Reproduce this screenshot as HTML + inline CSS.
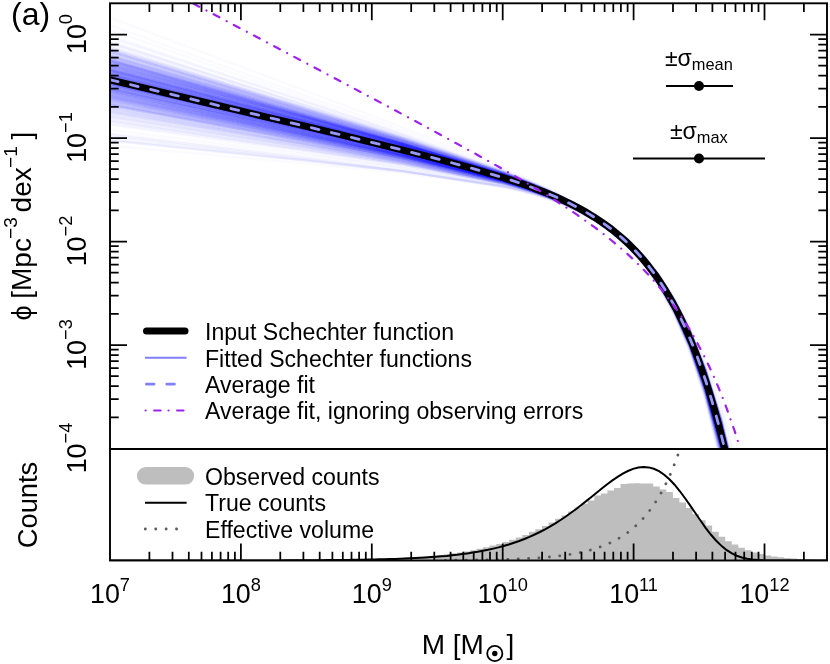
<!DOCTYPE html><html><head><meta charset="utf-8"><title>fig</title><style>html,body{margin:0;padding:0;background:#fff}svg{display:block;will-change:transform}text{font-family:"Liberation Sans",sans-serif;fill:#000}</style></head><body>
<svg width="830" height="664" viewBox="0 0 830 664">
<rect width="830" height="664" fill="#fff"/>
<defs><clipPath id="c1"><rect x="110.0" y="3.3" width="717.0" height="445.7"/></clipPath><clipPath id="c2"><rect x="110.0" y="449.0" width="717.0" height="111.5"/></clipPath></defs>
<g clip-path="url(#c1)" fill="none">
<g stroke="#2a2af8" stroke-opacity="0.025" stroke-width="2.4">
<path d="M103.5 78.8L203.3 102.5L303.1 126.3L402.9 150.6L502.7 177.9L518.3 183L533.9 188.6L549.5 194.7L565 201.6L580.6 209.5L596.2 218.7L611.8 229.7L627.4 243L643 259.2L658.5 279.5L674.1 305L689.7 337.3L705.3 378.6L720.9 431.9L729.5 470"/>
<path d="M103.5 72.9L203.3 97.6L303.1 122.4L402.9 147.7L502.7 176.2L518.3 181.5L533.9 187.3L549.5 193.6L565 200.8L580.6 208.9L596.2 218.5L611.8 229.8L627.4 243.5L643 260.3L658.5 281.2L674.1 307.4L689.7 340.8L705.3 383.4L720.9 438.2L727.9 470"/>
<path d="M103.5 70.1L203.3 95.4L303.1 120.7L402.9 146.6L502.7 175.5L518.3 180.9L533.9 186.7L549.5 193.1L565 200.2L580.6 208.4L596.2 217.9L611.8 229.2L627.4 242.8L643 259.5L658.5 280.1L674.1 306L689.7 338.8L705.3 380.8L720.9 434.7L728.7 470"/>
<path d="M103.5 79.2L203.3 102.6L303.1 126L402.9 150L502.7 177.2L518.3 182.3L533.9 187.9L549.5 194.1L565 201.1L580.6 209.1L596.2 218.5L611.8 229.8L627.4 243.4L643 260.2L658.5 281.2L674.1 307.5L689.7 341.1L705.3 384.1L720.9 439.5L727.5 470"/>
<path d="M103.5 53.7L203.3 83.2L303.1 112.8L402.9 142.8L502.7 175.8L518.3 181.7L533.9 188.1L549.5 195L565 202.6L580.6 211.2L596.2 221.1L611.8 232.6L627.4 246.3L643 262.8L658.5 283.1L674.1 308.4L689.7 340.2L705.3 380.6L720.9 432.2L729.7 470"/>
<path d="M103.5 53L203.3 82.5L303.1 112.1L402.9 142.1L502.7 175.1L518.3 181L533.9 187.4L549.5 194.3L565 201.9L580.6 210.5L596.2 220.3L611.8 231.7L627.4 245.4L643 261.8L658.5 282L674.1 307.1L689.7 338.7L705.3 378.8L720.9 430.1L730.3 470"/>
<path d="M103.5 91.6L203.3 113.1L303.1 134.6L402.9 156.7L502.7 181.9L518.3 186.8L533.9 192L549.5 197.9L565 204.6L580.6 212.3L596.2 221.5L611.8 232.4L627.4 245.8L643 262.3L658.5 282.9L674.1 309.1L689.7 342.4L705.3 385.1L720.9 440.3L727.3 470"/>
<path d="M103.5 79.5L203.3 103.4L303.1 127.3L402.9 151.8L502.7 179.3L518.3 184.4L533.9 190L549.5 196.2L565 203.1L580.6 211L596.2 220.3L611.8 231.3L627.4 244.7L643 261L658.5 281.3L674.1 306.9L689.7 339.4L705.3 380.9L720.9 434.4L728.9 470"/>
<path d="M103.5 80.7L203.3 104L303.1 127.3L402.9 151.2L502.7 178.3L518.3 183.4L533.9 188.9L549.5 195.1L565 202.1L580.6 210.1L596.2 219.5L611.8 230.8L627.4 244.4L643 261.2L658.5 282.2L674.1 308.6L689.7 342.3L705.3 385.4L720.9 441L727.2 470"/>
<path d="M103.5 65.4L203.3 91.7L303.1 118L402.9 144.9L502.7 174.7L518.3 180.1L533.9 186L549.5 192.5L565 199.7L580.6 207.9L596.2 217.4L611.8 228.6L627.4 242.1L643 258.5L658.5 278.7L674.1 304.1L689.7 336.2L705.3 377.1L720.9 429.6L730.1 470"/>
<path d="M103.5 82L203.3 104.9L303.1 127.9L402.9 151.4L502.7 178L518.3 183L533.9 188.4L549.5 194.4L565 201.3L580.6 209.1L596.2 218.3L611.8 229.3L627.4 242.6L643 258.9L658.5 279.3L674.1 305L689.7 337.7L705.3 379.6L720.9 433.5L729 470"/>
<path d="M103.5 82.1L203.3 105.6L303.1 129.1L402.9 153.2L502.7 180.2L518.3 185.2L533.9 190.7L549.5 196.7L565 203.4L580.6 211.2L596.2 220.2L611.8 230.9L627.4 243.8L643 259.7L658.5 279.4L674.1 304.2L689.7 335.6L705.3 375.7L720.9 427.4L730.8 470"/>
<path d="M103.5 77.1L203.3 100.4L303.1 123.8L402.9 147.8L502.7 174.9L518.3 180L533.9 185.5L549.5 191.7L565 198.6L580.6 206.6L596.2 216L611.8 227.2L627.4 240.7L643 257.4L658.5 278.2L674.1 304.3L689.7 337.6L705.3 380.3L720.9 435.3L728.5 470"/>
<path d="M103.5 60.2L203.3 87.7L303.1 115.2L402.9 143.3L502.7 174.3L518.3 179.9L533.9 186L549.5 192.6L565 200L580.6 208.3L596.2 217.9L611.8 229.1L627.4 242.6L643 258.9L658.5 279.1L674.1 304.2L689.7 335.9L705.3 376.3L720.9 428.1L730.6 470"/>
<path d="M103.5 87.3L203.3 108.8L303.1 130.4L402.9 152.6L502.7 178L518.3 182.8L533.9 188.1L549.5 194L565 200.7L580.6 208.4L596.2 217.5L611.8 228.4L627.4 241.8L643 258.2L658.5 278.8L674.1 304.8L689.7 338L705.3 380.5L720.9 435.5L728.4 470"/>
<path d="M103.5 69.2L203.3 95L303.1 120.9L402.9 147.3L502.7 176.7L518.3 182.1L533.9 188L549.5 194.4L565 201.5L580.6 209.6L596.2 219.1L611.8 230.2L627.4 243.5L643 259.9L658.5 280L674.1 305.3L689.7 337.2L705.3 378L720.9 430.4L730 470"/>
<path d="M103.5 60.9L203.3 88.4L303.1 115.9L402.9 143.9L502.7 175L518.3 180.6L533.9 186.7L549.5 193.4L565 200.8L580.6 209.2L596.2 218.9L611.8 230.3L627.4 243.9L643 260.5L658.5 281L674.1 306.6L689.7 339L705.3 380.1L720.9 432.9L729.4 470"/>
<path d="M103.5 94.9L203.3 115L303.1 135.2L402.9 155.9L502.7 180.1L518.3 184.7L533.9 189.9L549.5 195.7L565 202.4L580.6 210.2L596.2 219.4L611.8 230.6L627.4 244.3L643 261.3L658.5 282.7L674.1 309.9L689.7 344.7L705.3 389.4L720.9 447.3L725.6 470"/>
<path d="M103.5 35.4L203.3 68.4L303.1 101.4L402.9 135L502.7 171.3L518.3 177.7L533.9 184.5L549.5 191.8L565 199.9L580.6 208.8L596.2 219L611.8 230.7L627.4 244.6L643 261.1L658.5 281.3L674.1 306.2L689.7 337.3L705.3 376.6L720.9 426.7L731.4 470"/>
<path d="M103.5 88.5L203.3 110L303.1 131.6L402.9 153.8L502.7 179.1L518.3 184L533.9 189.3L549.5 195.2L565 201.9L580.6 209.7L596.2 218.8L611.8 229.8L627.4 243.2L643 259.8L658.5 280.5L674.1 306.7L689.7 340.1L705.3 383.1L720.9 438.4L727.7 470"/>
<path d="M103.5 100.4L203.3 119.3L303.1 138.2L402.9 157.8L502.7 180.7L518.3 185.2L533.9 190.1L549.5 195.7L565 202.1L580.6 209.7L596.2 218.6L611.8 229.5L627.4 242.9L643 259.6L658.5 280.6L674.1 307.2L689.7 341.4L705.3 385.4L720.9 442.4L726.7 470"/>
<path d="M103.5 77.8L203.3 101.8L303.1 126L402.9 150.7L502.7 178.5L518.3 183.7L533.9 189.3L549.5 195.5L565 202.5L580.6 210.5L596.2 219.8L611.8 230.9L627.4 244.4L643 260.9L658.5 281.3L674.1 307.1L689.7 339.8L705.3 381.6L720.9 435.5L728.6 470"/>
<path d="M103.5 73.8L203.3 98.4L303.1 123.2L402.9 148.4L502.7 176.6L518.3 181.8L533.9 187.4L549.5 193.6L565 200.5L580.6 208.4L596.2 217.5L611.8 228.4L627.4 241.4L643 257.3L658.5 277.1L674.1 301.8L689.7 333.2L705.3 373.2L720.9 424.6L731.5 470"/>
<path d="M103.5 99.7L203.3 118.3L303.1 137.1L402.9 156.5L502.7 179.2L518.3 183.6L533.9 188.5L549.5 194.1L565 200.5L580.6 208L596.2 216.9L611.8 227.8L627.4 241.1L643 257.8L658.5 278.7L674.1 305.4L689.7 339.5L705.3 383.5L720.9 440.4L727.1 470"/>
<path d="M103.5 85.4L203.3 107.3L303.1 129.2L402.9 151.7L502.7 177.5L518.3 182.5L533.9 187.9L549.5 193.9L565 200.7L580.6 208.7L596.2 218.1L611.8 229.3L627.4 243L643 260L658.5 281.3L674.1 308.1L689.7 342.4L705.3 386.5L720.9 443.3L726.5 470"/>
<path d="M103.5 49.6L203.3 79.8L303.1 110L402.9 140.7L502.7 174.2L518.3 180.2L533.9 186.7L549.5 193.6L565 201.3L580.6 210L596.2 219.9L611.8 231.4L627.4 245L643 261.5L658.5 281.7L674.1 306.8L689.7 338.4L705.3 378.4L720.9 429.5L730.5 470"/>
<path d="M103.5 139.9L203.3 150.1L303.1 160.4L402.9 171.4L502.7 186.2L518.3 189.5L533.9 193.4L549.5 198L565 203.6L580.6 210.3L596.2 218.8L611.8 229.4L627.4 242.8L643 260L658.5 282.1L674.1 310.6L689.7 347.6L705.3 395.8L720.9 458.8L723 470"/>
<path d="M103.5 97L203.3 116.7L303.1 136.4L402.9 156.7L502.7 180.2L518.3 184.8L533.9 189.8L549.5 195.5L565 202L580.6 209.5L596.2 218.5L611.8 229.4L627.4 242.7L643 259.2L658.5 280L674.1 306.4L689.7 340.1L705.3 383.5L720.9 439.7L727.4 470"/>
<path d="M103.5 96.9L203.3 116.4L303.1 136L402.9 156.2L502.7 179.7L518.3 184.3L533.9 189.4L549.5 195.1L565 201.6L580.6 209.3L596.2 218.5L611.8 229.5L627.4 243.1L643 260L658.5 281.3L674.1 308.4L689.7 343L705.3 387.6L720.9 445.3L726 470"/>
<path d="M103.5 60L203.3 87.9L303.1 116L402.9 144.5L502.7 175.9L518.3 181.6L533.9 187.7L549.5 194.3L565 201.7L580.6 210.1L596.2 219.6L611.8 230.9L627.4 244.3L643 260.6L658.5 280.6L674.1 305.6L689.7 337.1L705.3 377.1L720.9 428.4L730.7 470"/>
<path d="M103.5 81.8L203.3 104.9L303.1 128.1L402.9 151.8L502.7 178.6L518.3 183.7L533.9 189.1L549.5 195.2L565 202L580.6 209.9L596.2 219.1L611.8 230.1L627.4 243.4L643 259.8L658.5 280.2L674.1 305.9L689.7 338.5L705.3 380.4L720.9 434.2L728.9 470"/>
<path d="M103.5 48.1L203.3 78.1L303.1 108.2L402.9 138.8L502.7 172.3L518.3 178.4L533.9 184.8L549.5 191.9L565 199.6L580.6 208.3L596.2 218.4L611.8 230L627.4 243.9L643 260.8L658.5 281.4L674.1 307.1L689.7 339.3L705.3 380.3L720.9 432.8L729.5 470"/>
<path d="M103.5 88.4L203.3 109.4L303.1 130.5L402.9 152.2L502.7 177.3L518.3 182.1L533.9 187.5L549.5 193.4L565 200.2L580.6 208.2L596.2 217.6L611.8 228.9L627.4 242.7L643 259.9L658.5 281.5L674.1 308.9L689.7 343.9L705.3 388.8L720.9 446.9L725.6 470"/>
<path d="M103.5 91.5L203.3 112.8L303.1 134.1L402.9 156L502.7 181L518.3 185.8L533.9 191L549.5 196.9L565 203.5L580.6 211.2L596.2 220.2L611.8 231.1L627.4 244.3L643 260.7L658.5 281.2L674.1 307.1L689.7 340.2L705.3 382.6L720.9 437.3L728 470"/>
<path d="M103.5 120.4L203.3 135L303.1 149.6L402.9 164.9L502.7 183.6L518.3 187.4L533.9 191.8L549.5 196.9L565 202.8L580.6 209.8L596.2 218.4L611.8 229L627.4 242.2L643 258.8L658.5 279.9L674.1 307L689.7 342L705.3 387.2L720.9 446L725.7 470"/>
<path d="M103.5 62.1L203.3 89.6L303.1 117.2L402.9 145.3L502.7 176.2L518.3 181.7L533.9 187.8L549.5 194.3L565 201.6L580.6 209.7L596.2 219.2L611.8 230.2L627.4 243.3L643 259.3L658.5 278.9L674.1 303.4L689.7 334.2L705.3 373.4L720.9 423.7L732 470"/>
<path d="M103.5 68L203.3 94.1L303.1 120.4L402.9 147.3L502.7 177.1L518.3 182.6L533.9 188.5L549.5 195L565 202.3L580.6 210.6L596.2 220.2L611.8 231.5L627.4 245.1L643 261.8L658.5 282.4L674.1 308.1L689.7 340.8L705.3 382.4L720.9 435.9L728.6 470"/>
<path d="M103.5 81.6L203.3 104.7L303.1 127.9L402.9 151.6L502.7 178.3L518.3 183.3L533.9 188.7L549.5 194.7L565 201.5L580.6 209.2L596.2 218.3L611.8 229.1L627.4 242.1L643 258.1L658.5 278L674.1 303.1L689.7 335L705.3 375.7L720.9 428.2L730.5 470"/>
<path d="M103.5 73.2L203.3 97.9L303.1 122.7L402.9 148.1L502.7 176.5L518.3 181.8L533.9 187.5L549.5 193.8L565 200.9L580.6 209L596.2 218.5L611.8 229.7L627.4 243.3L643 259.9L658.5 280.6L674.1 306.5L689.7 339.4L705.3 381.5L720.9 435.6L728.5 470"/>
<path d="M103.5 74L203.3 98.7L303.1 123.4L402.9 148.7L502.7 177.1L518.3 182.5L533.9 188.2L549.5 194.6L565 201.8L580.6 210L596.2 219.6L611.8 231L627.4 244.8L643 261.8L658.5 282.9L674.1 309.4L689.7 343.1L705.3 386.3L720.9 441.7L727 470"/>
<path d="M103.5 67.4L203.3 93.3L303.1 119.2L402.9 145.6L502.7 175.1L518.3 180.6L533.9 186.5L549.5 193L565 200.3L580.6 208.6L596.2 218.2L611.8 229.6L627.4 243.4L643 260.2L658.5 281L674.1 307.2L689.7 340.3L705.3 382.6L720.9 436.9L728.2 470"/>
<path d="M103.5 49.6L203.3 79.6L303.1 109.8L402.9 140.5L502.7 174L518.3 180L533.9 186.4L549.5 193.3L565 201L580.6 209.6L596.2 219.5L611.8 231L627.4 244.6L643 261.1L658.5 281.2L674.1 306.3L689.7 337.7L705.3 377.7L720.9 428.7L730.7 470"/>
<path d="M103.5 88.8L203.3 110.2L303.1 131.6L402.9 153.7L502.7 178.9L518.3 183.6L533.9 188.9L549.5 194.8L565 201.4L580.6 209.1L596.2 218.2L611.8 229.1L627.4 242.4L643 258.9L658.5 279.5L674.1 305.5L689.7 338.6L705.3 381.2L720.9 436.1L728.3 470"/>
<path d="M103.5 95.8L203.3 115.6L303.1 135.5L402.9 156L502.7 179.8L518.3 184.4L533.9 189.5L549.5 195.2L565 201.8L580.6 209.4L596.2 218.5L611.8 229.5L627.4 242.9L643 259.6L658.5 280.6L674.1 307.2L689.7 341.2L705.3 385L720.9 441.7L726.9 470"/>
<path d="M103.5 56.2L203.3 85L303.1 113.9L402.9 143.2L502.7 175.4L518.3 181.1L533.9 187.3L549.5 194L565 201.4L580.6 209.7L596.2 219.1L611.8 230.2L627.4 243.4L643 259.2L658.5 278.7L674.1 302.9L689.7 333.3L705.3 371.8L720.9 421.1L732.9 470"/>
<path d="M103.5 78.1L203.3 101.9L303.1 125.8L402.9 150.2L502.7 177.8L518.3 182.9L533.9 188.5L549.5 194.7L565 201.7L580.6 209.7L596.2 219.1L611.8 230.3L627.4 243.7L643 260.3L658.5 281L674.1 306.9L689.7 339.9L705.3 382.2L720.9 436.6L728.3 470"/>
<path d="M103.5 73.8L203.3 98.4L303.1 123.1L402.9 148.4L502.7 176.7L518.3 182L533.9 187.7L549.5 194L565 201L580.6 209.1L596.2 218.4L611.8 229.6L627.4 243L643 259.5L658.5 279.9L674.1 305.5L689.7 338.1L705.3 379.7L720.9 433.2L729.2 470"/>
<path d="M103.5 89.1L203.3 110.6L303.1 132.3L402.9 154.4L502.7 179.7L518.3 184.5L533.9 189.8L549.5 195.6L565 202.3L580.6 210L596.2 219L611.8 229.8L627.4 243L643 259.3L658.5 279.6L674.1 305.3L689.7 338L705.3 380L720.9 434.2L728.8 470"/>
<path d="M103.5 92.8L203.3 113.5L303.1 134.3L402.9 155.6L502.7 180.1L518.3 184.7L533.9 189.8L549.5 195.5L565 202L580.6 209.5L596.2 218.4L611.8 229L627.4 242L643 258L658.5 278.1L674.1 303.5L689.7 335.8L705.3 377.4L720.9 431.1L729.6 470"/>
<path d="M103.5 103.4L203.3 121.5L303.1 139.7L402.9 158.4L502.7 180.3L518.3 184.7L533.9 189.4L549.5 194.8L565 201L580.6 208.3L596.2 217L611.8 227.5L627.4 240.4L643 256.5L658.5 276.9L674.1 302.7L689.7 335.9L705.3 378.5L720.9 433.8L728.7 470"/>
<path d="M103.5 98.2L203.3 117.1L303.1 136.2L402.9 155.8L502.7 178.8L518.3 183.3L533.9 188.3L549.5 194L565 200.5L580.6 208.2L596.2 217.3L611.8 228.4L627.4 242L643 259.1L658.5 280.5L674.1 307.9L689.7 342.9L705.3 388L720.9 446.4L725.7 470"/>
<path d="M103.5 90.3L203.3 111.2L303.1 132.2L402.9 153.8L502.7 178.3L518.3 183L533.9 188.1L549.5 193.7L565 200.1L580.6 207.6L596.2 216.3L611.8 226.7L627.4 239.4L643 255.1L658.5 274.6L674.1 299.3L689.7 330.8L705.3 371.2L720.9 423.3L731.7 470"/>
<path d="M103.5 44.8L203.3 76.2L303.1 107.6L402.9 139.5L502.7 174.1L518.3 180.2L533.9 186.7L549.5 193.8L565 201.5L580.6 210.1L596.2 219.9L611.8 231.3L627.4 244.7L643 260.8L658.5 280.4L674.1 304.6L689.7 335L705.3 373.4L720.9 422.4L732.7 470"/>
<path d="M103.5 106.8L203.3 124.6L303.1 142.5L402.9 161L502.7 183L518.3 187.3L533.9 192.2L549.5 197.8L565 204.2L580.6 211.9L596.2 221L611.8 232.1L627.4 245.9L643 263.2L658.5 285L674.1 312.8L689.7 348.5L705.3 394.6L720.9 454.4L724 470"/>
<path d="M103.5 78.7L203.3 102.3L303.1 125.9L402.9 150.1L502.7 177.4L518.3 182.5L533.9 188L549.5 194.2L565 201.1L580.6 209.1L596.2 218.4L611.8 229.5L627.4 242.9L643 259.4L658.5 280L674.1 305.8L689.7 338.7L705.3 380.8L720.9 435L728.7 470"/>
<path d="M103.5 57.4L203.3 85.9L303.1 114.4L402.9 143.5L502.7 175.5L518.3 181.2L533.9 187.4L549.5 194.2L565 201.7L580.6 210.1L596.2 219.9L611.8 231.2L627.4 244.8L643 261.2L658.5 281.4L674.1 306.6L689.7 338.4L705.3 378.7L720.9 430.4L730.1 470"/>
<path d="M103.5 96.7L203.3 116.2L303.1 135.9L402.9 156.1L502.7 179.6L518.3 184.1L533.9 189.1L549.5 194.8L565 201.3L580.6 208.8L596.2 217.8L611.8 228.6L627.4 241.8L643 258.3L658.5 279.1L674.1 305.4L689.7 339L705.3 382.3L720.9 438.2L727.7 470"/>
<path d="M103.5 69L203.3 94.8L303.1 120.7L402.9 147.2L502.7 176.7L518.3 182.1L533.9 188L549.5 194.5L565 201.8L580.6 210.1L596.2 219.7L611.8 231.1L627.4 244.8L643 261.6L658.5 282.4L674.1 308.5L689.7 341.6L705.3 383.8L720.9 438.1L728 470"/>
<path d="M103.5 66.7L203.3 92.9L303.1 119.1L402.9 145.9L502.7 175.6L518.3 181L533.9 186.9L549.5 193.3L565 200.5L580.6 208.6L596.2 218.1L611.8 229.2L627.4 242.5L643 258.7L658.5 278.8L674.1 303.9L689.7 335.7L705.3 376.2L720.9 428.1L730.6 470"/>
<path d="M103.5 58.7L203.3 86.8L303.1 115L402.9 143.6L502.7 175.1L518.3 180.8L533.9 186.9L549.5 193.5L565 200.9L580.6 209.1L596.2 218.6L611.8 229.8L627.4 243L643 259L658.5 278.7L674.1 303.3L689.7 334.2L705.3 373.5L720.9 423.7L732 470"/>
<path d="M103.5 56L203.3 84.3L303.1 112.6L402.9 141.5L502.7 173.3L518.3 179.1L533.9 185.3L549.5 192L565 199.5L580.6 208L596.2 217.7L611.8 229.2L627.4 242.8L643 259.4L658.5 279.7L674.1 305.2L689.7 337.2L705.3 378L720.9 430.2L730.1 470"/>
<path d="M103.5 77.8L203.3 101.3L303.1 124.8L402.9 148.9L502.7 176L518.3 181.1L533.9 186.7L549.5 192.8L565 199.7L580.6 207.7L596.2 217L611.8 228.1L627.4 241.5L643 258.1L658.5 278.6L674.1 304.6L689.7 337.5L705.3 379.7L720.9 434L728.8 470"/>
<path d="M103.5 48.3L203.3 79L303.1 109.7L402.9 140.9L502.7 175L518.3 181.1L533.9 187.6L549.5 194.7L565 202.5L580.6 211.2L596.2 221.2L611.8 232.9L627.4 246.7L643 263.3L658.5 283.7L674.1 309L689.7 340.8L705.3 381L720.9 432.5L729.7 470"/>
<path d="M103.5 65.9L203.3 91.8L303.1 117.9L402.9 144.5L502.7 174.1L518.3 179.5L533.9 185.4L549.5 191.9L565 199.1L580.6 207.4L596.2 216.9L611.8 228.2L627.4 241.8L643 258.4L658.5 278.9L674.1 304.7L689.7 337.3L705.3 378.9L720.9 432.3L729.4 470"/>
<path d="M103.5 53.9L203.3 82.4L303.1 111.1L402.9 140.3L502.7 172.4L518.3 178.2L533.9 184.5L549.5 191.3L565 198.9L580.6 207.5L596.2 217.3L611.8 228.9L627.4 242.7L643 259.4L658.5 280L674.1 305.7L689.7 338.1L705.3 379.4L720.9 432.2L729.5 470"/>
<path d="M103.5 78.9L203.3 102.4L303.1 126.1L402.9 150.2L502.7 177.5L518.3 182.6L533.9 188.1L549.5 194.3L565 201.2L580.6 209.1L596.2 218.4L611.8 229.4L627.4 242.8L643 259.2L658.5 279.6L674.1 305.4L689.7 338.1L705.3 379.9L720.9 433.8L729 470"/>
<path d="M103.5 99.8L203.3 119.1L303.1 138.5L402.9 158.5L502.7 181.7L518.3 186.2L533.9 191.2L549.5 196.7L565 203.2L580.6 210.6L596.2 219.5L611.8 230.2L627.4 243.4L643 259.8L658.5 280.4L674.1 306.5L689.7 339.9L705.3 383L720.9 438.6L727.6 470"/>
<path d="M103.5 70.2L203.3 96.1L303.1 122.2L402.9 148.7L502.7 178.1L518.3 183.5L533.9 189.3L549.5 195.6L565 202.7L580.6 210.7L596.2 220L611.8 230.9L627.4 244L643 260L658.5 279.7L674.1 304.3L689.7 335.5L705.3 375.2L720.9 426.1L731.3 470"/>
<path d="M103.5 81.6L203.3 103.9L303.1 126.3L402.9 149.3L502.7 175.5L518.3 180.5L533.9 186L549.5 192.1L565 199L580.6 207L596.2 216.4L611.8 227.7L627.4 241.4L643 258.4L658.5 279.6L674.1 306.5L689.7 340.7L705.3 384.6L720.9 441.2L727 470"/>
<path d="M103.5 71.6L203.3 96.7L303.1 122L402.9 147.7L502.7 176.4L518.3 181.7L533.9 187.4L549.5 193.7L565 200.7L580.6 208.7L596.2 217.9L611.8 228.9L627.4 242.1L643 258.1L658.5 278L674.1 303L689.7 334.6L705.3 374.9L720.9 426.7L731 470"/>
<path d="M103.5 81.7L203.3 104.6L303.1 127.6L402.9 151.2L502.7 177.8L518.3 182.8L533.9 188.3L549.5 194.4L565 201.2L580.6 209.1L596.2 218.3L611.8 229.3L627.4 242.6L643 259.1L658.5 279.6L674.1 305.4L689.7 338.2L705.3 380.3L720.9 434.5L728.7 470"/>
<path d="M103.5 76.6L203.3 100.3L303.1 124.1L402.9 148.4L502.7 175.9L518.3 181L533.9 186.6L549.5 192.7L565 199.7L580.6 207.7L596.2 217L611.8 228L627.4 241.5L643 257.9L658.5 278.4L674.1 304.2L689.7 337L705.3 378.9L720.9 432.9L729.1 470"/>
<path d="M103.5 86.3L203.3 108.6L303.1 131L402.9 153.9L502.7 179.8L518.3 184.7L533.9 189.9L549.5 195.8L565 202.4L580.6 210L596.2 218.9L611.8 229.5L627.4 242.3L643 258.1L658.5 277.8L674.1 302.6L689.7 334.1L705.3 374.4L720.9 426.4L731 470"/>
<path d="M103.5 39.6L203.3 71.6L303.1 103.7L402.9 136.3L502.7 171.5L518.3 177.7L533.9 184.3L549.5 191.3L565 199.1L580.6 207.7L596.2 217.5L611.8 228.7L627.4 241.9L643 257.8L658.5 277L674.1 300.7L689.7 330.4L705.3 367.8L720.9 415.4L734.8 470"/>
<path d="M103.5 87.7L203.3 109.3L303.1 131L402.9 153.2L502.7 178.6L518.3 183.4L533.9 188.7L549.5 194.6L565 201.3L580.6 209L596.2 218.1L611.8 228.9L627.4 242.2L643 258.6L658.5 279.1L674.1 305L689.7 337.9L705.3 380.3L720.9 434.9L728.6 470"/>
<path d="M103.5 73.5L203.3 97.8L303.1 122.2L402.9 147.2L502.7 175.2L518.3 180.4L533.9 186L549.5 192.3L565 199.2L580.6 207.2L596.2 216.6L611.8 227.6L627.4 241L643 257.4L658.5 277.7L674.1 303.2L689.7 335.7L705.3 377.1L720.9 430.4L729.8 470"/>
<path d="M103.5 83.7L203.3 106.3L303.1 129L402.9 152.2L502.7 178.7L518.3 183.7L533.9 189.1L549.5 195.2L565 202L580.6 209.9L596.2 219.2L611.8 230.3L627.4 243.8L643 260.5L658.5 281.3L674.1 307.5L689.7 341L705.3 383.8L720.9 439L727.6 470"/>
<path d="M103.5 97.7L203.3 117.3L303.1 136.9L402.9 157.1L502.7 180.6L518.3 185.1L533.9 190.1L549.5 195.8L565 202.2L580.6 209.7L596.2 218.7L611.8 229.5L627.4 242.7L643 259.1L658.5 279.8L674.1 306L689.7 339.5L705.3 382.6L720.9 438.4L727.7 470"/>
<path d="M103.5 78.3L203.3 102.2L303.1 126.2L402.9 150.7L502.7 178.2L518.3 183.3L533.9 188.9L549.5 195L565 201.8L580.6 209.7L596.2 218.8L611.8 229.7L627.4 242.8L643 258.8L658.5 278.7L674.1 303.8L689.7 335.5L705.3 376.1L720.9 428.4L730.5 470"/>
<path d="M103.5 77.1L203.3 101.5L303.1 126L402.9 151L502.7 179L518.3 184.2L533.9 189.9L549.5 196.1L565 203.1L580.6 211.1L596.2 220.4L611.8 231.5L627.4 244.8L643 261.2L658.5 281.5L674.1 307L689.7 339.3L705.3 380.7L720.9 433.9L729.1 470"/>
<path d="M103.5 67.4L203.3 93.8L303.1 120.2L402.9 147.2L502.7 177.1L518.3 182.5L533.9 188.4L549.5 194.8L565 202L580.6 210.1L596.2 219.4L611.8 230.4L627.4 243.6L643 259.6L658.5 279.4L674.1 304.2L689.7 335.4L705.3 375.2L720.9 426.2L731.2 470"/>
<path d="M103.5 59.6L203.3 87.7L303.1 115.8L402.9 144.4L502.7 175.7L518.3 181.4L533.9 187.4L549.5 194L565 201.3L580.6 209.5L596.2 218.9L611.8 229.8L627.4 242.9L643 258.7L658.5 278.1L674.1 302.2L689.7 332.6L705.3 371.2L720.9 420.5L733 470"/>
<path d="M103.5 90.7L203.3 112L303.1 133.3L402.9 155.2L502.7 180.3L518.3 185L533.9 190.3L549.5 196.1L565 202.8L580.6 210.5L596.2 219.6L611.8 230.5L627.4 243.7L643 260.2L658.5 280.7L674.1 306.8L689.7 339.9L705.3 382.5L720.9 437.5L728 470"/>
<path d="M103.5 107.5L203.3 124.8L303.1 142.2L402.9 160.2L502.7 181.6L518.3 185.9L533.9 190.6L549.5 196L565 202.3L580.6 209.6L596.2 218.4L611.8 229.2L627.4 242.5L643 259.1L658.5 280.1L674.1 306.9L689.7 341.3L705.3 385.7L720.9 443.3L726.4 470"/>
<path d="M103.5 93.1L203.3 113.7L303.1 134.4L402.9 155.6L502.7 180.2L518.3 184.9L533.9 190.2L549.5 196L565 202.7L580.6 210.5L596.2 219.8L611.8 231L627.4 244.7L643 261.6L658.5 283L674.1 310L689.7 344.6L705.3 389.1L720.9 446.5L725.8 470"/>
<path d="M103.5 61.2L203.3 88.4L303.1 115.6L402.9 143.3L502.7 173.8L518.3 179.4L533.9 185.3L549.5 191.8L565 199L580.6 207.2L596.2 216.6L611.8 227.6L627.4 240.7L643 256.7L658.5 276.3L674.1 300.9L689.7 331.8L705.3 371.1L720.9 421.5L732.5 470"/>
<path d="M103.5 87.8L203.3 109.7L303.1 131.8L402.9 154.3L502.7 179.8L518.3 184.6L533.9 189.8L549.5 195.6L565 202.1L580.6 209.6L596.2 218.4L611.8 228.9L627.4 241.6L643 257.2L658.5 276.7L674.1 301.2L689.7 332.4L705.3 372.4L720.9 423.9L731.7 470"/>
<path d="M103.5 56.8L203.3 84.8L303.1 112.8L402.9 141.4L502.7 172.8L518.3 178.5L533.9 184.7L549.5 191.4L565 198.8L580.6 207.1L596.2 216.8L611.8 228.1L627.4 241.5L643 257.9L658.5 278L674.1 303.2L689.7 334.8L705.3 375.1L720.9 426.7L731 470"/>
<path d="M103.5 61.6L203.3 89L303.1 116.4L402.9 144.3L502.7 175.3L518.3 180.9L533.9 187L549.5 193.7L565 201.1L580.6 209.6L596.2 219.3L611.8 230.7L627.4 244.5L643 261.2L658.5 281.8L674.1 307.6L689.7 340.2L705.3 381.8L720.9 435.1L728.8 470"/>
<path d="M103.5 75.1L203.3 99.4L303.1 123.8L402.9 148.8L502.7 176.8L518.3 182L533.9 187.6L549.5 193.8L565 200.8L580.6 208.8L596.2 218.1L611.8 229.1L627.4 242.4L643 258.7L658.5 279L674.1 304.4L689.7 336.7L705.3 377.9L720.9 431L729.7 470"/>
<path d="M103.5 84L203.3 106.5L303.1 129.1L402.9 152.2L502.7 178.4L518.3 183.4L533.9 188.8L549.5 194.8L565 201.5L580.6 209.3L596.2 218.5L611.8 229.4L627.4 242.6L643 259L658.5 279.3L674.1 305L689.7 337.7L705.3 379.6L720.9 433.6L729 470"/>
<path d="M103.5 105.6L203.3 123.4L303.1 141.3L402.9 159.8L502.7 181.5L518.3 185.8L533.9 190.5L549.5 195.9L565 202.1L580.6 209.4L596.2 218L611.8 228.6L627.4 241.6L643 257.9L658.5 278.4L674.1 304.4L689.7 337.9L705.3 380.9L720.9 436.8L728 470"/>
<path d="M103.5 94.7L203.3 114.9L303.1 135.2L402.9 156.1L502.7 180.4L518.3 185.1L533.9 190.4L549.5 196.2L565 203L580.6 210.9L596.2 220.2L611.8 231.6L627.4 245.5L643 262.8L658.5 284.6L674.1 312.2L689.7 347.6L705.3 393.2L720.9 452.1L724.5 470"/>
<path d="M103.5 104.1L203.3 122.6L303.1 141.2L402.9 160.4L502.7 182.8L518.3 187.2L533.9 192.1L549.5 197.7L565 204L580.6 211.5L596.2 220.3L611.8 231.1L627.4 244.4L643 261L658.5 281.8L674.1 308.4L689.7 342.3L705.3 386.1L720.9 442.9L726.6 470"/>
<path d="M103.5 66L203.3 91.9L303.1 117.8L402.9 144.2L502.7 173.6L518.3 178.9L533.9 184.8L549.5 191.1L565 198.2L580.6 206.3L596.2 215.6L611.8 226.7L627.4 239.9L643 256L658.5 276L674.1 300.9L689.7 332.5L705.3 372.8L720.9 424.4L731.5 470"/>
<path d="M103.5 64.9L203.3 91.4L303.1 117.9L402.9 145L502.7 175.1L518.3 180.7L533.9 186.7L549.5 193.3L565 200.6L580.6 209L596.2 218.7L611.8 230.2L627.4 244L643 260.9L658.5 281.7L674.1 307.9L689.7 340.9L705.3 383.2L720.9 437.4L728.1 470"/>
<path d="M103.5 57.9L203.3 86.3L303.1 114.9L402.9 143.9L502.7 175.8L518.3 181.6L533.9 187.8L549.5 194.5L565 202L580.6 210.4L596.2 220L611.8 231.4L627.4 244.8L643 261.2L658.5 281.2L674.1 306.3L689.7 337.8L705.3 377.8L720.9 429L730.5 470"/>
<path d="M103.5 94.9L203.3 115.3L303.1 135.7L402.9 156.7L502.7 180.8L518.3 185.4L533.9 190.4L549.5 196.1L565 202.5L580.6 210L596.2 218.8L611.8 229.3L627.4 242.3L643 258.2L658.5 278.3L674.1 303.6L689.7 336L705.3 377.5L720.9 431.2L729.6 470"/>
<path d="M103.5 76.5L203.3 100.6L303.1 124.8L402.9 149.6L502.7 177.4L518.3 182.6L533.9 188.2L549.5 194.5L565 201.5L580.6 209.5L596.2 218.9L611.8 230.1L627.4 243.5L643 260.1L658.5 280.7L674.1 306.6L689.7 339.5L705.3 381.5L720.9 435.7L728.5 470"/>
<path d="M103.5 58L203.3 86.3L303.1 114.6L402.9 143.4L502.7 175.1L518.3 180.8L533.9 186.9L549.5 193.6L565 200.9L580.6 209.2L596.2 218.8L611.8 229.9L627.4 243.2L643 259.3L658.5 279L674.1 303.6L689.7 334.6L705.3 373.9L720.9 424.2L731.9 470"/>
<path d="M103.5 109.1L203.3 126L303.1 143L402.9 160.6L502.7 181.8L518.3 186.1L533.9 190.9L549.5 196.3L565 202.7L580.6 210.2L596.2 219.3L611.8 230.4L627.4 244.2L643 261.6L658.5 283.5L674.1 311.6L689.7 347.6L705.3 394.2L720.9 454.7L723.9 470"/>
<path d="M103.5 92.9L203.3 113.1L303.1 133.3L402.9 154.2L502.7 178.2L518.3 182.9L533.9 188L549.5 193.8L565 200.3L580.6 208L596.2 217L611.8 228L627.4 241.4L643 258L658.5 278.8L674.1 305.3L689.7 339.1L705.3 382.5L720.9 438.7L727.6 470"/>
<path d="M103.5 53.3L203.3 82.1L303.1 110.9L402.9 140.3L502.7 172.7L518.3 178.5L533.9 184.8L549.5 191.7L565 199.3L580.6 207.9L596.2 217.7L611.8 229.3L627.4 243.1L643 259.8L658.5 280.4L674.1 306.1L689.7 338.5L705.3 379.6L720.9 432.3L729.5 470"/>
<path d="M103.5 50.7L203.3 80.4L303.1 110.2L402.9 140.4L502.7 173.4L518.3 179.3L533.9 185.6L549.5 192.4L565 199.9L580.6 208.2L596.2 217.8L611.8 228.9L627.4 242.1L643 258L658.5 277.4L674.1 301.5L689.7 331.7L705.3 370L720.9 418.9L733.5 470"/>
<path d="M103.5 76.5L203.3 100.9L303.1 125.3L402.9 150.3L502.7 178.3L518.3 183.5L533.9 189.2L549.5 195.4L565 202.4L580.6 210.5L596.2 219.9L611.8 231L627.4 244.5L643 261L658.5 281.5L674.1 307.3L689.7 340.1L705.3 381.9L720.9 435.8L728.5 470"/>
<path d="M103.5 77.5L203.3 101.8L303.1 126.1L402.9 150.9L502.7 178.7L518.3 183.8L533.9 189.3L549.5 195.4L565 202.3L580.6 210L596.2 219.1L611.8 229.8L627.4 242.7L643 258.5L658.5 278L674.1 302.5L689.7 333.6L705.3 373.2L720.9 424.2L731.7 470"/>
<path d="M103.5 52.5L203.3 81.5L303.1 110.6L402.9 140.1L502.7 172.6L518.3 178.5L533.9 184.7L549.5 191.6L565 199.1L580.6 207.7L596.2 217.5L611.8 228.9L627.4 242.6L643 259.1L658.5 279.4L674.1 304.7L689.7 336.5L705.3 377L720.9 428.7L730.5 470"/>
<path d="M103.5 95.3L203.3 115.6L303.1 136L402.9 157L502.7 181.1L518.3 185.7L533.9 190.8L549.5 196.5L565 203L580.6 210.6L596.2 219.5L611.8 230.3L627.4 243.5L643 259.8L658.5 280.2L674.1 306.1L689.7 339.2L705.3 381.7L720.9 436.6L728.2 470"/>
<path d="M103.5 72.2L203.3 97.4L303.1 122.6L402.9 148.4L502.7 177.2L518.3 182.5L533.9 188.2L549.5 194.6L565 201.7L580.6 209.7L596.2 219.2L611.8 230.3L627.4 243.7L643 260.1L658.5 280.5L674.1 306L689.7 338.3L705.3 379.6L720.9 432.7L729.3 470"/>
<path d="M103.5 78.2L203.3 102.1L303.1 126.1L402.9 150.7L502.7 178.4L518.3 183.6L533.9 189.2L549.5 195.5L565 202.6L580.6 210.7L596.2 220.1L611.8 231.4L627.4 245.1L643 261.9L658.5 282.9L674.1 309.3L689.7 342.8L705.3 385.7L720.9 441L727.2 470"/>
<path d="M103.5 105.4L203.3 122.9L303.1 140.5L402.9 158.8L502.7 180.5L518.3 184.9L533.9 189.7L549.5 195.3L565 201.7L580.6 209.2L596.2 218.3L611.8 229.4L627.4 243.2L643 260.4L658.5 282.1L674.1 309.9L689.7 345.6L705.3 391.6L720.9 451.3L724.6 470"/>
<path d="M103.5 61.9L203.3 89.4L303.1 117L402.9 145.1L502.7 176L518.3 181.6L533.9 187.6L549.5 194.2L565 201.5L580.6 209.7L596.2 219.1L611.8 230.2L627.4 243.5L643 259.5L658.5 279.3L674.1 303.9L689.7 334.9L705.3 374.4L720.9 425L731.6 470"/>
<path d="M103.5 67.5L203.3 93.6L303.1 119.9L402.9 146.6L502.7 176.3L518.3 181.8L533.9 187.6L549.5 194L565 201.2L580.6 209.4L596.2 218.8L611.8 229.9L627.4 243.2L643 259.4L658.5 279.5L674.1 304.6L689.7 336.3L705.3 376.7L720.9 428.7L730.5 470"/>
<path d="M103.5 85.9L203.3 107.8L303.1 129.7L402.9 152.2L502.7 177.8L518.3 182.7L533.9 188L549.5 193.9L565 200.7L580.6 208.5L596.2 217.6L611.8 228.6L627.4 241.9L643 258.4L658.5 279L674.1 305.1L689.7 338.3L705.3 380.8L720.9 435.7L728.4 470"/>
<path d="M103.5 62.4L203.3 89.5L303.1 116.7L402.9 144.4L502.7 175.1L518.3 180.7L533.9 186.7L549.5 193.3L565 200.6L580.6 208.9L596.2 218.5L611.8 229.8L627.4 243.3L643 259.7L658.5 280L674.1 305.3L689.7 337.2L705.3 377.9L720.9 430.1L730.1 470"/>
<path d="M103.5 64.6L203.3 91.7L303.1 118.9L402.9 146.7L502.7 177.3L518.3 182.9L533.9 188.9L549.5 195.5L565 202.8L580.6 211.1L596.2 220.7L611.8 232L627.4 245.4L643 261.8L658.5 282.1L674.1 307.3L689.7 339.2L705.3 379.9L720.9 432L729.7 470"/>
<path d="M103.5 57.1L203.3 85.1L303.1 113.3L402.9 142L502.7 173.8L518.3 179.6L533.9 185.8L549.5 192.7L565 200.3L580.6 208.9L596.2 218.9L611.8 230.6L627.4 244.6L643 261.7L658.5 282.8L674.1 309.2L689.7 342.5L705.3 385L720.9 439.4L727.7 470"/>
<path d="M103.5 47.4L203.3 77.9L303.1 108.4L402.9 139.5L502.7 173.4L518.3 179.5L533.9 186L549.5 193.1L565 200.9L580.6 209.7L596.2 219.7L611.8 231.5L627.4 245.4L643 262.2L658.5 282.7L674.1 308.3L689.7 340.5L705.3 381.3L720.9 433.4L729.4 470"/>
<path d="M103.5 84.1L203.3 106.6L303.1 129.2L402.9 152.4L502.7 178.7L518.3 183.7L533.9 189.1L549.5 195.2L565 202.1L580.6 210L596.2 219.4L611.8 230.5L627.4 244.1L643 260.9L658.5 281.8L674.1 308.2L689.7 341.9L705.3 385L720.9 440.7L727.2 470"/>
<path d="M103.5 68.8L203.3 94.9L303.1 121L402.9 147.7L502.7 177.3L518.3 182.7L533.9 188.6L549.5 195L565 202.2L580.6 210.3L596.2 219.7L611.8 230.8L627.4 244.1L643 260.3L658.5 280.3L674.1 305.4L689.7 337.1L705.3 377.5L720.9 429.4L730.3 470"/>
<path d="M103.5 40.9L203.3 73L303.1 105.2L402.9 137.9L502.7 173.1L518.3 179.3L533.9 185.9L549.5 193L565 200.7L580.6 209.3L596.2 219L611.8 230.2L627.4 243.4L643 259.1L658.5 278.2L674.1 301.8L689.7 331.1L705.3 368.2L720.9 415.4L734.9 470"/>
<path d="M103.5 77.9L203.3 101.6L303.1 125.5L402.9 149.9L502.7 177.4L518.3 182.5L533.9 188.1L549.5 194.2L565 201.2L580.6 209.1L596.2 218.3L611.8 229.4L627.4 242.7L643 259L658.5 279.3L674.1 304.9L689.7 337.3L705.3 378.8L720.9 432.2L729.4 470"/>
<path d="M103.5 63.5L203.3 90.4L303.1 117.5L402.9 145.1L502.7 175.8L518.3 181.4L533.9 187.5L549.5 194.2L565 201.7L580.6 210.1L596.2 220L611.8 231.6L627.4 245.5L643 262.5L658.5 283.6L674.1 309.9L689.7 343.2L705.3 385.7L720.9 440.3L727.4 470"/>
<path d="M103.5 90.8L203.3 112.1L303.1 133.6L402.9 155.5L502.7 180.6L518.3 185.3L533.9 190.5L549.5 196.3L565 202.9L580.6 210.5L596.2 219.4L611.8 230.1L627.4 243.2L643 259.3L658.5 279.4L674.1 304.8L689.7 337.1L705.3 378.7L720.9 432.3L729.3 470"/>
<path d="M103.5 77.5L203.3 102.3L303.1 127.2L402.9 152.6L502.7 180.9L518.3 186.1L533.9 191.7L549.5 197.9L565 204.8L580.6 212.7L596.2 221.8L611.8 232.6L627.4 245.6L643 261.4L658.5 281L674.1 305.6L689.7 336.7L705.3 376.4L720.9 427.4L730.9 470"/>
<path d="M103.5 60.2L203.3 88.3L303.1 116.4L402.9 145L502.7 176.4L518.3 182.1L533.9 188.2L549.5 194.8L565 202.1L580.6 210.4L596.2 219.8L611.8 230.9L627.4 244.1L643 260.1L658.5 279.7L674.1 304.2L689.7 335L705.3 374.1L720.9 424.1L732 470"/>
<path d="M103.5 54.1L203.3 82.5L303.1 111.1L402.9 140.1L502.7 172.2L518.3 178L533.9 184.2L549.5 191L565 198.6L580.6 207.2L596.2 217L611.8 228.6L627.4 242.4L643 259.1L658.5 279.8L674.1 305.5L689.7 338L705.3 379.3L720.9 432.2L729.5 470"/>
<path d="M103.5 76.7L203.3 101.1L303.1 125.6L402.9 150.7L502.7 178.9L518.3 184.1L533.9 189.9L549.5 196.2L565 203.3L580.6 211.4L596.2 220.9L611.8 232.2L627.4 245.8L643 262.6L658.5 283.4L674.1 309.6L689.7 342.9L705.3 385.4L720.9 440.2L727.4 470"/>
<path d="M103.5 77.9L203.3 101.7L303.1 125.6L402.9 150L502.7 177.5L518.3 182.6L533.9 188.2L549.5 194.3L565 201.3L580.6 209.2L596.2 218.6L611.8 229.6L627.4 243L643 259.4L658.5 279.9L674.1 305.6L689.7 338.3L705.3 380.1L720.9 433.9L729 470"/>
<path d="M103.5 81.5L203.3 104.1L303.1 126.9L402.9 150.1L502.7 176.5L518.3 181.5L533.9 186.9L549.5 192.9L565 199.7L580.6 207.6L596.2 216.8L611.8 227.8L627.4 241.1L643 257.5L658.5 278L674.1 303.9L689.7 336.8L705.3 378.9L720.9 433.2L729 470"/>
<path d="M103.5 75.9L203.3 100L303.1 124.2L402.9 149L502.7 176.9L518.3 182.1L533.9 187.7L549.5 194L565 201.1L580.6 209.1L596.2 218.6L611.8 229.8L627.4 243.5L643 260.2L658.5 281L674.1 307.1L689.7 340.4L705.3 382.9L720.9 437.6L728 470"/>
<path d="M103.5 68.8L203.3 94.8L303.1 120.9L402.9 147.6L502.7 177.2L518.3 182.6L533.9 188.5L549.5 195L565 202.2L580.6 210.3L596.2 219.8L611.8 231L627.4 244.5L643 260.9L658.5 281.2L674.1 306.6L689.7 338.7L705.3 379.7L720.9 432.4L729.5 470"/>
<path d="M103.5 77.1L203.3 101.2L303.1 125.3L402.9 149.9L502.7 177.6L518.3 182.7L533.9 188.3L549.5 194.5L565 201.4L580.6 209.4L596.2 218.6L611.8 229.6L627.4 242.9L643 259.2L658.5 279.5L674.1 304.9L689.7 337.2L705.3 378.5L720.9 431.7L729.6 470"/>
<path d="M103.5 61.9L203.3 89.3L303.1 116.8L402.9 144.7L502.7 175.6L518.3 181.3L533.9 187.3L549.5 193.9L565 201.3L580.6 209.7L596.2 219.3L611.8 230.6L627.4 244.1L643 260.6L658.5 280.9L674.1 306.3L689.7 338.3L705.3 379.1L720.9 431.4L729.8 470"/>
<path d="M103.5 77.2L203.3 100.9L303.1 124.7L402.9 149.1L502.7 176.7L518.3 181.8L533.9 187.5L549.5 193.8L565 200.8L580.6 209L596.2 218.5L611.8 229.9L627.4 243.6L643 260.6L658.5 281.8L674.1 308.4L689.7 342.3L705.3 385.8L720.9 441.7L727 470"/>
<path d="M103.5 72L203.3 97.6L303.1 123.2L402.9 149.4L502.7 178.7L518.3 184L533.9 189.9L549.5 196.3L565 203.5L580.6 211.6L596.2 221.1L611.8 232.3L627.4 245.8L643 262.3L658.5 282.8L674.1 308.4L689.7 340.9L705.3 382.3L720.9 435.6L728.7 470"/>
<path d="M103.5 80.9L203.3 104.1L303.1 127.4L402.9 151.3L502.7 178.2L518.3 183.3L533.9 188.8L549.5 194.9L565 201.8L580.6 209.7L596.2 218.9L611.8 230L627.4 243.4L643 259.9L658.5 280.4L674.1 306.2L689.7 339.1L705.3 381.2L720.9 435.4L728.6 470"/>
<path d="M103.5 64.6L203.3 91.4L303.1 118.3L402.9 145.6L502.7 176L518.3 181.6L533.9 187.5L549.5 194.1L565 201.4L580.6 209.7L596.2 219.3L611.8 230.6L627.4 244.1L643 260.6L658.5 280.9L674.1 306.4L689.7 338.6L705.3 379.6L720.9 432.2L729.5 470"/>
<path d="M103.5 60.8L203.3 88.3L303.1 115.8L402.9 143.9L502.7 174.9L518.3 180.5L533.9 186.6L549.5 193.2L565 200.5L580.6 208.8L596.2 218.4L611.8 229.6L627.4 243L643 259.3L658.5 279.4L674.1 304.4L689.7 336L705.3 376.2L720.9 427.7L730.8 470"/>
<path d="M103.5 74.3L203.3 99.4L303.1 124.6L402.9 150.2L502.7 178.9L518.3 184.2L533.9 189.9L549.5 196.2L565 203.2L580.6 211.2L596.2 220.5L611.8 231.5L627.4 244.7L643 260.9L658.5 280.9L674.1 306L689.7 337.8L705.3 378.4L720.9 430.6L730 470"/>
<path d="M103.5 90.5L203.3 111.4L303.1 132.5L402.9 154.1L502.7 178.9L518.3 183.6L533.9 188.8L549.5 194.6L565 201.2L580.6 208.8L596.2 217.8L611.8 228.6L627.4 241.8L643 258.1L658.5 278.6L674.1 304.4L689.7 337.4L705.3 379.7L720.9 434.3L728.7 470"/>
<path d="M103.5 78.3L203.3 101.9L303.1 125.7L402.9 150L502.7 177.3L518.3 182.3L533.9 187.9L549.5 194L565 200.8L580.6 208.7L596.2 217.8L611.8 228.7L627.4 241.9L643 258L658.5 278.1L674.1 303.3L689.7 335.3L705.3 376.3L720.9 429L730.2 470"/>
<path d="M103.5 46.3L203.3 76.7L303.1 107.2L402.9 138.1L502.7 171.8L518.3 177.9L533.9 184.3L549.5 191.2L565 198.9L580.6 207.4L596.2 217.2L611.8 228.6L627.4 242L643 258.2L658.5 278L674.1 302.5L689.7 333.2L705.3 372.2L720.9 422L732.6 470"/>
<path d="M103.5 79.4L203.3 102.4L303.1 125.4L402.9 149.1L502.7 176L518.3 181L533.9 186.6L549.5 192.8L565 199.8L580.6 207.9L596.2 217.4L611.8 228.8L627.4 242.6L643 259.7L658.5 281L674.1 307.9L689.7 342.2L705.3 386.1L720.9 442.8L726.6 470"/>
<path d="M103.5 43.5L203.3 75.2L303.1 107L402.9 139.2L502.7 174.2L518.3 180.4L533.9 187L549.5 194.2L565 202L580.6 210.7L596.2 220.6L611.8 232.1L627.4 245.6L643 261.8L658.5 281.7L674.1 306.2L689.7 336.8L705.3 375.6L720.9 425L731.9 470"/>
<path d="M103.5 70.4L203.3 96.1L303.1 121.8L402.9 148.1L502.7 177.2L518.3 182.6L533.9 188.3L549.5 194.6L565 201.6L580.6 209.6L596.2 218.8L611.8 229.7L627.4 242.8L643 258.6L658.5 278.3L674.1 302.8L689.7 333.9L705.3 373.4L720.9 424.2L731.8 470"/>
<path d="M103.5 104.7L203.3 122.9L303.1 141.2L402.9 160L502.7 182L518.3 186.2L533.9 191L549.5 196.3L565 202.4L580.6 209.6L596.2 218.2L611.8 228.5L627.4 241.2L643 257L658.5 276.9L674.1 302.2L689.7 334.5L705.3 376.2L720.9 430.1L729.7 470"/>
<path d="M103.5 52.7L203.3 81.8L303.1 110.9L402.9 140.5L502.7 173.1L518.3 179L533.9 185.3L549.5 192.2L565 199.8L580.6 208.3L596.2 218.2L611.8 229.7L627.4 243.5L643 260.1L658.5 280.6L674.1 306L689.7 338.1L705.3 378.9L720.9 431.1L729.9 470"/>
<path d="M103.5 81.5L203.3 104.8L303.1 128.2L402.9 152.2L502.7 179.1L518.3 184.2L533.9 189.6L549.5 195.6L565 202.4L580.6 210.2L596.2 219.3L611.8 230L627.4 243.1L643 259.1L658.5 279L674.1 304L689.7 335.8L705.3 376.4L720.9 428.7L730.4 470"/>
<path d="M103.5 101.8L203.3 120.2L303.1 138.6L402.9 157.6L502.7 179.9L518.3 184.2L533.9 189L549.5 194.5L565 200.7L580.6 208.1L596.2 216.8L611.8 227.4L627.4 240.4L643 256.7L658.5 277.1L674.1 303.1L689.7 336.4L705.3 379.3L720.9 434.8L728.5 470"/>
<path d="M103.5 78.6L203.3 102.6L303.1 126.6L402.9 151.1L502.7 178.7L518.3 183.9L533.9 189.4L549.5 195.6L565 202.5L580.6 210.4L596.2 219.6L611.8 230.6L627.4 243.9L643 260.1L658.5 280.3L674.1 305.7L689.7 337.9L705.3 379.1L720.9 432.1L729.5 470"/>
<path d="M103.5 86.2L203.3 108.1L303.1 130.1L402.9 152.6L502.7 178.2L518.3 183.1L533.9 188.4L549.5 194.3L565 201.1L580.6 208.8L596.2 218L611.8 228.9L627.4 242.2L643 258.7L658.5 279.2L674.1 305.2L689.7 338.3L705.3 380.7L720.9 435.5L728.5 470"/>
<path d="M103.5 73.7L203.3 98.5L303.1 123.4L402.9 148.9L502.7 177.5L518.3 182.8L533.9 188.5L549.5 194.9L565 202L580.6 210.1L596.2 219.6L611.8 230.9L627.4 244.4L643 261.1L658.5 281.7L674.1 307.7L689.7 340.6L705.3 382.6L720.9 436.8L728.3 470"/>
<path d="M103.5 76.6L203.3 100.7L303.1 124.9L402.9 149.5L502.7 177.2L518.3 182.3L533.9 187.9L549.5 194L565 200.9L580.6 208.7L596.2 217.9L611.8 228.7L627.4 241.8L643 257.9L658.5 277.8L674.1 302.8L689.7 334.5L705.3 375L720.9 427.1L730.8 470"/>
<path d="M103.5 82L203.3 105.7L303.1 129.5L402.9 153.9L502.7 181.2L518.3 186.3L533.9 191.8L549.5 197.9L565 204.8L580.6 212.6L596.2 221.8L611.8 232.6L627.4 245.8L643 261.9L658.5 281.9L674.1 307L689.7 338.9L705.3 379.7L720.9 432.2L729.5 470"/>
<path d="M103.5 84.5L203.3 106.4L303.1 128.5L402.9 151.1L502.7 176.8L518.3 181.6L533.9 186.9L549.5 192.8L565 199.5L580.6 207.2L596.2 216.2L611.8 226.9L627.4 240L643 256.2L658.5 276.3L674.1 301.7L689.7 334.1L705.3 375.6L720.9 429L730.1 470"/>
<path d="M103.5 82L203.3 104.7L303.1 127.5L402.9 150.8L502.7 177.3L518.3 182.2L533.9 187.6L549.5 193.6L565 200.4L580.6 208.2L596.2 217.4L611.8 228.3L627.4 241.5L643 257.8L658.5 278.1L674.1 303.7L689.7 336.2L705.3 377.9L720.9 431.7L729.5 470"/>
<path d="M103.5 75.8L203.3 99.6L303.1 123.6L402.9 148L502.7 175.4L518.3 180.5L533.9 186L549.5 192.1L565 198.9L580.6 206.8L596.2 215.9L611.8 226.7L627.4 239.8L643 255.9L658.5 275.8L674.1 300.8L689.7 332.5L705.3 373.1L720.9 425.4L731.2 470"/>
<path d="M103.5 76L203.3 99.9L303.1 123.8L402.9 148.3L502.7 175.8L518.3 180.9L533.9 186.5L549.5 192.6L565 199.6L580.6 207.5L596.2 216.7L611.8 227.7L627.4 241L643 257.4L658.5 277.6L674.1 303.2L689.7 335.6L705.3 377L720.9 430.3L729.8 470"/>
<path d="M103.5 99.1L203.3 118.1L303.1 137.3L402.9 157L502.7 180.1L518.3 184.7L533.9 189.7L549.5 195.3L565 201.9L580.6 209.5L596.2 218.6L611.8 229.6L627.4 243.2L643 260.1L658.5 281.3L674.1 308.4L689.7 343.1L705.3 387.8L720.9 445.6L725.9 470"/>
<path d="M103.5 106.7L203.3 124.7L303.1 142.9L402.9 161.6L502.7 183.5L518.3 187.8L533.9 192.5L549.5 197.9L565 204.1L580.6 211.3L596.2 220L611.8 230.4L627.4 243.3L643 259.3L658.5 279.5L674.1 305.2L689.7 338.2L705.3 380.6L720.9 435.5L728.4 470"/>
<path d="M103.5 84.6L203.3 107.2L303.1 130L402.9 153.2L502.7 179.7L518.3 184.7L533.9 190.2L549.5 196.2L565 203.1L580.6 211L596.2 220.3L611.8 231.5L627.4 245L643 261.7L658.5 282.5L674.1 308.8L689.7 342.3L705.3 385.2L720.9 440.6L727.3 470"/>
<path d="M103.5 86.3L203.3 108.5L303.1 130.7L402.9 153.5L502.7 179.3L518.3 184.2L533.9 189.5L549.5 195.4L565 202.1L580.6 209.8L596.2 218.9L611.8 229.7L627.4 242.9L643 259.1L658.5 279.3L674.1 304.9L689.7 337.4L705.3 379L720.9 432.7L729.2 470"/>
<path d="M103.5 76.6L203.3 101.1L303.1 125.6L402.9 150.6L502.7 178.6L518.3 183.8L533.9 189.4L549.5 195.6L565 202.5L580.6 210.3L596.2 219.5L611.8 230.3L627.4 243.4L643 259.3L658.5 279.1L674.1 303.9L689.7 335.4L705.3 375.5L720.9 427.1L730.9 470"/>
<path d="M103.5 79.9L203.3 103L303.1 126.1L402.9 149.8L502.7 176.7L518.3 181.7L533.9 187.3L549.5 193.4L565 200.3L580.6 208.3L596.2 217.6L611.8 228.8L627.4 242.4L643 259.1L658.5 279.9L674.1 306.2L689.7 339.6L705.3 382.4L720.9 437.6L727.9 470"/>
<path d="M103.5 65.4L203.3 92L303.1 118.7L402.9 145.9L502.7 176L518.3 181.5L533.9 187.5L549.5 194L565 201.2L580.6 209.5L596.2 219L611.8 230.2L627.4 243.6L643 260L658.5 280.1L674.1 305.4L689.7 337.3L705.3 378L720.9 430.2L730.1 470"/>
<path d="M103.5 82.7L203.3 105.8L303.1 128.9L402.9 152.5L502.7 179.1L518.3 184.1L533.9 189.5L549.5 195.5L565 202.3L580.6 210L596.2 219.1L611.8 229.9L627.4 242.9L643 259L658.5 278.9L674.1 304L689.7 335.9L705.3 376.8L720.9 429.4L730.2 470"/>
<path d="M103.5 94.8L203.3 114.6L303.1 134.6L402.9 155.1L502.7 178.6L518.3 183.1L533.9 188L549.5 193.5L565 199.7L580.6 207L596.2 215.5L611.8 225.8L627.4 238.4L643 253.9L658.5 273.3L674.1 298L689.7 329.3L705.3 369.6L720.9 421.7L732 470"/>
<path d="M103.5 82.6L203.3 105.6L303.1 128.7L402.9 152.3L502.7 178.8L518.3 183.8L533.9 189.1L549.5 195.1L565 201.8L580.6 209.4L596.2 218.4L611.8 229L627.4 241.9L643 257.7L658.5 277.3L674.1 302L689.7 333.4L705.3 373.5L720.9 425.1L731.3 470"/>
<path d="M103.5 81.3L203.3 104.6L303.1 128L402.9 152L502.7 179L518.3 184L533.9 189.5L549.5 195.5L565 202.4L580.6 210.2L596.2 219.4L611.8 230.3L627.4 243.5L643 259.7L658.5 279.9L674.1 305.3L689.7 337.6L705.3 378.9L720.9 432.1L729.5 470"/>
<path d="M103.5 58.8L203.3 87L303.1 115.3L402.9 144.1L502.7 175.7L518.3 181.5L533.9 187.6L549.5 194.2L565 201.6L580.6 209.9L596.2 219.5L611.8 230.7L627.4 244L643 260.1L658.5 279.9L674.1 304.6L689.7 335.7L705.3 375.1L720.9 425.7L731.5 470"/>
<path d="M103.5 90.8L203.3 112L303.1 133.2L402.9 155L502.7 179.8L518.3 184.6L533.9 189.8L549.5 195.5L565 202.1L580.6 209.7L596.2 218.7L611.8 229.4L627.4 242.5L643 258.7L658.5 278.9L674.1 304.5L689.7 337.1L705.3 378.9L720.9 432.9L729.1 470"/>
<path d="M103.5 66.4L203.3 92.9L303.1 119.5L402.9 146.6L502.7 176.7L518.3 182.2L533.9 188.2L549.5 194.7L565 202L580.6 210.3L596.2 219.9L611.8 231.1L627.4 244.7L643 261.2L658.5 281.6L674.1 307.2L689.7 339.5L705.3 380.8L720.9 433.7L729.2 470"/>
<path d="M103.5 77.8L203.3 101.6L303.1 125.5L402.9 149.9L502.7 177.5L518.3 182.6L533.9 188.2L549.5 194.5L565 201.5L580.6 209.5L596.2 218.9L611.8 230.2L627.4 243.7L643 260.5L658.5 281.3L674.1 307.5L689.7 340.7L705.3 383.3L720.9 438.2L727.8 470"/>
<path d="M103.5 88.6L203.3 110.1L303.1 131.7L402.9 153.8L502.7 179.3L518.3 184.2L533.9 189.6L549.5 195.6L565 202.4L580.6 210.4L596.2 219.8L611.8 231.1L627.4 244.9L643 262L658.5 283.5L674.1 310.7L689.7 345.4L705.3 389.9L720.9 447.5L725.6 470"/>
<path d="M103.5 115.6L203.3 131.3L303.1 147.1L402.9 163.5L502.7 183.2L518.3 187.2L533.9 191.6L549.5 196.7L565 202.7L580.6 209.7L596.2 218.1L611.8 228.5L627.4 241.3L643 257.5L658.5 277.9L674.1 304L689.7 337.6L705.3 381L720.9 437.3L727.8 470"/>
<path d="M103.5 108.3L203.3 125.5L303.1 142.8L402.9 160.7L502.7 181.9L518.3 186.2L533.9 190.9L549.5 196.3L565 202.5L580.6 209.8L596.2 218.6L611.8 229.4L627.4 242.7L643 259.3L658.5 280.3L674.1 307.1L689.7 341.5L705.3 385.9L720.9 443.5L726.4 470"/>
<path d="M103.5 86.5L203.3 108.6L303.1 130.8L402.9 153.6L502.7 179.4L518.3 184.3L533.9 189.6L549.5 195.5L565 202.2L580.6 209.9L596.2 218.9L611.8 229.7L627.4 242.8L643 258.9L658.5 279.1L674.1 304.5L689.7 336.8L705.3 378.3L720.9 431.7L729.5 470"/>
<path d="M103.5 102.5L203.3 120.8L303.1 139.2L402.9 158.2L502.7 180.4L518.3 184.7L533.9 189.5L549.5 195L565 201.2L580.6 208.6L596.2 217.3L611.8 227.9L627.4 240.9L643 257.2L658.5 277.6L674.1 303.6L689.7 337L705.3 379.9L720.9 435.5L728.3 470"/>
<path d="M103.5 68.5L203.3 94.4L303.1 120.5L402.9 147L502.7 176.5L518.3 181.9L533.9 187.7L549.5 194.1L565 201.3L580.6 209.3L596.2 218.7L611.8 229.7L627.4 243L643 259.1L658.5 279L674.1 304L689.7 335.5L705.3 375.7L720.9 427.4L730.8 470"/>
<path d="M103.5 103.4L203.3 122L303.1 140.7L402.9 160L502.7 182.6L518.3 187.1L533.9 192L549.5 197.5L565 203.9L580.6 211.4L596.2 220.4L611.8 231.2L627.4 244.5L643 261.2L658.5 282.1L674.1 308.8L689.7 342.9L705.3 386.9L720.9 443.9L726.4 470"/>
<path d="M103.5 68.1L203.3 94.1L303.1 120.2L402.9 146.9L502.7 176.5L518.3 182L533.9 187.9L549.5 194.3L565 201.6L580.6 209.8L596.2 219.3L611.8 230.6L627.4 244.1L643 260.6L658.5 281L674.1 306.6L689.7 339L705.3 380.4L720.9 433.5L729.2 470"/>
<path d="M103.5 45.1L203.3 76.1L303.1 107.2L402.9 138.7L502.7 172.9L518.3 179L533.9 185.4L549.5 192.4L565 200.1L580.6 208.6L596.2 218.3L611.8 229.6L627.4 242.8L643 258.8L658.5 278.2L674.1 302.2L689.7 332.3L705.3 370.4L720.9 418.9L733.6 470"/>
<path d="M103.5 135.5L203.3 147.2L303.1 158.9L402.9 171.3L502.7 187.3L518.3 190.8L533.9 194.8L549.5 199.5L565 205.1L580.6 211.8L596.2 220.2L611.8 230.6L627.4 243.7L643 260.4L658.5 281.8L674.1 309.3L689.7 345L705.3 391.3L720.9 451.7L724.5 470"/>
<path d="M103.5 54.6L203.3 83.4L303.1 112.2L402.9 141.5L502.7 173.8L518.3 179.6L533.9 185.9L549.5 192.7L565 200.3L580.6 208.8L596.2 218.6L611.8 230.1L627.4 243.7L643 260.3L658.5 280.7L674.1 306.1L689.7 338L705.3 378.7L720.9 430.8L730 470"/>
<path d="M103.5 81.8L203.3 104.5L303.1 127.2L402.9 150.4L502.7 177L518.3 182L533.9 187.5L549.5 193.7L565 200.6L580.6 208.7L596.2 218.2L611.8 229.5L627.4 243.3L643 260.4L658.5 281.7L674.1 308.6L689.7 343L705.3 387L720.9 443.8L726.4 470"/>
<path d="M103.5 74.3L203.3 99L303.1 123.8L402.9 149.1L502.7 177.4L518.3 182.7L533.9 188.4L549.5 194.7L565 201.7L580.6 209.8L596.2 219.1L611.8 230.3L627.4 243.7L643 260.1L658.5 280.5L674.1 306.1L689.7 338.5L705.3 380L720.9 433.3L729.2 470"/>
<path d="M103.5 51.5L203.3 80.5L303.1 109.6L402.9 139.2L502.7 171.7L518.3 177.5L533.9 183.8L549.5 190.6L565 198.1L580.6 206.6L596.2 216.4L611.8 227.7L627.4 241.3L643 257.7L658.5 277.8L674.1 302.8L689.7 334.4L705.3 374.4L720.9 425.6L731.4 470"/>
<path d="M103.5 98.7L203.3 118.2L303.1 137.8L402.9 158L502.7 181.3L518.3 185.9L533.9 190.8L549.5 196.4L565 202.8L580.6 210.2L596.2 219L611.8 229.6L627.4 242.7L643 258.8L658.5 279.1L674.1 304.9L689.7 337.8L705.3 380.1L720.9 434.8L728.6 470"/>
<path d="M103.5 83.7L203.3 106.3L303.1 129L402.9 152.2L502.7 178.5L518.3 183.5L533.9 188.9L549.5 194.9L565 201.7L580.6 209.5L596.2 218.7L611.8 229.7L627.4 243.1L643 259.5L658.5 280L674.1 305.9L689.7 338.8L705.3 381L720.9 435.4L728.5 470"/>
<path d="M103.5 73.2L203.3 98.3L303.1 123.5L402.9 149.2L502.7 177.9L518.3 183.2L533.9 188.9L549.5 195.2L565 202.3L580.6 210.4L596.2 219.8L611.8 231L627.4 244.4L643 260.8L658.5 281.2L674.1 306.7L689.7 339.1L705.3 380.5L720.9 433.7L729.1 470"/>
<path d="M103.5 111.5L203.3 128L303.1 144.5L402.9 161.7L502.7 182.3L518.3 186.4L533.9 191.1L549.5 196.3L565 202.5L580.6 209.7L596.2 218.4L611.8 229.1L627.4 242.3L643 258.9L658.5 279.9L674.1 306.6L689.7 341.1L705.3 385.5L720.9 443.2L726.4 470"/>
<path d="M103.5 101.6L203.3 120.1L303.1 138.7L402.9 157.9L502.7 180.4L518.3 184.9L533.9 189.9L549.5 195.5L565 201.9L580.6 209.5L596.2 218.6L611.8 229.6L627.4 243.2L643 260.2L658.5 281.6L674.1 308.9L689.7 343.9L705.3 389L720.9 447.4L725.5 470"/>
<path d="M103.5 89.6L203.3 110.4L303.1 131.3L402.9 152.8L502.7 177.4L518.3 182.2L533.9 187.3L549.5 193.1L565 199.7L580.6 207.3L596.2 216.4L611.8 227.2L627.4 240.4L643 256.8L658.5 277.4L674.1 303.3L689.7 336.5L705.3 379.1L720.9 434.1L728.7 470"/>
<path d="M103.5 77.3L203.3 100.7L303.1 124.2L402.9 148.3L502.7 175.5L518.3 180.6L533.9 186.2L549.5 192.3L565 199.3L580.6 207.3L596.2 216.6L611.8 227.8L627.4 241.3L643 257.9L658.5 278.6L674.1 304.7L689.7 337.8L705.3 380.3L720.9 435L728.6 470"/>
<path d="M103.5 67.1L203.3 93L303.1 118.9L402.9 145.4L502.7 175L518.3 180.4L533.9 186.3L549.5 192.7L565 200L580.6 208.2L596.2 217.7L611.8 229L627.4 242.6L643 259.2L658.5 279.8L674.1 305.5L689.7 338.2L705.3 379.8L720.9 433.3L729.2 470"/>
<path d="M103.5 96.4L203.3 115.7L303.1 135.1L402.9 155.1L502.7 178.5L518.3 183.1L533.9 188.2L549.5 193.9L565 200.5L580.6 208.3L596.2 217.5L611.8 228.7L627.4 242.5L643 259.6L658.5 281.3L674.1 308.8L689.7 344L705.3 389.4L720.9 448.2L725.3 470"/>
<path d="M103.5 69.9L203.3 95.7L303.1 121.6L402.9 148.1L502.7 177.5L518.3 182.8L533.9 188.7L549.5 195L565 202.2L580.6 210.2L596.2 219.6L611.8 230.6L627.4 243.9L643 260.1L658.5 280.1L674.1 305.1L689.7 336.8L705.3 377.1L720.9 428.9L730.4 470"/>
<path d="M103.5 75.5L203.3 99.7L303.1 124.1L402.9 149L502.7 177.1L518.3 182.4L533.9 188.1L549.5 194.5L565 201.6L580.6 209.8L596.2 219.4L611.8 230.8L627.4 244.7L643 261.7L658.5 282.9L674.1 309.6L689.7 343.5L705.3 386.9L720.9 442.8L726.7 470"/>
<path d="M103.5 84L203.3 106.8L303.1 129.5L402.9 152.9L502.7 179.1L518.3 184L533.9 189.4L549.5 195.3L565 201.9L580.6 209.6L596.2 218.5L611.8 229.1L627.4 241.9L643 257.7L658.5 277.3L674.1 302L689.7 333.4L705.3 373.5L720.9 425.2L731.3 470"/>
<path d="M103.5 67.1L203.3 93.4L303.1 119.8L402.9 146.8L502.7 176.8L518.3 182.3L533.9 188.3L549.5 194.8L565 202.1L580.6 210.5L596.2 220.1L611.8 231.6L627.4 245.3L643 262L658.5 282.8L674.1 308.7L689.7 341.6L705.3 383.6L720.9 437.4L728.2 470"/>
<path d="M103.5 66.8L203.3 92.5L303.1 118.3L402.9 144.7L502.7 174.3L518.3 179.8L533.9 185.7L549.5 192.3L565 199.6L580.6 208L596.2 217.8L611.8 229.5L627.4 243.5L643 260.7L658.5 282.1L674.1 308.9L689.7 342.9L705.3 386.4L720.9 442.3L726.8 470"/>
<path d="M103.5 92.8L203.3 113.2L303.1 133.7L402.9 154.7L502.7 178.9L518.3 183.5L533.9 188.6L549.5 194.4L565 200.9L580.6 208.5L596.2 217.5L611.8 228.3L627.4 241.5L643 257.9L658.5 278.5L674.1 304.6L689.7 337.9L705.3 380.6L720.9 435.9L728.3 470"/>
<path d="M103.5 95.9L203.3 115.7L303.1 135.6L402.9 156.1L502.7 179.7L518.3 184.3L533.9 189.3L549.5 194.9L565 201.4L580.6 208.8L596.2 217.7L611.8 228.4L627.4 241.6L643 257.8L658.5 278.3L674.1 304.2L689.7 337.3L705.3 379.8L720.9 434.9L728.5 470"/>
<path d="M103.5 49.1L203.3 79.2L303.1 109.3L402.9 140L502.7 173.5L518.3 179.5L533.9 185.9L549.5 192.9L565 200.6L580.6 209.2L596.2 219L611.8 230.5L627.4 244.1L643 260.6L658.5 280.7L674.1 305.7L689.7 337.2L705.3 377L720.9 427.9L730.9 470"/>
<path d="M103.5 59.4L203.3 87.4L303.1 115.4L402.9 144L502.7 175.3L518.3 180.9L533.9 187L549.5 193.5L565 200.8L580.6 209L596.2 218.3L611.8 229.3L627.4 242.3L643 258.1L658.5 277.4L674.1 301.5L689.7 331.8L705.3 370.2L720.9 419.5L733.3 470"/>
<path d="M103.5 53.4L203.3 82.5L303.1 111.7L402.9 141.3L502.7 173.9L518.3 179.8L533.9 186.1L549.5 192.9L565 200.5L580.6 209L596.2 218.8L611.8 230.2L627.4 243.9L643 260.3L658.5 280.6L674.1 305.8L689.7 337.5L705.3 377.8L720.9 429.4L730.4 470"/>
<path d="M103.5 78.5L203.3 101.9L303.1 125.4L402.9 149.4L502.7 176.6L518.3 181.7L533.9 187.3L549.5 193.5L565 200.4L580.6 208.4L596.2 217.8L611.8 229L627.4 242.5L643 259.2L658.5 280L674.1 306.1L689.7 339.4L705.3 382L720.9 436.9L728.1 470"/>
<path d="M103.5 75.1L203.3 98.9L303.1 122.9L402.9 147.3L502.7 174.7L518.3 179.8L533.9 185.3L549.5 191.4L565 198.2L580.6 206L596.2 215.1L611.8 226L627.4 239L643 255L658.5 274.9L674.1 299.9L689.7 331.6L705.3 372.1L720.9 424.2L731.5 470"/>
<path d="M103.5 71.8L203.3 96.6L303.1 121.5L402.9 146.8L502.7 175.4L518.3 180.7L533.9 186.4L549.5 192.8L565 199.9L580.6 208.1L596.2 217.6L611.8 228.9L627.4 242.5L643 259.3L658.5 280.1L674.1 306.2L689.7 339.3L705.3 381.7L720.9 436.3L728.3 470"/>
<path d="M103.5 74L203.3 98.9L303.1 123.9L402.9 149.4L502.7 177.9L518.3 183.2L533.9 188.9L549.5 195.2L565 202.2L580.6 210.3L596.2 219.7L611.8 230.8L627.4 244.2L643 260.6L658.5 281L674.1 306.5L689.7 338.9L705.3 380.2L720.9 433.4L729.2 470"/>
<path d="M103.5 73.5L203.3 98.3L303.1 123.2L402.9 148.7L502.7 177.4L518.3 182.8L533.9 188.6L549.5 195.1L565 202.4L580.6 210.7L596.2 220.5L611.8 232.1L627.4 246.2L643 263.4L658.5 284.9L674.1 312L689.7 346.3L705.3 390.3L720.9 446.9L725.8 470"/>
<path d="M103.5 90.5L203.3 112L303.1 133.6L402.9 155.7L502.7 181L518.3 185.8L533.9 191.1L549.5 197L565 203.7L580.6 211.4L596.2 220.6L611.8 231.5L627.4 244.9L643 261.4L658.5 282L674.1 308.1L689.7 341.4L705.3 384.2L720.9 439.3L727.6 470"/>
<path d="M103.5 90.3L203.3 111.5L303.1 132.7L402.9 154.5L502.7 179.5L518.3 184.2L533.9 189.4L549.5 195.2L565 201.8L580.6 209.4L596.2 218.4L611.8 229.1L627.4 242.2L643 258.4L658.5 278.7L674.1 304.3L689.7 337L705.3 378.9L720.9 433L729.1 470"/>
<path d="M103.5 88.5L203.3 110.2L303.1 132L402.9 154.3L502.7 179.9L518.3 184.8L533.9 190.1L549.5 196L565 202.8L580.6 210.6L596.2 219.9L611.8 230.9L627.4 244.4L643 261.1L658.5 281.9L674.1 308.3L689.7 341.9L705.3 385.1L720.9 440.8L727.2 470"/>
<path d="M103.5 97.9L203.3 117L303.1 136.3L402.9 156L502.7 179.1L518.3 183.5L533.9 188.5L549.5 194.1L565 200.4L580.6 207.9L596.2 216.8L611.8 227.5L627.4 240.7L643 257L658.5 277.6L674.1 303.8L689.7 337.3L705.3 380.3L720.9 436.1L728.2 470"/>
<path d="M103.5 91.6L203.3 112.4L303.1 133.2L402.9 154.6L502.7 179.2L518.3 184L533.9 189.2L549.5 195L565 201.7L580.6 209.4L596.2 218.6L611.8 229.6L627.4 243L643 259.7L658.5 280.7L674.1 307.2L689.7 341.1L705.3 384.7L720.9 440.9L727.1 470"/>
<path d="M103.5 89.1L203.3 110.4L303.1 131.8L402.9 153.7L502.7 178.9L518.3 183.7L533.9 188.9L549.5 194.8L565 201.5L580.6 209.3L596.2 218.5L611.8 229.5L627.4 243L643 259.6L658.5 280.4L674.1 306.8L689.7 340.5L705.3 383.7L720.9 439.5L727.4 470"/>
<path d="M103.5 97.6L203.3 117.5L303.1 137.4L402.9 158L502.7 181.8L518.3 186.4L533.9 191.5L549.5 197.2L565 203.8L580.6 211.4L596.2 220.5L611.8 231.4L627.4 244.8L643 261.5L658.5 282.5L674.1 309L689.7 343L705.3 386.7L720.9 443.3L726.5 470"/>
<path d="M103.5 76.9L203.3 100.6L303.1 124.3L402.9 148.6L502.7 175.9L518.3 181L533.9 186.6L549.5 192.7L565 199.6L580.6 207.5L596.2 216.8L611.8 227.8L627.4 241.1L643 257.5L658.5 277.8L674.1 303.4L689.7 335.9L705.3 377.5L720.9 431.1L729.6 470"/>
<path d="M103.5 88.2L203.3 109.3L303.1 130.6L402.9 152.4L502.7 177.4L518.3 182.3L533.9 187.6L549.5 193.5L565 200.2L580.6 208.1L596.2 217.4L611.8 228.5L627.4 242.2L643 259.1L658.5 280.3L674.1 307.1L689.7 341.4L705.3 385.5L720.9 442.4L726.7 470"/>
<path d="M103.5 89.4L203.3 110.7L303.1 132L402.9 153.9L502.7 179L518.3 183.7L533.9 189L549.5 194.8L565 201.4L580.6 209.1L596.2 218.1L611.8 228.9L627.4 242.1L643 258.5L658.5 278.9L674.1 304.7L689.7 337.6L705.3 379.9L720.9 434.5L728.7 470"/>
<path d="M103.5 61.3L203.3 88.5L303.1 115.9L402.9 143.7L502.7 174.5L518.3 180.1L533.9 186.2L549.5 192.8L565 200.1L580.6 208.4L596.2 218L611.8 229.3L627.4 242.8L643 259.2L658.5 279.5L674.1 304.8L689.7 336.7L705.3 377.4L720.9 429.6L730.2 470"/>
<path d="M103.5 72.5L203.3 97.5L303.1 122.7L402.9 148.4L502.7 177.1L518.3 182.3L533.9 188.1L549.5 194.4L565 201.4L580.6 209.5L596.2 218.8L611.8 229.8L627.4 243.1L643 259.4L658.5 279.6L674.1 304.9L689.7 336.9L705.3 377.8L720.9 430.3L730 470"/>
<path d="M103.5 80.8L203.3 103.8L303.1 126.9L402.9 150.5L502.7 177.4L518.3 182.4L533.9 188L549.5 194.1L565 201.1L580.6 209.1L596.2 218.5L611.8 229.8L627.4 243.5L643 260.4L658.5 281.5L674.1 308.1L689.7 341.9L705.3 385.4L720.9 441.3L727 470"/>
<path d="M103.5 63.3L203.3 90L303.1 116.8L402.9 144.2L502.7 174.5L518.3 180.1L533.9 186L549.5 192.6L565 199.9L580.6 208.2L596.2 217.8L611.8 229L627.4 242.6L643 259L658.5 279.4L674.1 304.8L689.7 337L705.3 378L720.9 430.6L729.9 470"/>
<path d="M103.5 78.8L203.3 101.9L303.1 125.1L402.9 148.9L502.7 175.9L518.3 181L533.9 186.5L549.5 192.7L565 199.6L580.6 207.7L596.2 217.1L611.8 228.4L627.4 242L643 258.9L658.5 279.9L674.1 306.4L689.7 340.2L705.3 383.4L720.9 439.2L727.5 470"/>
<path d="M103.5 106.4L203.3 123.7L303.1 141.1L402.9 159.1L502.7 180.5L518.3 184.7L533.9 189.5L549.5 194.9L565 201.1L580.6 208.5L596.2 217.3L611.8 228L627.4 241.3L643 257.9L658.5 278.9L674.1 305.7L689.7 340L705.3 384.4L720.9 441.9L726.7 470"/>
<path d="M103.5 89.9L203.3 111.7L303.1 133.5L402.9 155.8L502.7 181.1L518.3 185.9L533.9 191.1L549.5 196.9L565 203.4L580.6 211L596.2 219.8L611.8 230.4L627.4 243.2L643 259L658.5 278.7L674.1 303.5L689.7 335.1L705.3 375.7L720.9 427.9L730.6 470"/>
<path d="M103.5 78.2L203.3 102.1L303.1 126L402.9 150.4L502.7 177.8L518.3 182.9L533.9 188.4L549.5 194.4L565 201.2L580.6 209L596.2 218.1L611.8 228.8L627.4 241.7L643 257.5L658.5 277.2L674.1 301.9L689.7 333.2L705.3 373.2L720.9 424.6L731.5 470"/>
<path d="M103.5 82.7L203.3 105.5L303.1 128.4L402.9 151.9L502.7 178.3L518.3 183.3L533.9 188.7L549.5 194.7L565 201.4L580.6 209.2L596.2 218.3L611.8 229.1L627.4 242.2L643 258.3L658.5 278.4L674.1 303.6L689.7 335.7L705.3 376.9L720.9 429.8L730 470"/>
<path d="M103.5 68.2L203.3 93.5L303.1 119L402.9 145L502.7 174.2L518.3 179.6L533.9 185.5L549.5 192.1L565 199.4L580.6 207.8L596.2 217.6L611.8 229.2L627.4 243.3L643 260.6L658.5 282.1L674.1 309.1L689.7 343.3L705.3 387.1L720.9 443.5L726.5 470"/>
<path d="M103.5 87.2L203.3 108.7L303.1 130.2L402.9 152.4L502.7 177.6L518.3 182.4L533.9 187.7L549.5 193.6L565 200.2L580.6 207.9L596.2 217L611.8 227.9L627.4 241.2L643 257.6L658.5 278.1L674.1 304L689.7 337.1L705.3 379.5L720.9 434.2L728.7 470"/>
<path d="M103.5 65.8L203.3 91.8L303.1 118L402.9 144.7L502.7 174.3L518.3 179.8L533.9 185.7L549.5 192.1L565 199.3L580.6 207.6L596.2 217.1L611.8 228.3L627.4 241.8L643 258.2L658.5 278.6L674.1 304.1L689.7 336.4L705.3 377.5L720.9 430.4L729.9 470"/>
<path d="M103.5 114.9L203.3 130.8L303.1 146.8L402.9 163.4L502.7 183.4L518.3 187.5L533.9 192.1L549.5 197.4L565 203.5L580.6 210.8L596.2 219.5L611.8 230.3L627.4 243.7L643 260.6L658.5 282L674.1 309.3L689.7 344.5L705.3 390L720.9 449L725.1 470"/>
<path d="M103.5 76.4L203.3 100.4L303.1 124.5L402.9 149.2L502.7 177L518.3 182.3L533.9 187.9L549.5 194.2L565 201.3L580.6 209.5L596.2 219L611.8 230.4L627.4 244.2L643 261.1L658.5 282.2L674.1 308.8L689.7 342.5L705.3 385.8L720.9 441.5L727 470"/>
<path d="M103.5 94.7L203.3 114.6L303.1 134.7L402.9 155.3L502.7 179.1L518.3 183.8L533.9 188.9L549.5 194.6L565 201.1L580.6 208.8L596.2 217.8L611.8 228.7L627.4 242.1L643 258.8L658.5 279.7L674.1 306.2L689.7 340.1L705.3 383.7L720.9 440.1L727.2 470"/>
<path d="M103.5 69.2L203.3 94.9L303.1 120.7L402.9 147.1L502.7 176.3L518.3 181.7L533.9 187.5L549.5 193.9L565 201L580.6 209.1L596.2 218.5L611.8 229.6L627.4 242.9L643 259.1L658.5 279.2L674.1 304.4L689.7 336.3L705.3 376.9L720.9 429L730.3 470"/>
<path d="M103.5 71.1L203.3 96.4L303.1 121.7L402.9 147.6L502.7 176.4L518.3 181.8L533.9 187.5L549.5 193.9L565 201L580.6 209L596.2 218.4L611.8 229.6L627.4 242.9L643 259.3L658.5 279.6L674.1 305L689.7 337.2L705.3 378.3L720.9 431.2L729.7 470"/>
<path d="M103.5 74.7L203.3 99.3L303.1 123.9L402.9 149.1L502.7 177.2L518.3 182.4L533.9 188L549.5 194.1L565 201L580.6 208.9L596.2 218.1L611.8 228.9L627.4 242L643 257.9L658.5 277.7L674.1 302.5L689.7 333.9L705.3 374L720.9 425.5L731.3 470"/>
<path d="M103.5 93.2L203.3 113.1L303.1 133.1L402.9 153.7L502.7 177.4L518.3 181.9L533.9 187L549.5 192.6L565 199L580.6 206.5L596.2 215.4L611.8 226.1L627.4 239.1L643 255.3L658.5 275.7L674.1 301.4L689.7 334.4L705.3 376.7L720.9 431.4L729.3 470"/>
<path d="M103.5 87.4L203.3 108.6L303.1 129.8L402.9 151.6L502.7 176.6L518.3 181.4L533.9 186.7L549.5 192.5L565 199.2L580.6 206.9L596.2 216L611.8 227L627.4 240.4L643 257L658.5 277.7L674.1 304L689.7 337.5L705.3 380.5L720.9 436.1L728.2 470"/>
<path d="M103.5 35.1L203.3 67.9L303.1 100.7L402.9 134.1L502.7 170.2L518.3 176.6L533.9 183.4L549.5 190.8L565 198.9L580.6 207.9L596.2 218.1L611.8 229.9L627.4 243.9L643 260.6L658.5 281.1L674.1 306.3L689.7 337.9L705.3 377.8L720.9 428.8L730.7 470"/>
<path d="M103.5 88.3L203.3 109.7L303.1 131.1L402.9 153.2L502.7 178.4L518.3 183.2L533.9 188.4L549.5 194.3L565 200.9L580.6 208.7L596.2 217.8L611.8 228.7L627.4 242L643 258.5L658.5 279.1L674.1 305.1L689.7 338.3L705.3 380.9L720.9 436L728.3 470"/>
<path d="M103.5 86.3L203.3 109L303.1 131.8L402.9 155.1L502.7 181.4L518.3 186.4L533.9 191.7L549.5 197.7L565 204.4L580.6 212.1L596.2 221.1L611.8 231.8L627.4 244.8L643 260.8L658.5 280.7L674.1 305.8L689.7 337.7L705.3 378.5L720.9 431.1L729.8 470"/>
<path d="M103.5 60.1L203.3 88L303.1 115.9L402.9 144.3L502.7 175.5L518.3 181.1L533.9 187.2L549.5 193.8L565 201.1L580.6 209.3L596.2 218.8L611.8 229.9L627.4 243.1L643 259.1L658.5 278.8L674.1 303.3L689.7 334.2L705.3 373.5L720.9 423.8L732 470"/>
<path d="M103.5 94.5L203.3 114.7L303.1 135.1L402.9 156.1L502.7 180.3L518.3 185L533.9 190.2L549.5 196L565 202.6L580.6 210.3L596.2 219.5L611.8 230.6L627.4 244.1L643 261L658.5 282.2L674.1 309L689.7 343.3L705.3 387.4L720.9 444.5L726.2 470"/>
<path d="M103.5 76.9L203.3 100.7L303.1 124.6L402.9 149L502.7 176.4L518.3 181.5L533.9 187L549.5 193.1L565 200L580.6 207.9L596.2 217.1L611.8 228L627.4 241.2L643 257.4L658.5 277.6L674.1 302.9L689.7 335L705.3 376.1L720.9 429L730.2 470"/>
<path d="M103.5 110.6L203.3 127.3L303.1 144L402.9 161.4L502.7 182.1L518.3 186.2L533.9 190.9L549.5 196.2L565 202.3L580.6 209.5L596.2 218.3L611.8 228.9L627.4 242.1L643 258.6L658.5 279.5L674.1 306.2L689.7 340.5L705.3 384.8L720.9 442.2L726.7 470"/>
<path d="M103.5 93.6L203.3 114L303.1 134.5L402.9 155.5L502.7 179.7L518.3 184.4L533.9 189.5L549.5 195.3L565 201.9L580.6 209.6L596.2 218.6L611.8 229.6L627.4 242.9L643 259.5L658.5 280.4L674.1 306.7L689.7 340.5L705.3 383.8L720.9 439.8L727.3 470"/>
<path d="M103.5 77.6L203.3 101L303.1 124.6L402.9 148.6L502.7 175.9L518.3 181L533.9 186.6L549.5 192.8L565 199.8L580.6 207.8L596.2 217.2L611.8 228.5L627.4 242.1L643 258.9L658.5 279.8L674.1 306.2L689.7 339.7L705.3 382.6L720.9 437.9L727.8 470"/>
<path d="M103.5 84L203.3 106.2L303.1 128.5L402.9 151.4L502.7 177.5L518.3 182.5L533.9 187.9L549.5 193.9L565 200.8L580.6 208.7L596.2 218L611.8 229.2L627.4 242.7L643 259.5L658.5 280.5L674.1 306.9L689.7 340.7L705.3 384L720.9 439.8L727.4 470"/>
<path d="M103.5 72.9L203.3 98L303.1 123.1L402.9 148.7L502.7 177.1L518.3 182.3L533.9 187.9L549.5 194.1L565 201L580.6 208.8L596.2 217.8L611.8 228.5L627.4 241.3L643 256.9L658.5 276.2L674.1 300.3L689.7 330.8L705.3 369.8L720.9 419.7L733 470"/>
<path d="M103.5 92.2L203.3 112.8L303.1 133.6L402.9 154.9L502.7 179.5L518.3 184.3L533.9 189.5L549.5 195.3L565 201.9L580.6 209.7L596.2 218.8L611.8 229.9L627.4 243.4L643 260.1L658.5 281.1L674.1 307.7L689.7 341.6L705.3 385.3L720.9 441.7L726.9 470"/>
<path d="M103.5 79.5L203.3 103L303.1 126.6L402.9 150.8L502.7 178L518.3 183L533.9 188.6L549.5 194.7L565 201.6L580.6 209.5L596.2 218.8L611.8 229.8L627.4 243.1L643 259.5L658.5 279.9L674.1 305.6L689.7 338.2L705.3 379.9L720.9 433.6L729 470"/>
<path d="M103.5 73.1L203.3 97.5L303.1 122L402.9 147L502.7 175.4L518.3 180.7L533.9 186.5L549.5 192.9L565 200.2L580.6 208.5L596.2 218.2L611.8 229.8L627.4 243.9L643 261.3L658.5 282.8L674.1 310L689.7 344.6L705.3 388.9L720.9 445.9L725.9 470"/>
<path d="M103.5 67.4L203.3 93.4L303.1 119.4L402.9 146L502.7 175.5L518.3 181L533.9 186.8L549.5 193.3L565 200.5L580.6 208.7L596.2 218.2L611.8 229.4L627.4 242.9L643 259.4L658.5 279.8L674.1 305.3L689.7 337.6L705.3 378.9L720.9 431.8L729.6 470"/>
<path d="M103.5 54.8L203.3 84L303.1 113.3L402.9 143.1L502.7 175.9L518.3 181.8L533.9 188.1L549.5 195.1L565 202.7L580.6 211.4L596.2 221.3L611.8 232.9L627.4 246.8L643 263.6L658.5 284.2L674.1 309.9L689.7 342.3L705.3 383.5L720.9 436.2L728.6 470"/>
<path d="M103.5 99.7L203.3 118.4L303.1 137.2L402.9 156.5L502.7 179.3L518.3 183.8L533.9 188.7L549.5 194.4L565 200.8L580.6 208.4L596.2 217.5L611.8 228.6L627.4 242.1L643 259.1L658.5 280.5L674.1 307.7L689.7 342.5L705.3 387.5L720.9 445.7L725.9 470"/>
<path d="M103.5 82.5L203.3 105.2L303.1 128.1L402.9 151.4L502.7 178L518.3 183L533.9 188.4L549.5 194.5L565 201.3L580.6 209.2L596.2 218.5L611.8 229.5L627.4 243L643 259.5L658.5 280.2L674.1 306.2L689.7 339.3L705.3 381.8L720.9 436.5L728.2 470"/>
<path d="M103.5 103.6L203.3 121.8L303.1 140L402.9 158.8L502.7 181L518.3 185.3L533.9 190.1L549.5 195.6L565 201.9L580.6 209.2L596.2 218L611.8 228.7L627.4 241.9L643 258.3L658.5 278.9L674.1 305.3L689.7 339L705.3 382.5L720.9 438.8L727.5 470"/>
<path d="M103.5 85.5L203.3 107.4L303.1 129.3L402.9 151.8L502.7 177.5L518.3 182.4L533.9 187.7L549.5 193.6L565 200.4L580.6 208.2L596.2 217.3L611.8 228.3L627.4 241.7L643 258.2L658.5 278.9L674.1 305L689.7 338.3L705.3 380.9L720.9 436L728.3 470"/>
<path d="M103.5 102.4L203.3 120.6L303.1 138.9L402.9 157.8L502.7 180.2L518.3 184.7L533.9 189.7L549.5 195.3L565 201.9L580.6 209.6L596.2 218.8L611.8 230L627.4 243.9L643 261.3L658.5 283.3L674.1 311.3L689.7 347.3L705.3 393.7L720.9 453.9L724.1 470"/>
<path d="M103.5 76L203.3 100.1L303.1 124.4L402.9 149.2L502.7 177.1L518.3 182.3L533.9 188L549.5 194.2L565 201.3L580.6 209.4L596.2 218.9L611.8 230.1L627.4 243.7L643 260.4L658.5 281.3L674.1 307.4L689.7 340.7L705.3 383.2L720.9 438L727.9 470"/>
<path d="M103.5 80.1L203.3 103.4L303.1 126.8L402.9 150.7L502.7 177.5L518.3 182.4L533.9 187.8L549.5 193.7L565 200.3L580.6 207.9L596.2 216.7L611.8 227.2L627.4 239.8L643 255.2L658.5 274.4L674.1 298.5L689.7 329L705.3 367.9L720.9 418L733.4 470"/>
<path d="M103.5 61.8L203.3 88.7L303.1 115.8L402.9 143.3L502.7 173.9L518.3 179.5L533.9 185.5L549.5 192.1L565 199.4L580.6 207.7L596.2 217.4L611.8 228.7L627.4 242.3L643 258.8L658.5 279.2L674.1 304.8L689.7 337L705.3 378.2L720.9 430.9L729.8 470"/>
<path d="M103.5 67.7L203.3 93.6L303.1 119.6L402.9 146L502.7 175.4L518.3 180.8L533.9 186.6L549.5 192.9L565 200L580.6 208L596.2 217.4L611.8 228.3L627.4 241.5L643 257.5L658.5 277.3L674.1 302.1L689.7 333.5L705.3 373.4L720.9 424.7L731.5 470"/>
<path d="M103.5 61.9L203.3 89.2L303.1 116.5L402.9 144.3L502.7 175.3L518.3 180.9L533.9 187L549.5 193.8L565 201.2L580.6 209.7L596.2 219.6L611.8 231.2L627.4 245.2L643 262.2L658.5 283.2L674.1 309.5L689.7 342.7L705.3 385.2L720.9 439.6L727.6 470"/>
<path d="M103.5 88.1L203.3 109.4L303.1 130.8L402.9 152.8L502.7 178.1L518.3 182.9L533.9 188.2L549.5 194.1L565 200.8L580.6 208.6L596.2 217.8L611.8 228.8L627.4 242.3L643 259L658.5 280L674.1 306.4L689.7 340.2L705.3 383.5L720.9 439.5L727.4 470"/>
<path d="M103.5 111.6L203.3 127.6L303.1 143.7L402.9 160.4L502.7 180.6L518.3 184.8L533.9 189.4L549.5 194.7L565 200.9L580.6 208.3L596.2 217.2L611.8 228.1L627.4 241.7L643 258.8L658.5 280.4L674.1 308.2L689.7 343.9L705.3 390L720.9 450L724.9 470"/>
<path d="M103.5 67L203.3 93L303.1 119.2L402.9 145.8L502.7 175.6L518.3 181.1L533.9 187L549.5 193.5L565 200.8L580.6 209.1L596.2 218.8L611.8 230.2L627.4 243.9L643 260.6L658.5 281.4L674.1 307.5L689.7 340.4L705.3 382.5L720.9 436.6L728.3 470"/>
<path d="M103.5 120.4L203.3 134.8L303.1 149.3L402.9 164.4L502.7 183.3L518.3 187.3L533.9 191.8L549.5 197.1L565 203.2L580.6 210.7L596.2 219.7L611.8 230.9L627.4 245L643 262.7L658.5 285.4L674.1 314.5L689.7 352L705.3 400.7L720.9 464L722 470"/>
<path d="M103.5 79L203.3 102.5L303.1 126L402.9 150.2L502.7 177.3L518.3 182.4L533.9 187.9L549.5 194L565 200.9L580.6 208.8L596.2 218.1L611.8 229L627.4 242.3L643 258.7L658.5 279L674.1 304.6L689.7 337.1L705.3 378.7L720.9 432.2L729.4 470"/>
<path d="M103.5 93.2L203.3 113.3L303.1 133.5L402.9 154.3L502.7 178.6L518.3 183.3L533.9 188.6L549.5 194.4L565 201.2L580.6 209.1L596.2 218.5L611.8 229.9L627.4 243.9L643 261.3L658.5 283.2L674.1 311L689.7 346.6L705.3 392.5L720.9 451.8L724.6 470"/>
<path d="M103.5 81.5L203.3 104.7L303.1 128.1L402.9 152L502.7 179L518.3 184L533.9 189.5L549.5 195.6L565 202.4L580.6 210.3L596.2 219.5L611.8 230.5L627.4 243.7L643 260.1L658.5 280.4L674.1 306L689.7 338.4L705.3 380L720.9 433.6L729 470"/>
<path d="M103.5 90.8L203.3 112L303.1 133.3L402.9 155.1L502.7 180.1L518.3 184.8L533.9 190.1L549.5 195.9L565 202.5L580.6 210.1L596.2 219.1L611.8 229.9L627.4 243.1L643 259.4L658.5 279.8L674.1 305.5L689.7 338.4L705.3 380.6L720.9 435L728.6 470"/>
<path d="M103.5 110.2L203.3 126.6L303.1 143.1L402.9 160.2L502.7 180.9L518.3 185.1L533.9 189.8L549.5 195.2L565 201.5L580.6 208.9L596.2 217.9L611.8 229L627.4 242.7L643 259.9L658.5 281.7L674.1 309.6L689.7 345.5L705.3 391.9L720.9 452.2L724.4 470"/>
<path d="M103.5 104.4L203.3 122.5L303.1 140.7L402.9 159.4L502.7 181.4L518.3 185.8L533.9 190.6L549.5 196L565 202.3L580.6 209.6L596.2 218.4L611.8 229.1L627.4 242.2L643 258.6L658.5 279.3L674.1 305.6L689.7 339.4L705.3 382.8L720.9 439.1L727.4 470"/>
<path d="M103.5 73.9L203.3 98.3L303.1 122.7L402.9 147.7L502.7 175.8L518.3 181.1L533.9 186.7L549.5 193L565 200.1L580.6 208.1L596.2 217.6L611.8 228.8L627.4 242.3L643 259L658.5 279.6L674.1 305.6L689.7 338.6L705.3 380.7L720.9 435L728.6 470"/>
<path d="M103.5 73.2L203.3 97.8L303.1 122.6L402.9 147.9L502.7 176.3L518.3 181.6L533.9 187.4L549.5 193.7L565 200.9L580.6 209.1L596.2 218.6L611.8 230L627.4 243.8L643 260.7L658.5 281.7L674.1 308.1L689.7 341.6L705.3 384.5L720.9 439.7L727.5 470"/>
<path d="M103.5 80.5L203.3 103.8L303.1 127.1L402.9 151L502.7 177.8L518.3 182.8L533.9 188.3L549.5 194.3L565 201L580.6 208.8L596.2 217.8L611.8 228.6L627.4 241.6L643 257.6L658.5 277.5L674.1 302.5L689.7 334.2L705.3 374.9L720.9 427.1L730.7 470"/>
<path d="M103.5 93.7L203.3 114.1L303.1 134.6L402.9 155.6L502.7 179.8L518.3 184.4L533.9 189.6L549.5 195.3L565 201.8L580.6 209.4L596.2 218.4L611.8 229.3L627.4 242.5L643 258.9L658.5 279.5L674.1 305.6L689.7 339L705.3 381.8L720.9 437.1L728 470"/>
<path d="M103.5 101L203.3 119.2L303.1 137.5L402.9 156.4L502.7 178.7L518.3 183.1L533.9 188L549.5 193.6L565 200L580.6 207.6L596.2 216.7L611.8 227.7L627.4 241.3L643 258.2L658.5 279.7L674.1 307L689.7 342L705.3 387.2L720.9 445.7L725.9 470"/>
<path d="M103.5 67.9L203.3 94L303.1 120.1L402.9 146.8L502.7 176.5L518.3 182L533.9 187.9L549.5 194.4L565 201.6L580.6 209.8L596.2 219.4L611.8 230.7L627.4 244.3L643 260.9L658.5 281.4L674.1 307.1L689.7 339.6L705.3 381.2L720.9 434.5L728.9 470"/>
<path d="M103.5 69.5L203.3 95.5L303.1 121.5L402.9 148.1L502.7 177.5L518.3 182.9L533.9 188.7L549.5 195L565 202.1L580.6 210.1L596.2 219.4L611.8 230.3L627.4 243.4L643 259.3L658.5 279L674.1 303.6L689.7 334.7L705.3 374.3L720.9 425.2L731.5 470"/>
<path d="M103.5 65.5L203.3 91.7L303.1 118L402.9 144.9L502.7 174.9L518.3 180.4L533.9 186.4L549.5 193L565 200.5L580.6 208.9L596.2 218.8L611.8 230.5L627.4 244.5L643 261.7L658.5 283.1L674.1 309.8L689.7 343.8L705.3 387.1L720.9 442.8L726.7 470"/>
<path d="M103.5 100.7L203.3 119.5L303.1 138.4L402.9 157.9L502.7 180.8L518.3 185.3L533.9 190.3L549.5 196L565 202.5L580.6 210.2L596.2 219.3L611.8 230.4L627.4 244.1L643 261.2L658.5 282.7L674.1 310.1L689.7 345.2L705.3 390.5L720.9 449.1L725.1 470"/>
<path d="M103.5 91.3L203.3 111.9L303.1 132.5L402.9 153.7L502.7 178.2L518.3 182.8L533.9 188L549.5 193.8L565 200.3L580.6 208L596.2 217L611.8 227.8L627.4 241.1L643 257.5L658.5 278.2L674.1 304.3L689.7 337.6L705.3 380.4L720.9 435.7L728.3 470"/>
<path d="M103.5 116.2L203.3 131.6L303.1 147L402.9 163L502.7 182.4L518.3 186.4L533.9 190.8L549.5 196L565 201.9L580.6 209L596.2 217.6L611.8 228.2L627.4 241.3L643 257.8L658.5 278.8L674.1 305.6L689.7 340.1L705.3 384.7L720.9 442.7L726.5 470"/>
<path d="M103.5 68.6L203.3 94.3L303.1 120L402.9 146.2L502.7 175.6L518.3 181L533.9 186.9L549.5 193.4L565 200.6L580.6 208.9L596.2 218.5L611.8 230L627.4 243.7L643 260.5L658.5 281.4L674.1 307.5L689.7 340.7L705.3 383.1L720.9 437.5L728.1 470"/>
<path d="M103.5 74.5L203.3 98.4L303.1 122.4L402.9 146.9L502.7 174.5L518.3 179.6L533.9 185.2L549.5 191.4L565 198.3L580.6 206.2L596.2 215.5L611.8 226.5L627.4 239.9L643 256.2L658.5 276.6L674.1 302.2L689.7 334.6L705.3 376.2L720.9 429.6L730 470"/>
<path d="M103.5 48L203.3 78.2L303.1 108.5L402.9 139.2L502.7 172.9L518.3 179L533.9 185.5L549.5 192.5L565 200.2L580.6 209L596.2 218.9L611.8 230.6L627.4 244.4L643 261.1L658.5 281.6L674.1 307L689.7 339L705.3 379.6L720.9 431.6L729.8 470"/>
<path d="M103.5 85.9L203.3 108.2L303.1 130.6L402.9 153.5L502.7 179.5L518.3 184.4L533.9 189.7L549.5 195.6L565 202.2L580.6 209.9L596.2 218.9L611.8 229.6L627.4 242.6L643 258.5L658.5 278.5L674.1 303.6L689.7 335.5L705.3 376.5L720.9 429.2L730.2 470"/>
<path d="M103.5 53.2L203.3 82.1L303.1 111.1L402.9 140.5L502.7 173L518.3 178.8L533.9 185.1L549.5 192L565 199.6L580.6 208.2L596.2 218.1L611.8 229.6L627.4 243.4L643 260.2L658.5 280.8L674.1 306.4L689.7 338.8L705.3 379.9L720.9 432.5L729.5 470"/>
<path d="M103.5 63.3L203.3 90.2L303.1 117.2L402.9 144.7L502.7 175.1L518.3 180.7L533.9 186.7L549.5 193.3L565 200.6L580.6 208.9L596.2 218.6L611.8 229.9L627.4 243.4L643 260L658.5 280.4L674.1 305.9L689.7 338.2L705.3 379.3L720.9 432L729.6 470"/>
<path d="M103.5 71.8L203.3 97.3L303.1 123L402.9 149.2L502.7 178.4L518.3 183.8L533.9 189.6L549.5 196L565 203.1L580.6 211.3L596.2 220.8L611.8 232L627.4 245.5L643 262L658.5 282.4L674.1 308L689.7 340.4L705.3 381.8L720.9 435L728.8 470"/>
<path d="M103.5 123.2L203.3 136.8L303.1 150.5L402.9 164.8L502.7 183L518.3 186.8L533.9 191.2L549.5 196.4L565 202.4L580.6 209.8L596.2 218.7L611.8 229.8L627.4 243.8L643 261.5L658.5 284.1L674.1 313.1L689.7 350.7L705.3 399.4L720.9 462.8L722.2 470"/>
<path d="M103.5 72.4L203.3 97.3L303.1 122.2L402.9 147.7L502.7 176.4L518.3 181.7L533.9 187.4L549.5 193.8L565 200.9L580.6 209.1L596.2 218.6L611.8 229.9L627.4 243.6L643 260.3L658.5 281.1L674.1 307.2L689.7 340.3L705.3 382.6L720.9 437L728.2 470"/>
<path d="M103.5 76L203.3 100L303.1 124L402.9 148.6L502.7 176.5L518.3 181.7L533.9 187.5L549.5 193.8L565 200.9L580.6 209.2L596.2 218.8L611.8 230.3L627.4 244.3L643 261.5L658.5 282.9L674.1 309.9L689.7 344.3L705.3 388.3L720.9 445L726.2 470"/>
<path d="M103.5 70.6L203.3 95.8L303.1 121.2L402.9 147L502.7 175.8L518.3 181.1L533.9 186.8L549.5 193.2L565 200.2L580.6 208.3L596.2 217.7L611.8 228.7L627.4 242.1L643 258.4L658.5 278.6L674.1 303.9L689.7 336L705.3 376.9L720.9 429.5L730.2 470"/>
<path d="M103.5 70.2L203.3 95.4L303.1 120.8L402.9 146.6L502.7 175.4L518.3 180.7L533.9 186.4L549.5 192.7L565 199.7L580.6 207.7L596.2 216.9L611.8 227.9L627.4 241L643 257L658.5 276.8L674.1 301.7L689.7 333.1L705.3 373.2L720.9 424.7L731.5 470"/>
<path d="M103.5 119L203.3 133.8L303.1 148.7L402.9 164.2L502.7 183.2L518.3 187.1L533.9 191.6L549.5 196.6L565 202.6L580.6 209.7L596.2 218.3L611.8 228.9L627.4 242.1L643 258.8L658.5 279.9L674.1 307.1L689.7 342L705.3 387.3L720.9 446L725.7 470"/>
<path d="M103.5 59.2L203.3 87.2L303.1 115.3L402.9 143.9L502.7 175.4L518.3 181.1L533.9 187.2L549.5 193.9L565 201.3L580.6 209.6L596.2 219.2L611.8 230.5L627.4 243.9L643 260.2L658.5 280.3L674.1 305.3L689.7 336.8L705.3 376.9L720.9 428.2L730.7 470"/>
<path d="M103.5 41.3L203.3 72.9L303.1 104.6L402.9 136.8L502.7 171.9L518.3 178.1L533.9 184.8L549.5 192L565 199.9L580.6 208.8L596.2 218.9L611.8 230.6L627.4 244.5L643 261.2L658.5 281.7L674.1 307L689.7 338.7L705.3 378.9L720.9 430.3L730.3 470"/>
<path d="M103.5 92.8L203.3 113.3L303.1 134L402.9 155.2L502.7 179.7L518.3 184.3L533.9 189.5L549.5 195.3L565 201.9L580.6 209.5L596.2 218.5L611.8 229.4L627.4 242.7L643 259.2L658.5 279.9L674.1 306L689.7 339.4L705.3 382.4L720.9 437.8L727.8 470"/>
<path d="M103.5 83.2L203.3 105.6L303.1 128.1L402.9 151.2L502.7 177.4L518.3 182.3L533.9 187.8L549.5 193.8L565 200.6L580.6 208.4L596.2 217.6L611.8 228.7L627.4 242.1L643 258.6L658.5 279.2L674.1 305.2L689.7 338.4L705.3 380.8L720.9 435.6L728.4 470"/>
<path d="M103.5 81.6L203.3 104.9L303.1 128.4L402.9 152.4L502.7 179.5L518.3 184.6L533.9 190.1L549.5 196.2L565 203.1L580.6 211L596.2 220.3L611.8 231.3L627.4 244.7L643 261.1L658.5 281.5L674.1 307.3L689.7 340L705.3 381.8L720.9 435.8L728.5 470"/>
<path d="M103.5 46.5L203.3 76.6L303.1 106.7L402.9 137.4L502.7 171.1L518.3 177.1L533.9 183.6L549.5 190.6L565 198.4L580.6 207.2L596.2 217.2L611.8 228.9L627.4 242.8L643 259.7L658.5 280.3L674.1 306L689.7 338.4L705.3 379.4L720.9 431.9L729.7 470"/>
<path d="M103.5 46.1L203.3 76.5L303.1 107L402.9 138L502.7 171.8L518.3 177.8L533.9 184.2L549.5 191.1L565 198.8L580.6 207.3L596.2 217.1L611.8 228.4L627.4 241.8L643 258L658.5 277.7L674.1 302.1L689.7 332.8L705.3 371.6L720.9 421.2L732.8 470"/>
<path d="M103.5 67.6L203.3 93.5L303.1 119.5L402.9 146L502.7 175.5L518.3 180.9L533.9 186.8L549.5 193.3L565 200.5L580.6 208.7L596.2 218.2L611.8 229.4L627.4 243L643 259.5L658.5 279.9L674.1 305.6L689.7 338L705.3 379.4L720.9 432.6L729.4 470"/>
<path d="M103.5 94.7L203.3 114.7L303.1 134.7L402.9 155.3L502.7 179L518.3 183.6L533.9 188.6L549.5 194.1L565 200.5L580.6 207.9L596.2 216.7L611.8 227.2L627.4 240.1L643 256L658.5 276L674.1 301.3L689.7 333.6L705.3 375.1L720.9 428.8L730.1 470"/>
<path d="M103.5 100.1L203.3 118.8L303.1 137.7L402.9 157.1L502.7 180L518.3 184.5L533.9 189.5L549.5 195.2L565 201.7L580.6 209.4L596.2 218.6L611.8 229.7L627.4 243.5L643 260.6L658.5 282.3L674.1 309.9L689.7 345.2L705.3 390.8L720.9 449.8L725 470"/>
<path d="M103.5 73.7L203.3 98.6L303.1 123.6L402.9 149.1L502.7 177.6L518.3 182.8L533.9 188.5L549.5 194.7L565 201.7L580.6 209.6L596.2 218.8L611.8 229.7L627.4 242.8L643 258.9L658.5 278.7L674.1 303.6L689.7 335.1L705.3 375.4L720.9 427.1L730.9 470"/>
<path d="M103.5 120.4L203.3 134.9L303.1 149.6L402.9 164.8L502.7 183.4L518.3 187.2L533.9 191.5L549.5 196.5L565 202.3L580.6 209.3L596.2 217.7L611.8 228.1L627.4 241L643 257.3L658.5 278L674.1 304.5L689.7 338.7L705.3 383L720.9 440.5L727 470"/>
<path d="M103.5 96.9L203.3 117.3L303.1 137.7L402.9 158.7L502.7 182.8L518.3 187.5L533.9 192.6L549.5 198.3L565 204.8L580.6 212.4L596.2 221.3L611.8 232.1L627.4 245.2L643 261.5L658.5 282L674.1 307.9L689.7 340.9L705.3 383.4L720.9 438.3L727.8 470"/>
<path d="M103.5 70.8L203.3 95.9L303.1 121.1L402.9 146.9L502.7 175.8L518.3 181.1L533.9 186.9L549.5 193.4L565 200.5L580.6 208.8L596.2 218.3L611.8 229.7L627.4 243.4L643 260.2L658.5 281L674.1 307.2L689.7 340.4L705.3 382.9L720.9 437.5L728.1 470"/>
<path d="M103.5 68L203.3 93.2L303.1 118.5L402.9 144.4L502.7 173.4L518.3 178.7L533.9 184.6L549.5 191L565 198.2L580.6 206.5L596.2 216.1L611.8 227.5L627.4 241.2L643 258.1L658.5 279L674.1 305.3L689.7 338.6L705.3 381.2L720.9 436L728.3 470"/>
<path d="M103.5 60L203.3 87.6L303.1 115.3L402.9 143.4L502.7 174.5L518.3 180.1L533.9 186.2L549.5 192.8L565 200.2L580.6 208.5L596.2 218L611.8 229.3L627.4 242.7L643 259L658.5 279L674.1 304L689.7 335.6L705.3 375.8L720.9 427.2L730.9 470"/>
<path d="M103.5 90.5L203.3 111.7L303.1 133L402.9 154.9L502.7 180L518.3 184.7L533.9 190L549.5 195.9L565 202.6L580.6 210.3L596.2 219.5L611.8 230.5L627.4 244L643 260.6L658.5 281.5L674.1 307.8L689.7 341.5L705.3 384.7L720.9 440.5L727.2 470"/>
<path d="M103.5 102.9L203.3 121L303.1 139.2L402.9 158.1L502.7 180.3L518.3 184.6L533.9 189.5L549.5 195L565 201.4L580.6 208.9L596.2 217.9L611.8 228.7L627.4 242.2L643 259L658.5 280.1L674.1 307.1L689.7 341.7L705.3 386.2L720.9 444L726.3 470"/>
<path d="M103.5 116.8L203.3 131.6L303.1 146.5L402.9 162L502.7 181L518.3 184.9L533.9 189.4L549.5 194.5L565 200.5L580.6 207.7L596.2 216.4L611.8 227.2L627.4 240.6L643 257.5L658.5 279L674.1 306.6L689.7 342.2L705.3 388.2L720.9 448.1L725.3 470"/>
<path d="M103.5 75.8L203.3 99.9L303.1 124.1L402.9 148.8L502.7 176.4L518.3 181.6L533.9 187.2L549.5 193.3L565 200.2L580.6 208.1L596.2 217.3L611.8 228.1L627.4 241.3L643 257.4L658.5 277.4L674.1 302.5L689.7 334.4L705.3 375.1L720.9 427.5L730.7 470"/>
<path d="M103.5 83.3L203.3 105.9L303.1 128.7L402.9 152L502.7 178.5L518.3 183.5L533.9 188.9L549.5 195L565 201.9L580.6 209.8L596.2 219.1L611.8 230.2L627.4 243.7L643 260.4L658.5 281.2L674.1 307.5L689.7 340.9L705.3 383.7L720.9 439L727.6 470"/>
<path d="M103.5 87.1L203.3 108.9L303.1 130.9L402.9 153.3L502.7 178.8L518.3 183.6L533.9 188.9L549.5 194.7L565 201.2L580.6 208.8L596.2 217.7L611.8 228.3L627.4 241.1L643 257L658.5 276.8L674.1 301.7L689.7 333.4L705.3 374.1L720.9 426.5L730.9 470"/>
<path d="M103.5 123.9L203.3 138.1L303.1 152.3L402.9 167.2L502.7 185.5L518.3 189.3L533.9 193.6L549.5 198.5L565 204.4L580.6 211.4L596.2 219.9L611.8 230.4L627.4 243.4L643 260L658.5 281L674.1 308L689.7 342.8L705.3 387.9L720.9 446.5L725.7 470"/>
<path d="M103.5 59.4L203.3 87.6L303.1 115.9L402.9 144.7L502.7 176.3L518.3 181.9L533.9 188L549.5 194.6L565 201.9L580.6 210.1L596.2 219.5L611.8 230.5L627.4 243.5L643 259.3L658.5 278.7L674.1 302.8L689.7 333L705.3 371.5L720.9 420.7L733 470"/>
<path d="M103.5 99.1L203.3 118.2L303.1 137.4L402.9 157.2L502.7 180L518.3 184.4L533.9 189.3L549.5 194.7L565 201L580.6 208.2L596.2 216.8L611.8 227.2L627.4 239.9L643 255.6L658.5 275.4L674.1 300.4L689.7 332.5L705.3 373.7L720.9 426.9L730.6 470"/>
<path d="M103.5 79.7L203.3 103L303.1 126.5L402.9 150.5L502.7 177.5L518.3 182.6L533.9 188.1L549.5 194.2L565 201.1L580.6 208.9L596.2 218.2L611.8 229.2L627.4 242.5L643 258.9L658.5 279.2L674.1 304.9L689.7 337.5L705.3 379.3L720.9 433L729.2 470"/>
<path d="M103.5 80.9L203.3 104.7L303.1 128.6L402.9 153L502.7 180.3L518.3 185.3L533.9 190.8L549.5 196.9L565 203.6L580.6 211.4L596.2 220.4L611.8 231.1L627.4 243.9L643 259.7L658.5 279.2L674.1 303.8L689.7 334.9L705.3 374.7L720.9 425.8L731.3 470"/>
<path d="M103.5 64.2L203.3 90.7L303.1 117.4L402.9 144.5L502.7 174.6L518.3 180.1L533.9 186.1L549.5 192.6L565 199.8L580.6 208L596.2 217.5L611.8 228.7L627.4 242L643 258.3L658.5 278.5L674.1 303.7L689.7 335.5L705.3 376L720.9 428.1L730.6 470"/>
<path d="M103.5 87L203.3 108.2L303.1 129.6L402.9 151.5L502.7 176.8L518.3 181.7L533.9 187L549.5 193L565 199.8L580.6 207.7L596.2 217.1L611.8 228.4L627.4 242.2L643 259.3L658.5 280.8L674.1 308L689.7 342.8L705.3 387.4L720.9 445.1L726.1 470"/>
<path d="M103.5 90.6L203.3 112.3L303.1 134.2L402.9 156.5L502.7 182L518.3 186.9L533.9 192.2L549.5 198L565 204.7L580.6 212.4L596.2 221.5L611.8 232.4L627.4 245.7L643 262L658.5 282.4L674.1 308.2L689.7 341.1L705.3 383.3L720.9 437.7L728 470"/>
<path d="M103.5 90.9L203.3 111.9L303.1 133.1L402.9 154.8L502.7 179.6L518.3 184.2L533.9 189.4L549.5 195.1L565 201.5L580.6 209L596.2 217.8L611.8 228.3L627.4 241.1L643 256.9L658.5 276.6L674.1 301.6L689.7 333.3L705.3 374L720.9 426.5L730.8 470"/>
<path d="M103.5 56.4L203.3 84.5L303.1 112.8L402.9 141.5L502.7 173L518.3 178.6L533.9 184.7L549.5 191.3L565 198.6L580.6 206.8L596.2 216.2L611.8 227.2L627.4 240.3L643 256.2L658.5 275.6L674.1 299.8L689.7 330.2L705.3 368.9L720.9 418.3L733.5 470"/>
<path d="M103.5 72.9L203.3 97.3L303.1 121.8L402.9 146.8L502.7 175.1L518.3 180.4L533.9 186.1L549.5 192.5L565 199.7L580.6 207.9L596.2 217.5L611.8 229L627.4 242.9L643 259.9L658.5 281.2L674.1 308L689.7 341.9L705.3 385.4L720.9 441.5L727 470"/>
<path d="M103.5 102.6L203.3 121L303.1 139.5L402.9 158.6L502.7 180.8L518.3 185.2L533.9 189.9L549.5 195.3L565 201.5L580.6 208.8L596.2 217.4L611.8 227.8L627.4 240.6L643 256.6L658.5 276.6L674.1 302.1L689.7 334.7L705.3 376.7L720.9 431.1L729.5 470"/>
<path d="M103.5 97L203.3 116.5L303.1 136L402.9 156.2L502.7 179.8L518.3 184.4L533.9 189.4L549.5 195.2L565 201.8L580.6 209.5L596.2 218.6L611.8 229.8L627.4 243.4L643 260.4L658.5 281.8L674.1 309.1L689.7 343.9L705.3 388.8L720.9 446.8L725.7 470"/>
<path d="M103.5 106.3L203.3 123.8L303.1 141.4L402.9 159.6L502.7 181.1L518.3 185.4L533.9 190.1L549.5 195.5L565 201.7L580.6 208.9L596.2 217.6L611.8 228.2L627.4 241.3L643 257.6L658.5 278.2L674.1 304.5L689.7 338.1L705.3 381.6L720.9 437.8L727.7 470"/>
<path d="M103.5 53.9L203.3 83.1L303.1 112.4L402.9 142.1L502.7 174.8L518.3 180.6L533.9 186.9L549.5 193.8L565 201.3L580.6 209.8L596.2 219.5L611.8 230.9L627.4 244.4L643 260.8L658.5 280.9L674.1 305.8L689.7 337.2L705.3 377.1L720.9 428.1L730.8 470"/>
<path d="M103.5 55.6L203.3 84.6L303.1 113.8L402.9 143.4L502.7 176L518.3 181.9L533.9 188.2L549.5 195L565 202.6L580.6 211.2L596.2 221L611.8 232.5L627.4 246.2L643 262.7L658.5 283.1L674.1 308.4L689.7 340.3L705.3 380.9L720.9 432.8L729.5 470"/>
<path d="M103.5 54.1L203.3 83L303.1 111.9L402.9 141.4L502.7 173.7L518.3 179.5L533.9 185.7L549.5 192.5L565 200L580.6 208.4L596.2 218.1L611.8 229.4L627.4 242.9L643 259.2L658.5 279.2L674.1 304.2L689.7 335.5L705.3 375.4L720.9 426.3L731.2 470"/>
<path d="M103.5 55L203.3 83.4L303.1 111.9L402.9 140.9L502.7 172.9L518.3 178.7L533.9 184.9L549.5 191.7L565 199.3L580.6 207.8L596.2 217.6L611.8 229L627.4 242.8L643 259.4L658.5 279.9L674.1 305.4L689.7 337.6L705.3 378.6L720.9 431.1L729.8 470"/>
<path d="M103.5 78.2L203.3 102.2L303.1 126.4L402.9 151L502.7 178.5L518.3 183.6L533.9 189.1L549.5 195.1L565 201.9L580.6 209.7L596.2 218.7L611.8 229.4L627.4 242.2L643 257.9L658.5 277.4L674.1 301.9L689.7 332.9L705.3 372.4L720.9 423.3L731.9 470"/>
<path d="M103.5 59L203.3 86.8L303.1 114.8L402.9 143.2L502.7 174.5L518.3 180.2L533.9 186.3L549.5 192.9L565 200.3L580.6 208.6L596.2 218.2L611.8 229.4L627.4 242.8L643 259L658.5 279L674.1 304L689.7 335.4L705.3 375.4L720.9 426.6L731.1 470"/>
<path d="M103.5 63.6L203.3 90.4L303.1 117.3L402.9 144.7L502.7 175L518.3 180.5L533.9 186.4L549.5 192.9L565 200.1L580.6 208.3L596.2 217.8L611.8 228.9L627.4 242.2L643 258.4L658.5 278.3L674.1 303.2L689.7 334.7L705.3 374.8L720.9 426.1L731.2 470"/>
<path d="M103.5 102.7L203.3 121.6L303.1 140.6L402.9 160.2L502.7 183L518.3 187.5L533.9 192.4L549.5 197.9L565 204.2L580.6 211.6L596.2 220.4L611.8 231L627.4 244.1L643 260.3L658.5 280.7L674.1 306.6L689.7 339.8L705.3 382.5L720.9 437.7L727.9 470"/>
<path d="M103.5 97.2L203.3 117.3L303.1 137.4L402.9 158.2L502.7 182.2L518.3 186.8L533.9 191.9L549.5 197.7L565 204.2L580.6 211.9L596.2 221L611.8 232L627.4 245.4L643 262.1L658.5 283.1L674.1 309.7L689.7 343.7L705.3 387.5L720.9 444.1L726.4 470"/>
<path d="M103.5 107L203.3 125.3L303.1 143.6L402.9 162.5L502.7 184.5L518.3 188.8L533.9 193.5L549.5 198.9L565 205L580.6 212.2L596.2 220.7L611.8 231.1L627.4 243.8L643 259.6L658.5 279.5L674.1 304.8L689.7 337.2L705.3 378.8L720.9 432.7L729.2 470"/>
<path d="M103.5 56L203.3 84.3L303.1 112.8L402.9 141.6L502.7 173.3L518.3 179.1L533.9 185.2L549.5 191.8L565 199.2L580.6 207.5L596.2 217L611.8 228.1L627.4 241.3L643 257.4L658.5 277L674.1 301.5L689.7 332.3L705.3 371.4L720.9 421.5L732.6 470"/>
<path d="M103.5 78.9L203.3 102.1L303.1 125.4L402.9 149.3L502.7 176.4L518.3 181.5L533.9 187.1L549.5 193.2L565 200.2L580.6 208.3L596.2 217.7L611.8 229L627.4 242.7L643 259.6L658.5 280.7L674.1 307.3L689.7 341.1L705.3 384.5L720.9 440.4L727.3 470"/>
<path d="M103.5 23L203.3 58.8L303.1 94.7L402.9 131L502.7 169.7L518.3 176.4L533.9 183.4L549.5 190.9L565 199L580.6 207.9L596.2 217.9L611.8 229.2L627.4 242.3L643 257.7L658.5 276.3L674.1 299L689.7 327.1L705.3 362.3L720.9 406.9L736.4 463.7L737.8 470"/>
<path d="M103.5 64L203.3 90.5L303.1 117.2L402.9 144.3L502.7 174.3L518.3 179.7L533.9 185.6L549.5 192L565 199.1L580.6 207.2L596.2 216.4L611.8 227.3L627.4 240.3L643 256.1L658.5 275.6L674.1 300L689.7 330.7L705.3 369.7L720.9 419.8L733 470"/>
<path d="M103.5 83.7L203.3 106.1L303.1 128.5L402.9 151.6L502.7 177.9L518.3 182.9L533.9 188.3L549.5 194.4L565 201.3L580.6 209.3L596.2 218.7L611.8 230L627.4 243.7L643 260.6L658.5 281.8L674.1 308.5L689.7 342.6L705.3 386.3L720.9 442.7L726.7 470"/>
<path d="M103.5 54.8L203.3 83.9L303.1 113.1L402.9 142.7L502.7 175.2L518.3 181.1L533.9 187.3L549.5 194.1L565 201.7L580.6 210.2L596.2 219.9L611.8 231.2L627.4 244.7L643 261.1L658.5 281.1L674.1 306.1L689.7 337.5L705.3 377.4L720.9 428.4L730.7 470"/>
<path d="M103.5 76.3L203.3 100.3L303.1 124.4L402.9 149.1L502.7 176.6L518.3 181.6L533.9 187.1L549.5 193.2L565 199.9L580.6 207.7L596.2 216.6L611.8 227.2L627.4 240L643 255.7L658.5 275L674.1 299.4L689.7 330.2L705.3 369.5L720.9 420L732.8 470"/>
<path d="M103.5 114.3L203.3 130.1L303.1 146L402.9 162.5L502.7 182.5L518.3 186.5L533.9 191.1L549.5 196.4L565 202.5L580.6 209.8L596.2 218.6L611.8 229.4L627.4 242.9L643 259.8L658.5 281.3L674.1 308.7L689.7 344.1L705.3 389.8L720.9 449.2L725.1 470"/>
<path d="M103.5 61.7L203.3 89.3L303.1 117L402.9 145.2L502.7 176.4L518.3 182.1L533.9 188.2L549.5 194.8L565 202.2L580.6 210.6L596.2 220.3L611.8 231.6L627.4 245.2L643 261.7L658.5 282L674.1 307.3L689.7 339.4L705.3 380.1L720.9 432.4L729.6 470"/>
<path d="M103.5 101.1L203.3 119.6L303.1 138.2L402.9 157.5L502.7 180.1L518.3 184.5L533.9 189.4L549.5 195L565 201.5L580.6 209L596.2 218L611.8 229L627.4 242.4L643 259.3L658.5 280.5L674.1 307.4L689.7 342L705.3 386.6L720.9 444.3L726.2 470"/>
<path d="M103.5 59L203.3 86.3L303.1 113.7L402.9 141.7L502.7 172.7L518.3 178.3L533.9 184.5L549.5 191.2L565 198.6L580.6 207.1L596.2 216.9L611.8 228.4L627.4 242.3L643 259.2L658.5 280L674.1 306.1L689.7 339L705.3 381L720.9 434.9L728.7 470"/>
<path d="M103.5 83.9L203.3 106.1L303.1 128.3L402.9 151.2L502.7 177.2L518.3 182.1L533.9 187.5L549.5 193.6L565 200.4L580.6 208.3L596.2 217.6L611.8 228.7L627.4 242.2L643 258.9L658.5 279.8L674.1 306.3L689.7 339.9L705.3 383.1L720.9 438.7L727.6 470"/>
<path d="M103.5 104.3L203.3 122.3L303.1 140.4L402.9 159L502.7 180.9L518.3 185.2L533.9 190L549.5 195.5L565 201.7L580.6 209L596.2 217.8L611.8 228.5L627.4 241.6L643 257.9L658.5 278.6L674.1 304.9L689.7 338.5L705.3 382L720.9 438.2L727.7 470"/>
<path d="M103.5 72.4L203.3 97.8L303.1 123.2L402.9 149.2L502.7 178.3L518.3 183.7L533.9 189.5L549.5 195.9L565 203L580.6 211.2L596.2 220.7L611.8 231.9L627.4 245.4L643 262L658.5 282.5L674.1 308.2L689.7 340.9L705.3 382.5L720.9 436L728.5 470"/>
<path d="M103.5 58.7L203.3 86.9L303.1 115.2L402.9 144L502.7 175.6L518.3 181.4L533.9 187.5L549.5 194.3L565 201.7L580.6 210.1L596.2 219.8L611.8 231.2L627.4 244.7L643 261.1L658.5 281.4L674.1 306.6L689.7 338.4L705.3 378.8L720.9 430.6L730.1 470"/>
<path d="M103.5 84.9L203.3 107.1L303.1 129.5L402.9 152.4L502.7 178.6L518.3 183.6L533.9 189.1L549.5 195.2L565 202.1L580.6 210.1L596.2 219.5L611.8 230.8L627.4 244.6L643 261.6L658.5 282.9L674.1 309.8L689.7 344.2L705.3 388.2L720.9 445L726.2 470"/>
<path d="M103.5 89.1L203.3 110.5L303.1 131.9L402.9 153.8L502.7 178.8L518.3 183.5L533.9 188.6L549.5 194.4L565 200.8L580.6 208.3L596.2 217.1L611.8 227.6L627.4 240.3L643 256.1L658.5 275.7L674.1 300.5L689.7 332L705.3 372.5L720.9 424.7L731.3 470"/>
<path d="M103.5 96.5L203.3 115.6L303.1 134.8L402.9 154.5L502.7 177.7L518.3 182.3L533.9 187.3L549.5 193.1L565 199.6L580.6 207.3L596.2 216.5L611.8 227.7L627.4 241.5L643 258.6L658.5 280.2L674.1 307.7L689.7 343L705.3 388.4L720.9 447.1L725.5 470"/>
<path d="M103.5 15.4L203.3 52.6L303.1 89.9L402.9 127.6L502.7 167.6L518.3 174.5L533.9 181.7L549.5 189.4L565 197.7L580.6 206.8L596.2 216.9L611.8 228.3L627.4 241.5L643 257.1L658.5 275.8L674.1 298.5L689.7 326.5L705.3 361.6L720.9 405.8L736.4 462.2L738.1 470"/>
<path d="M103.5 80.4L203.3 103.6L303.1 126.9L402.9 150.7L502.7 177.6L518.3 182.6L533.9 188.1L549.5 194.2L565 201.1L580.6 209L596.2 218.3L611.8 229.4L627.4 242.8L643 259.3L658.5 279.8L674.1 305.7L689.7 338.6L705.3 380.8L720.9 435.2L728.6 470"/>
<path d="M103.5 68.4L203.3 94.2L303.1 120.2L402.9 146.6L502.7 176L518.3 181.4L533.9 187.2L549.5 193.6L565 200.7L580.6 208.8L596.2 218.2L611.8 229.3L627.4 242.5L643 258.7L658.5 278.8L674.1 303.8L689.7 335.6L705.3 376L720.9 427.9L730.6 470"/>
<path d="M103.5 89.1L203.3 111L303.1 132.9L402.9 155.3L502.7 180.7L518.3 185.5L533.9 190.6L549.5 196.4L565 202.8L580.6 210.3L596.2 219L611.8 229.4L627.4 242L643 257.4L658.5 276.7L674.1 301L689.7 331.9L705.3 371.4L720.9 422.3L732.1 470"/>
<path d="M103.5 48L203.3 77.8L303.1 107.6L402.9 137.9L502.7 171.2L518.3 177.2L533.9 183.7L549.5 190.7L565 198.4L580.6 207.1L596.2 217.2L611.8 228.9L627.4 242.8L643 259.6L658.5 280.4L674.1 306.1L689.7 338.6L705.3 379.8L720.9 432.5L729.5 470"/>
<path d="M103.5 99.1L203.3 118.5L303.1 138L402.9 158.1L502.7 181.5L518.3 186L533.9 191L549.5 196.6L565 203.1L580.6 210.6L596.2 219.5L611.8 230.4L627.4 243.6L643 260.1L658.5 280.9L674.1 307.2L689.7 340.8L705.3 384.2L720.9 440.2L727.2 470"/>
<path d="M103.5 70.9L203.3 95.9L303.1 121L402.9 146.7L502.7 175.4L518.3 180.7L533.9 186.5L549.5 192.8L565 200L580.6 208.1L596.2 217.6L611.8 228.8L627.4 242.4L643 259L658.5 279.5L674.1 305.4L689.7 338.1L705.3 380L720.9 433.8L729 470"/>
<path d="M103.5 69.6L203.3 95L303.1 120.5L402.9 146.5L502.7 175.6L518.3 180.9L533.9 186.8L549.5 193.2L565 200.4L580.6 208.7L596.2 218.2L611.8 229.6L627.4 243.3L643 260L658.5 280.8L674.1 306.9L689.7 340L705.3 382.3L720.9 436.6L728.3 470"/>
<path d="M103.5 93.8L203.3 114.3L303.1 134.8L402.9 155.8L502.7 179.8L518.3 184.4L533.9 189.4L549.5 194.9L565 201.2L580.6 208.4L596.2 217L611.8 227.2L627.4 239.6L643 255L658.5 274.2L674.1 298.4L689.7 329.3L705.3 368.9L720.9 420L732.6 470"/>
<path d="M103.5 76.3L203.3 100.6L303.1 124.9L402.9 149.8L502.7 177.8L518.3 183L533.9 188.7L549.5 195L565 202.1L580.6 210.2L596.2 219.7L611.8 230.9L627.4 244.6L643 261.3L658.5 282.2L674.1 308.4L689.7 341.7L705.3 384.3L720.9 439.1L727.7 470"/>
<path d="M103.5 71.3L203.3 96.3L303.1 121.3L402.9 146.9L502.7 175.5L518.3 180.8L533.9 186.6L549.5 192.9L565 200L580.6 208.1L596.2 217.6L611.8 228.8L627.4 242.3L643 258.9L658.5 279.5L674.1 305.3L689.7 338L705.3 379.8L720.9 433.6L729 470"/>
<path d="M103.5 72.6L203.3 96.9L303.1 121.3L402.9 146.3L502.7 174.4L518.3 179.6L533.9 185.4L549.5 191.7L565 198.8L580.6 207L596.2 216.5L611.8 227.9L627.4 241.7L643 258.6L658.5 279.6L674.1 306.1L689.7 339.7L705.3 382.7L720.9 438.1L727.8 470"/>
<path d="M103.5 102.8L203.3 120.9L303.1 139L402.9 157.7L502.7 179.6L518.3 183.9L533.9 188.7L549.5 194.1L565 200.3L580.6 207.6L596.2 216.3L611.8 226.8L627.4 239.7L643 255.9L658.5 276.2L674.1 302.1L689.7 335.3L705.3 378L720.9 433.3L728.8 470"/>
<path d="M103.5 91.9L203.3 113.3L303.1 134.8L402.9 156.9L502.7 181.8L518.3 186.5L533.9 191.6L549.5 197.2L565 203.6L580.6 211L596.2 219.6L611.8 229.8L627.4 242.3L643 257.6L658.5 276.8L674.1 300.9L689.7 331.5L705.3 370.7L720.9 421.3L732.5 470"/>
<path d="M103.5 102.1L203.3 120.5L303.1 138.9L402.9 157.9L502.7 180.2L518.3 184.5L533.9 189.4L549.5 194.8L565 201.1L580.6 208.4L596.2 217.2L611.8 227.8L627.4 240.9L643 257.2L658.5 277.8L674.1 303.9L689.7 337.4L705.3 380.5L720.9 436.3L728.1 470"/>
<path d="M103.5 69.6L203.3 95.5L303.1 121.5L402.9 147.9L502.7 177.3L518.3 182.7L533.9 188.6L549.5 195L565 202.1L580.6 210.2L596.2 219.6L611.8 230.7L627.4 243.9L643 260.2L658.5 280.2L674.1 305.3L689.7 337.1L705.3 377.6L720.9 429.6L730.2 470"/>
<path d="M103.5 68.8L203.3 94.5L303.1 120.3L402.9 146.6L502.7 175.9L518.3 181.3L533.9 187.1L549.5 193.5L565 200.7L580.6 208.9L596.2 218.3L611.8 229.5L627.4 243L643 259.4L658.5 279.8L674.1 305.3L689.7 337.6L705.3 378.8L720.9 431.8L729.6 470"/>
<path d="M103.5 56.9L203.3 85.2L303.1 113.6L402.9 142.4L502.7 173.9L518.3 179.6L533.9 185.6L549.5 192.2L565 199.5L580.6 207.6L596.2 217L611.8 227.8L627.4 240.8L643 256.4L658.5 275.5L674.1 299.3L689.7 329.3L705.3 367.2L720.9 415.8L734.4 470"/>
<path d="M103.5 75L203.3 99.2L303.1 123.6L402.9 148.4L502.7 176.4L518.3 181.6L533.9 187.2L549.5 193.4L565 200.4L580.6 208.4L596.2 217.8L611.8 228.8L627.4 242.2L643 258.7L658.5 279.1L674.1 304.8L689.7 337.3L705.3 379L720.9 432.6L729.3 470"/>
<path d="M103.5 50L203.3 79.1L303.1 108.4L402.9 138L502.7 170.5L518.3 176.4L533.9 182.6L549.5 189.4L565 196.9L580.6 205.3L596.2 214.9L611.8 226.1L627.4 239.4L643 255.5L658.5 275.2L674.1 299.7L689.7 330.6L705.3 369.7L720.9 419.7L733.1 470"/>
<path d="M103.5 93.4L203.3 113.9L303.1 134.5L402.9 155.6L502.7 179.9L518.3 184.5L533.9 189.6L549.5 195.4L565 201.9L580.6 209.4L596.2 218.4L611.8 229.1L627.4 242.3L643 258.6L658.5 279L674.1 304.8L689.7 337.8L705.3 380.2L720.9 435L728.6 470"/>
<path d="M103.5 58.9L203.3 86.4L303.1 114L402.9 142.1L502.7 173.2L518.3 178.8L533.9 184.9L549.5 191.5L565 198.8L580.6 207.1L596.2 216.7L611.8 227.9L627.4 241.4L643 257.7L658.5 277.8L674.1 302.9L689.7 334.5L705.3 374.8L720.9 426.4L731.1 470"/>
<path d="M103.5 74.9L203.3 99.4L303.1 124.1L402.9 149.3L502.7 177.5L518.3 182.7L533.9 188.4L549.5 194.7L565 201.7L580.6 209.7L596.2 219L611.8 230.1L627.4 243.4L643 259.8L658.5 280.1L674.1 305.5L689.7 337.8L705.3 379.1L720.9 432.2L729.4 470"/>
<path d="M103.5 64L203.3 91.2L303.1 118.6L402.9 146.4L502.7 177.1L518.3 182.7L533.9 188.7L549.5 195.2L565 202.5L580.6 210.7L596.2 220.1L611.8 231.1L627.4 244.4L643 260.4L658.5 280.1L674.1 304.8L689.7 335.8L705.3 375.3L720.9 425.9L731.4 470"/>
<path d="M103.5 80.3L203.3 103.2L303.1 126.1L402.9 149.7L502.7 176.6L518.3 181.7L533.9 187.3L549.5 193.6L565 200.7L580.6 209L596.2 218.7L611.8 230.3L627.4 244.5L643 262.1L658.5 284.1L674.1 311.8L689.7 347.3L705.3 392.7L720.9 451.4L724.7 470"/>
<path d="M103.5 74L203.3 99.2L303.1 124.4L402.9 150.1L502.7 178.7L518.3 183.9L533.9 189.6L549.5 195.8L565 202.7L580.6 210.6L596.2 219.8L611.8 230.5L627.4 243.4L643 259.2L658.5 278.7L674.1 303.1L689.7 334L705.3 373.4L720.9 424L731.9 470"/>
<path d="M103.5 119.2L203.3 133.5L303.1 148L402.9 163L502.7 181.5L518.3 185.3L533.9 189.7L549.5 194.7L565 200.5L580.6 207.5L596.2 216.1L611.8 226.6L627.4 239.7L643 256.2L658.5 277.3L674.1 304.3L689.7 339.1L705.3 384.2L720.9 442.7L726.4 470"/>
<path d="M103.5 63.5L203.3 90.1L303.1 116.7L402.9 143.9L502.7 174L518.3 179.5L533.9 185.4L549.5 192L565 199.2L580.6 207.4L596.2 217L611.8 228.2L627.4 241.7L643 258.1L658.5 278.4L674.1 303.7L689.7 335.8L705.3 376.6L720.9 429L730.3 470"/>
<path d="M103.5 78.5L203.3 102.1L303.1 125.9L402.9 150.2L502.7 177.6L518.3 182.7L533.9 188.3L549.5 194.4L565 201.4L580.6 209.3L596.2 218.6L611.8 229.6L627.4 242.9L643 259.3L658.5 279.7L674.1 305.3L689.7 337.9L705.3 379.6L720.9 433.2L729.1 470"/>
<path d="M103.5 108.4L203.3 125.8L303.1 143.4L402.9 161.5L502.7 182.9L518.3 187.2L533.9 191.9L549.5 197.3L565 203.5L580.6 210.8L596.2 219.6L611.8 230.3L627.4 243.5L643 260L658.5 280.9L674.1 307.4L689.7 341.5L705.3 385.5L720.9 442.6L726.6 470"/>
<path d="M103.5 89.7L203.3 111L303.1 132.4L402.9 154.4L502.7 179.5L518.3 184.2L533.9 189.5L549.5 195.3L565 201.9L580.6 209.5L596.2 218.4L611.8 229.2L627.4 242.3L643 258.4L658.5 278.6L674.1 304.1L689.7 336.7L705.3 378.4L720.9 432.2L729.3 470"/>
<path d="M103.5 79.1L203.3 102.8L303.1 126.5L402.9 150.7L502.7 178.3L518.3 183.5L533.9 189.1L549.5 195.4L565 202.5L580.6 210.7L596.2 220.3L611.8 231.7L627.4 245.6L643 262.7L658.5 284.1L674.1 311.1L689.7 345.3L705.3 389.3L720.9 445.9L726 470"/>
<path d="M103.5 71.3L203.3 96.2L303.1 121.3L402.9 146.8L502.7 175.3L518.3 180.6L533.9 186.3L549.5 192.5L565 199.6L580.6 207.6L596.2 216.9L611.8 227.9L627.4 241.2L643 257.4L658.5 277.5L674.1 302.8L689.7 334.8L705.3 375.6L720.9 428.1L730.5 470"/>
<path d="M103.5 85.8L203.3 108L303.1 130.2L402.9 153L502.7 178.7L518.3 183.5L533.9 188.7L549.5 194.5L565 201L580.6 208.5L596.2 217.3L611.8 227.7L627.4 240.4L643 255.9L658.5 275.2L674.1 299.6L689.7 330.5L705.3 370.2L720.9 421.2L732.4 470"/>
<path d="M103.5 90.5L203.3 111.8L303.1 133.3L402.9 155.2L502.7 180.3L518.3 185.1L533.9 190.3L549.5 196.1L565 202.7L580.6 210.4L596.2 219.4L611.8 230.2L627.4 243.3L643 259.6L658.5 279.9L674.1 305.6L689.7 338.4L705.3 380.4L720.9 434.6L728.7 470"/>
<path d="M103.5 74.7L203.3 98.9L303.1 123.2L402.9 148.1L502.7 176.3L518.3 181.6L533.9 187.3L549.5 193.7L565 200.9L580.6 209.2L596.2 218.9L611.8 230.4L627.4 244.5L643 261.7L658.5 283.2L674.1 310.3L689.7 344.7L705.3 388.8L720.9 445.6L726 470"/>
<path d="M103.5 71.1L203.3 96.2L303.1 121.4L402.9 147.2L502.7 176.1L518.3 181.5L533.9 187.4L549.5 193.8L565 201.1L580.6 209.4L596.2 219.1L611.8 230.6L627.4 244.6L643 261.7L658.5 282.9L674.1 309.6L689.7 343.5L705.3 386.8L720.9 442.6L726.8 470"/>
<path d="M103.5 78.2L203.3 101.6L303.1 125L402.9 149L502.7 176.3L518.3 181.4L533.9 187L549.5 193.2L565 200.2L580.6 208.3L596.2 217.7L611.8 229L627.4 242.7L643 259.6L658.5 280.7L674.1 307.3L689.7 341.1L705.3 384.4L720.9 440.2L727.3 470"/>
<path d="M103.5 76.7L203.3 101.1L303.1 125.6L402.9 150.6L502.7 178.5L518.3 183.7L533.9 189.3L549.5 195.4L565 202.3L580.6 210.1L596.2 219.2L611.8 230L627.4 242.9L643 258.8L658.5 278.5L674.1 303.1L689.7 334.4L705.3 374.2L720.9 425.5L731.3 470"/>
<path d="M103.5 112L203.3 128.3L303.1 144.8L402.9 161.8L502.7 182.3L518.3 186.4L533.9 191.1L549.5 196.3L565 202.5L580.6 209.8L596.2 218.6L611.8 229.3L627.4 242.6L643 259.3L658.5 280.5L674.1 307.6L689.7 342.4L705.3 387.3L720.9 445.7L725.9 470"/>
<path d="M103.5 110.6L203.3 127.1L303.1 143.7L402.9 160.9L502.7 181.8L518.3 186.1L533.9 190.8L549.5 196.3L565 202.7L580.6 210.3L596.2 219.5L611.8 230.7L627.4 244.7L643 262.3L658.5 284.6L674.1 313.2L689.7 349.9L705.3 397.5L720.9 459.2L723 470"/>
<path d="M103.5 62.6L203.3 89.8L303.1 117.1L402.9 145L502.7 175.8L518.3 181.4L533.9 187.5L549.5 194.2L565 201.6L580.6 210L596.2 219.7L611.8 231.2L627.4 244.9L643 261.6L658.5 282.3L674.1 308.1L689.7 340.8L705.3 382.4L720.9 435.8L728.6 470"/>
<path d="M103.5 64.6L203.3 91.2L303.1 117.8L402.9 145L502.7 175.1L518.3 180.6L533.9 186.6L549.5 193.1L565 200.3L580.6 208.5L596.2 218L611.8 229.2L627.4 242.6L643 258.9L658.5 279.1L674.1 304.3L689.7 336.2L705.3 376.8L720.9 428.9L730.4 470"/>
<path d="M103.5 80.9L203.3 104.1L303.1 127.5L402.9 151.3L502.7 178.1L518.3 183.1L533.9 188.5L549.5 194.5L565 201.2L580.6 208.9L596.2 217.8L611.8 228.4L627.4 241.3L643 257L658.5 276.6L674.1 301.1L689.7 332.3L705.3 372.2L720.9 423.4L731.8 470"/>
<path d="M103.5 82.2L203.3 104.8L303.1 127.5L402.9 150.8L502.7 177.3L518.3 182.3L533.9 187.8L549.5 193.9L565 200.8L580.6 208.8L596.2 218.1L611.8 229.3L627.4 243L643 259.8L658.5 280.8L674.1 307.3L689.7 341L705.3 384.3L720.9 440.1L727.3 470"/>
<path d="M103.5 64.6L203.3 90.9L303.1 117.3L402.9 144.3L502.7 174.2L518.3 179.7L533.9 185.6L549.5 192.1L565 199.4L580.6 207.6L596.2 217.1L611.8 228.4L627.4 241.9L643 258.4L658.5 278.7L674.1 304.2L689.7 336.4L705.3 377.5L720.9 430.3L730 470"/>
<path d="M103.5 81.4L203.3 104.5L303.1 127.7L402.9 151.4L502.7 178.3L518.3 183.4L533.9 189L549.5 195.1L565 202.1L580.6 210.1L596.2 219.5L611.8 230.8L627.4 244.5L643 261.3L658.5 282.3L674.1 308.9L689.7 342.6L705.3 385.9L720.9 441.6L727 470"/>
<path d="M103.5 138.4L203.3 149L303.1 159.7L402.9 171.1L502.7 186.1L518.3 189.5L533.9 193.4L549.5 198L565 203.5L580.6 210.3L596.2 218.6L611.8 229.1L627.4 242.4L643 259.3L658.5 281.1L674.1 309.2L689.7 345.6L705.3 393L720.9 454.9L723.8 470"/>
<path d="M103.5 76L203.3 100.3L303.1 124.6L402.9 149.4L502.7 177.2L518.3 182.4L533.9 188L549.5 194.1L565 201L580.6 208.9L596.2 218.1L611.8 229.1L627.4 242.2L643 258.4L658.5 278.4L674.1 303.5L689.7 335.4L705.3 376.2L720.9 428.6L730.4 470"/>
<path d="M103.5 81.9L203.3 105L303.1 128.1L402.9 151.7L502.7 178.3L518.3 183.2L533.9 188.6L549.5 194.6L565 201.3L580.6 208.9L596.2 217.9L611.8 228.6L627.4 241.5L643 257.3L658.5 277L674.1 301.7L689.7 333.1L705.3 373.4L720.9 425.1L731.3 470"/>
<path d="M103.5 57.3L203.3 85.6L303.1 113.9L402.9 142.8L502.7 174.5L518.3 180.2L533.9 186.4L549.5 193.1L565 200.6L580.6 209L596.2 218.7L611.8 230.1L627.4 243.6L643 260L658.5 280.2L674.1 305.4L689.7 337.2L705.3 377.6L720.9 429.3L730.4 470"/>
<path d="M103.5 48L203.3 78.5L303.1 109.1L402.9 140.1L502.7 173.9L518.3 179.9L533.9 186.3L549.5 193.2L565 200.9L580.6 209.4L596.2 219.1L611.8 230.4L627.4 243.7L643 259.8L658.5 279.4L674.1 303.7L689.7 334.2L705.3 372.7L720.9 422L732.7 470"/>
<path d="M103.5 73.9L203.3 98.4L303.1 123L402.9 148.1L502.7 176.3L518.3 181.5L533.9 187.2L549.5 193.5L565 200.5L580.6 208.6L596.2 218L611.8 229.1L627.4 242.6L643 259L658.5 279.5L674.1 305.3L689.7 337.9L705.3 379.6L720.9 433.3L729.1 470"/>
<path d="M103.5 64.8L203.3 91.4L303.1 118.1L402.9 145.3L502.7 175.5L518.3 181L533.9 186.9L549.5 193.4L565 200.7L580.6 208.9L596.2 218.3L611.8 229.5L627.4 242.9L643 259.1L658.5 279.2L674.1 304.3L689.7 336L705.3 376.4L720.9 428.3L730.6 470"/>
<path d="M103.5 69.5L203.3 95L303.1 120.6L402.9 146.7L502.7 175.9L518.3 181.3L533.9 187.2L549.5 193.6L565 200.8L580.6 209.1L596.2 218.7L611.8 230L627.4 243.7L643 260.4L658.5 281.1L674.1 307.2L689.7 340.1L705.3 382.3L720.9 436.4L728.3 470"/>
<path d="M103.5 58.6L203.3 86.5L303.1 114.5L402.9 143.1L502.7 174.3L518.3 180L533.9 186L549.5 192.6L565 199.8L580.6 208L596.2 217.4L611.8 228.4L627.4 241.4L643 257.2L658.5 276.6L674.1 300.8L689.7 331.2L705.3 369.8L720.9 419.2L733.3 470"/>
<path d="M103.5 90.7L203.3 112L303.1 133.3L402.9 155.2L502.7 180.4L518.3 185.3L533.9 190.6L549.5 196.6L565 203.4L580.6 211.3L596.2 220.6L611.8 231.9L627.4 245.7L643 262.7L658.5 284.1L674.1 311.2L689.7 345.9L705.3 390.4L720.9 447.8L725.5 470"/>
<path d="M103.5 72.8L203.3 97.7L303.1 122.8L402.9 148.4L502.7 177.1L518.3 182.4L533.9 188.2L549.5 194.5L565 201.6L580.6 209.7L596.2 219.1L611.8 230.3L627.4 243.8L643 260.4L658.5 280.9L674.1 306.6L689.7 339.2L705.3 380.9L720.9 434.5L728.9 470"/>
<path d="M103.5 49.3L203.3 79.7L303.1 110.3L402.9 141.3L502.7 175L518.3 181L533.9 187.5L549.5 194.4L565 202.1L580.6 210.7L596.2 220.4L611.8 231.8L627.4 245.2L643 261.4L658.5 281.2L674.1 305.8L689.7 336.6L705.3 375.6L720.9 425.4L731.7 470"/>
<path d="M103.5 73.2L203.3 98.2L303.1 123.3L402.9 149L502.7 177.7L518.3 183.1L533.9 188.9L549.5 195.3L565 202.5L580.6 210.7L596.2 220.3L611.8 231.7L627.4 245.4L643 262.3L658.5 283.3L674.1 309.6L689.7 343L705.3 385.7L720.9 440.6L727.3 470"/>
<path d="M103.5 84.2L203.3 106.5L303.1 128.9L402.9 151.9L502.7 177.9L518.3 182.8L533.9 188.2L549.5 194.1L565 200.8L580.6 208.5L596.2 217.6L611.8 228.4L627.4 241.6L643 257.7L658.5 277.9L674.1 303.3L689.7 335.7L705.3 377.2L720.9 430.6L729.7 470"/>
<path d="M103.5 65.6L203.3 91.8L303.1 118.1L402.9 144.9L502.7 174.8L518.3 180.3L533.9 186.3L549.5 192.8L565 200.1L580.6 208.4L596.2 218.1L611.8 229.5L627.4 243.2L643 259.9L658.5 280.7L674.1 306.7L689.7 339.6L705.3 381.6L720.9 435.5L728.6 470"/>
<path d="M103.5 115.8L203.3 131.4L303.1 147.1L402.9 163.5L502.7 183.3L518.3 187.3L533.9 191.9L549.5 197.1L565 203.2L580.6 210.4L596.2 219.1L611.8 229.9L627.4 243.2L643 260L658.5 281.3L674.1 308.5L689.7 343.6L705.3 389L720.9 447.9L725.3 470"/>
<path d="M103.5 92.1L203.3 112.6L303.1 133.1L402.9 154.2L502.7 178.4L518.3 183.1L533.9 188.2L549.5 193.9L565 200.4L580.6 208L596.2 216.9L611.8 227.7L627.4 240.9L643 257.2L658.5 277.6L674.1 303.5L689.7 336.5L705.3 379L720.9 433.8L728.8 470"/>
<path d="M103.5 97L203.3 116.8L303.1 136.7L402.9 157.2L502.7 180.7L518.3 185.2L533.9 190.2L549.5 195.8L565 202.1L580.6 209.5L596.2 218.3L611.8 228.8L627.4 241.6L643 257.5L658.5 277.5L674.1 302.8L689.7 335.2L705.3 376.7L720.9 430.3L729.7 470"/>
<path d="M103.5 90L203.3 111.4L303.1 132.9L402.9 154.9L502.7 180.1L518.3 184.9L533.9 190.2L549.5 196L565 202.7L580.6 210.4L596.2 219.5L611.8 230.3L627.4 243.6L643 260L658.5 280.5L674.1 306.4L689.7 339.5L705.3 381.9L720.9 436.7L728.2 470"/>
<path d="M103.5 87.8L203.3 109.1L303.1 130.4L402.9 152.3L502.7 177.5L518.3 182.4L533.9 187.7L549.5 193.7L565 200.4L580.6 208.3L596.2 217.7L611.8 228.9L627.4 242.6L643 259.6L658.5 280.9L674.1 307.9L689.7 342.4L705.3 386.7L720.9 443.9L726.4 470"/>
<path d="M103.5 80.9L203.3 103.7L303.1 126.7L402.9 150.2L502.7 177L518.3 182.1L533.9 187.7L549.5 193.9L565 201L580.6 209.1L596.2 218.8L611.8 230.3L627.4 244.3L643 261.7L658.5 283.4L674.1 310.8L689.7 345.8L705.3 390.7L720.9 448.6L725.3 470"/>
<path d="M103.5 70.2L203.3 96.3L303.1 122.5L402.9 149.2L502.7 178.9L518.3 184.3L533.9 190.2L549.5 196.6L565 203.8L580.6 212L596.2 221.5L611.8 232.6L627.4 246L643 262.4L658.5 282.6L674.1 307.9L689.7 339.9L705.3 380.7L720.9 433.1L729.4 470"/>
<path d="M103.5 71.3L203.3 97.1L303.1 123L402.9 149.4L502.7 178.8L518.3 184.1L533.9 189.9L549.5 196.3L565 203.4L580.6 211.4L596.2 220.7L611.8 231.7L627.4 244.8L643 260.9L658.5 280.7L674.1 305.5L689.7 336.9L705.3 376.9L720.9 428.2L730.7 470"/>
<path d="M103.5 80.6L203.3 104.2L303.1 127.8L402.9 151.9L502.7 179.1L518.3 184.2L533.9 189.7L549.5 195.7L565 202.5L580.6 210.4L596.2 219.5L611.8 230.3L627.4 243.4L643 259.5L658.5 279.5L674.1 304.6L689.7 336.5L705.3 377.3L720.9 429.8L730.1 470"/>
<path d="M103.5 139.9L203.3 150.1L303.1 160.5L402.9 171.5L502.7 186.3L518.3 189.6L533.9 193.5L549.5 198.1L565 203.7L580.6 210.4L596.2 218.9L611.8 229.5L627.4 242.9L643 260.1L658.5 282.2L674.1 310.7L689.7 347.7L705.3 395.9L720.9 458.8L723 470"/>
<path d="M103.5 58.1L203.3 85.9L303.1 113.7L402.9 142.1L502.7 173.2L518.3 178.8L533.9 184.9L549.5 191.4L565 198.7L580.6 206.9L596.2 216.3L611.8 227.4L627.4 240.5L643 256.4L658.5 276L674.1 300.4L689.7 331.1L705.3 370.1L720.9 420.1L733 470"/>
<path d="M103.5 41.5L203.3 73L303.1 104.6L402.9 136.7L502.7 171.4L518.3 177.6L533.9 184.1L549.5 191.2L565 198.9L580.6 207.5L596.2 217.3L611.8 228.6L627.4 241.9L643 257.9L658.5 277.3L674.1 301.3L689.7 331.3L705.3 369.3L720.9 417.7L734 470"/>
<path d="M103.5 94.6L203.3 114.6L303.1 134.8L402.9 155.5L502.7 179.5L518.3 184.2L533.9 189.3L549.5 195.1L565 201.7L580.6 209.4L596.2 218.6L611.8 229.6L627.4 243.2L643 260L658.5 281.2L674.1 308L689.7 342.3L705.3 386.5L720.9 443.6L726.4 470"/>
<path d="M103.5 51.2L203.3 81.1L303.1 111.1L402.9 141.5L502.7 174.7L518.3 180.6L533.9 186.9L549.5 193.8L565 201.3L580.6 209.8L596.2 219.4L611.8 230.7L627.4 243.9L643 260L658.5 279.5L674.1 303.8L689.7 334.3L705.3 373L720.9 422.3L732.6 470"/>
<path d="M103.5 77.9L203.3 101.4L303.1 124.9L402.9 149L502.7 176.3L518.3 181.4L533.9 187L549.5 193.1L565 200.1L580.6 208.1L596.2 217.5L611.8 228.7L627.4 242.2L643 258.9L658.5 279.7L674.1 305.8L689.7 339.1L705.3 381.7L720.9 436.6L728.2 470"/>
<path d="M103.5 84L203.3 106.2L303.1 128.4L402.9 151.3L502.7 177.3L518.3 182.3L533.9 187.7L549.5 193.8L565 200.7L580.6 208.6L596.2 218L611.8 229.3L627.4 243L643 259.9L658.5 281.1L674.1 307.9L689.7 342L705.3 385.8L720.9 442.4L726.7 470"/>
<path d="M103.5 69.4L203.3 94.6L303.1 119.9L402.9 145.8L502.7 174.8L518.3 180.2L533.9 186L549.5 192.4L565 199.6L580.6 207.8L596.2 217.3L611.8 228.6L627.4 242.3L643 259L658.5 279.7L674.1 305.7L689.7 338.7L705.3 380.8L720.9 435L728.7 470"/>
<path d="M103.5 58.3L203.3 86.5L303.1 114.8L402.9 143.6L502.7 175.3L518.3 181L533.9 187.2L549.5 193.9L565 201.4L580.6 209.9L596.2 219.6L611.8 231L627.4 244.6L643 261.1L658.5 281.5L674.1 306.9L689.7 338.8L705.3 379.5L720.9 431.7L729.8 470"/>
<path d="M103.5 79.7L203.3 103.1L303.1 126.5L402.9 150.4L502.7 177.4L518.3 182.4L533.9 187.8L549.5 193.8L565 200.6L580.6 208.4L596.2 217.4L611.8 228.2L627.4 241.1L643 257.1L658.5 276.9L674.1 301.8L689.7 333.5L705.3 373.9L720.9 426L731.1 470"/>
<path d="M103.5 84.2L203.3 106.6L303.1 129.1L402.9 152.1L502.7 178.2L518.3 183.1L533.9 188.4L549.5 194.3L565 201L580.6 208.7L596.2 217.7L611.8 228.5L627.4 241.5L643 257.5L658.5 277.5L674.1 302.8L689.7 334.8L705.3 375.9L720.9 428.8L730.2 470"/>
<path d="M103.5 69.5L203.3 94.7L303.1 120L402.9 145.9L502.7 174.8L518.3 180.2L533.9 186L549.5 192.4L565 199.6L580.6 207.9L596.2 217.4L611.8 228.8L627.4 242.5L643 259.3L658.5 280.1L674.1 306.2L689.7 339.4L705.3 381.7L720.9 436.2L728.3 470"/>
<path d="M103.5 32.9L203.3 66.8L303.1 100.7L402.9 135.1L502.7 172.1L518.3 178.6L533.9 185.4L549.5 192.8L565 200.8L580.6 209.7L596.2 219.7L611.8 231.2L627.4 244.6L643 260.7L658.5 280.1L674.1 304L689.7 333.8L705.3 371.2L720.9 418.9L733.9 470"/>
<path d="M103.5 58.6L203.3 86.7L303.1 114.9L402.9 143.6L502.7 175.4L518.3 181.1L533.9 187.4L549.5 194.2L565 201.7L580.6 210.3L596.2 220.2L611.8 231.8L627.4 245.7L643 262.6L658.5 283.4L674.1 309.5L689.7 342.3L705.3 384.2L720.9 437.8L728.1 470"/>
<path d="M103.5 81.1L203.3 103.6L303.1 126.3L402.9 149.5L502.7 176.1L518.3 181.1L533.9 186.7L549.5 192.9L565 199.9L580.6 208.1L596.2 217.7L611.8 229.2L627.4 243.3L643 260.7L658.5 282.5L674.1 310L689.7 345.2L705.3 390.3L720.9 448.5L725.3 470"/>
<path d="M103.5 59L203.3 87L303.1 115.1L402.9 143.6L502.7 175.1L518.3 180.7L533.9 186.8L549.5 193.5L565 200.8L580.6 209.1L596.2 218.6L611.8 229.8L627.4 243.1L643 259.2L658.5 279L674.1 303.7L689.7 334.8L705.3 374.3L720.9 425L731.6 470"/>
<path d="M103.5 129L203.3 141.4L303.1 153.9L402.9 167L502.7 183.8L518.3 187.4L533.9 191.6L549.5 196.4L565 202.2L580.6 209.2L596.2 217.8L611.8 228.5L627.4 241.9L643 259L658.5 280.9L674.1 309L689.7 345.4L705.3 392.7L720.9 454.3L723.9 470"/>
<path d="M103.5 117.8L203.3 132.5L303.1 147.3L402.9 162.7L502.7 181.7L518.3 185.6L533.9 190L549.5 195.1L565 201.1L580.6 208.2L596.2 216.9L611.8 227.5L627.4 240.9L643 257.7L658.5 279L674.1 306.4L689.7 341.7L705.3 387.5L720.9 446.9L725.5 470"/>
<path d="M103.5 94.4L203.3 114.6L303.1 134.8L402.9 155.7L502.7 179.8L518.3 184.4L533.9 189.6L549.5 195.4L565 202L580.6 209.7L596.2 218.8L611.8 229.8L627.4 243.3L643 260.1L658.5 281.2L674.1 308L689.7 342.1L705.3 386.1L720.9 443L726.6 470"/>
<path d="M103.5 80.1L203.3 102.8L303.1 125.6L402.9 148.9L502.7 175.4L518.3 180.3L533.9 185.8L549.5 191.8L565 198.6L580.6 206.4L596.2 215.6L611.8 226.5L627.4 239.8L643 256.2L658.5 276.6L674.1 302.3L689.7 335.1L705.3 377L720.9 431L729.5 470"/>
<path d="M103.5 66.6L203.3 93.2L303.1 120L402.9 147.2L502.7 177.3L518.3 182.8L533.9 188.7L549.5 195.2L565 202.4L580.6 210.5L596.2 219.9L611.8 231L627.4 244.2L643 260.3L658.5 280.2L674.1 305L689.7 336.3L705.3 376.2L720.9 427.3L730.9 470"/>
<path d="M103.5 96.1L203.3 116L303.1 136L402.9 156.5L502.7 180.4L518.3 185L533.9 190.1L549.5 195.8L565 202.4L580.6 210L596.2 219.1L611.8 230.1L627.4 243.5L643 260.2L658.5 281.2L674.1 307.9L689.7 341.9L705.3 385.7L720.9 442.4L726.7 470"/>
<path d="M103.5 83.8L203.3 106L303.1 128.3L402.9 151.1L502.7 177.2L518.3 182.2L533.9 187.6L549.5 193.6L565 200.5L580.6 208.4L596.2 217.8L611.8 228.9L627.4 242.6L643 259.4L658.5 280.5L674.1 307.1L689.7 340.9L705.3 384.4L720.9 440.5L727.2 470"/>
<path d="M103.5 74.2L203.3 98.8L303.1 123.5L402.9 148.7L502.7 177L518.3 182.3L533.9 188L549.5 194.3L565 201.3L580.6 209.4L596.2 218.8L611.8 230L627.4 243.5L643 260.1L658.5 280.7L674.1 306.5L689.7 339.3L705.3 381.2L720.9 435.1L728.7 470"/>
<path d="M103.5 55.1L203.3 83.9L303.1 112.9L402.9 142.3L502.7 174.6L518.3 180.4L533.9 186.6L549.5 193.3L565 200.8L580.6 209.2L596.2 218.8L611.8 230L627.4 243.4L643 259.6L658.5 279.4L674.1 304L689.7 335L705.3 374.4L720.9 424.8L731.7 470"/>
<path d="M103.5 57.2L203.3 85.3L303.1 113.4L402.9 142L502.7 173.6L518.3 179.4L533.9 185.6L549.5 192.4L565 199.9L580.6 208.4L596.2 218.3L611.8 229.9L627.4 243.7L643 260.5L658.5 281.3L674.1 307.3L689.7 340L705.3 381.7L720.9 435.2L728.7 470"/>
<path d="M103.5 78.6L203.3 102.1L303.1 125.7L402.9 149.8L502.7 176.8L518.3 181.9L533.9 187.3L549.5 193.4L565 200.2L580.6 207.9L596.2 217L611.8 227.8L627.4 240.8L643 256.8L658.5 276.7L674.1 301.6L689.7 333.3L705.3 373.8L720.9 425.9L731.1 470"/>
<path d="M103.5 72L203.3 96.6L303.1 121.4L402.9 146.6L502.7 175L518.3 180.3L533.9 186.1L549.5 192.4L565 199.6L580.6 207.8L596.2 217.3L611.8 228.7L627.4 242.4L643 259.2L658.5 280.2L674.1 306.5L689.7 339.9L705.3 382.6L720.9 437.7L728 470"/>
<path d="M103.5 93L203.3 113.2L303.1 133.4L402.9 154.2L502.7 178.3L518.3 182.9L533.9 188L549.5 193.7L565 200.2L580.6 207.8L596.2 216.8L611.8 227.6L627.4 240.9L643 257.3L658.5 278L674.1 304.1L689.7 337.6L705.3 380.5L720.9 436.1L728.2 470"/>
<path d="M103.5 88.5L203.3 109.9L303.1 131.4L402.9 153.5L502.7 178.7L518.3 183.5L533.9 188.7L549.5 194.5L565 201.1L580.6 208.8L596.2 217.8L611.8 228.6L627.4 241.7L643 257.9L658.5 278.2L674.1 303.8L689.7 336.5L705.3 378.4L720.9 432.4L729.2 470"/>
<path d="M103.5 91.6L203.3 112.7L303.1 133.8L402.9 155.5L502.7 180.3L518.3 185L533.9 190.2L549.5 195.9L565 202.4L580.6 210L596.2 218.8L611.8 229.5L627.4 242.5L643 258.5L658.5 278.5L674.1 303.8L689.7 336.1L705.3 377.5L720.9 431L729.6 470"/>
<path d="M103.5 82.9L203.3 105.8L303.1 128.7L402.9 152.1L502.7 178.6L518.3 183.6L533.9 189L549.5 194.9L565 201.6L580.6 209.4L596.2 218.4L611.8 229.2L627.4 242.2L643 258.2L658.5 278.1L674.1 303.2L689.7 335.1L705.3 375.9L720.9 428.5L730.4 470"/>
<path d="M103.5 135.9L203.3 147.3L303.1 158.8L402.9 170.9L502.7 186.6L518.3 190.1L533.9 194.1L549.5 198.8L565 204.4L580.6 211.2L596.2 219.6L611.8 230.1L627.4 243.3L643 260.2L658.5 281.8L674.1 309.6L689.7 345.7L705.3 392.7L720.9 453.8L724 470"/>
<path d="M103.5 74.7L203.3 99.4L303.1 124.2L402.9 149.5L502.7 177.6L518.3 182.7L533.9 188.3L549.5 194.4L565 201.2L580.6 209L596.2 218L611.8 228.6L627.4 241.4L643 256.9L658.5 276.1L674.1 300.2L689.7 330.7L705.3 369.6L720.9 419.5L733.1 470"/>
<path d="M103.5 59.5L203.3 87.1L303.1 114.9L402.9 143.1L502.7 174.2L518.3 179.9L533.9 185.9L549.5 192.5L565 199.9L580.6 208.2L596.2 217.7L611.8 228.9L627.4 242.3L643 258.5L658.5 278.5L674.1 303.5L689.7 334.9L705.3 375L720.9 426.2L731.2 470"/>
<path d="M103.5 68.2L203.3 94.1L303.1 120L402.9 146.5L502.7 175.9L518.3 181.3L533.9 187.1L549.5 193.5L565 200.6L580.6 208.7L596.2 218.1L611.8 229.1L627.4 242.4L643 258.5L658.5 278.5L674.1 303.4L689.7 335L705.3 375.3L720.9 427L730.9 470"/>
<path d="M103.5 87L203.3 109.4L303.1 131.9L402.9 154.9L502.7 181.1L518.3 186L533.9 191.4L549.5 197.4L565 204.2L580.6 212.1L596.2 221.3L611.8 232.3L627.4 245.7L643 262.2L658.5 282.9L674.1 308.9L689.7 342.1L705.3 384.6L720.9 439.4L727.6 470"/>
<path d="M103.5 99.4L203.3 118.8L303.1 138.3L402.9 158.3L502.7 181.7L518.3 186.2L533.9 191.2L549.5 196.9L565 203.4L580.6 210.9L596.2 220L611.8 230.9L627.4 244.2L643 260.9L658.5 281.9L674.1 308.5L689.7 342.5L705.3 386.4L720.9 443.1L726.6 470"/>
<path d="M103.5 81L203.3 103.9L303.1 126.8L402.9 150.3L502.7 176.8L518.3 181.7L533.9 187.1L549.5 193.1L565 199.8L580.6 207.5L596.2 216.5L611.8 227.3L627.4 240.3L643 256.3L658.5 276.2L674.1 301.3L689.7 333.1L705.3 373.9L720.9 426.4L730.9 470"/>
<path d="M103.5 104.6L203.3 122.5L303.1 140.6L402.9 159.2L502.7 181.1L518.3 185.4L533.9 190.3L549.5 195.7L565 202L580.6 209.4L596.2 218.3L611.8 229.1L627.4 242.4L643 259L658.5 279.9L674.1 306.6L689.7 340.8L705.3 385L720.9 442.2L726.7 470"/>
<path d="M103.5 78.8L203.3 102.5L303.1 126.3L402.9 150.6L502.7 177.8L518.3 182.9L533.9 188.4L549.5 194.5L565 201.3L580.6 209.1L596.2 218.2L611.8 228.9L627.4 241.9L643 257.9L658.5 277.7L674.1 302.6L689.7 334.2L705.3 374.6L720.9 426.5L730.9 470"/>
<path d="M103.5 79.3L203.3 103.1L303.1 126.9L402.9 151.3L502.7 178.7L518.3 183.8L533.9 189.4L549.5 195.5L565 202.4L580.6 210.3L596.2 219.5L611.8 230.5L627.4 243.7L643 260L658.5 280.2L674.1 305.6L689.7 337.9L705.3 379.2L720.9 432.3L729.4 470"/>
<path d="M103.5 77.3L203.3 101.1L303.1 125.1L402.9 149.6L502.7 177.2L518.3 182.4L533.9 188L549.5 194.2L565 201.2L580.6 209.2L596.2 218.6L611.8 229.8L627.4 243.4L643 260L658.5 280.7L674.1 306.7L689.7 339.8L705.3 382.2L720.9 436.8L728.2 470"/>
<path d="M103.5 134.3L203.3 145.8L303.1 157.4L402.9 169.7L502.7 185.3L518.3 188.7L533.9 192.6L549.5 197.2L565 202.6L580.6 209.2L596.2 217.2L611.8 227.3L627.4 239.9L643 256L658.5 276.6L674.1 303.1L689.7 337.4L705.3 381.9L720.9 440L727 470"/>
<path d="M103.5 138.8L203.3 149.3L303.1 159.9L402.9 171.2L502.7 186L518.3 189.4L533.9 193.2L549.5 197.7L565 203.1L580.6 209.8L596.2 218L611.8 228.3L627.4 241.3L643 257.8L658.5 279.1L674.1 306.6L689.7 342.3L705.3 388.7L720.9 449.2L725 470"/>
<path d="M103.5 83.6L203.3 106.3L303.1 129.2L402.9 152.5L502.7 178.8L518.3 183.7L533.9 189.1L549.5 195L565 201.7L580.6 209.3L596.2 218.3L611.8 228.9L627.4 241.8L643 257.6L658.5 277.4L674.1 302.2L689.7 333.7L705.3 374L720.9 426L731.1 470"/>
<path d="M103.5 67.1L203.3 93.6L303.1 120.2L402.9 147.3L502.7 177.2L518.3 182.7L533.9 188.6L549.5 195L565 202.2L580.6 210.3L596.2 219.7L611.8 230.8L627.4 244L643 260.1L658.5 280L674.1 304.9L689.7 336.2L705.3 376.2L720.9 427.5L730.9 470"/>
<path d="M103.5 72.3L203.3 97L303.1 121.9L402.9 147.2L502.7 175.6L518.3 180.9L533.9 186.6L549.5 192.8L565 199.9L580.6 207.9L596.2 217.3L611.8 228.4L627.4 241.8L643 258.3L658.5 278.6L674.1 304.2L689.7 336.6L705.3 378.1L720.9 431.4L729.6 470"/>
<path d="M103.5 58.9L203.3 87.1L303.1 115.5L402.9 144.3L502.7 176.1L518.3 181.8L533.9 188L549.5 194.7L565 202.2L580.6 210.7L596.2 220.4L611.8 231.8L627.4 245.4L643 261.9L658.5 282.2L674.1 307.6L689.7 339.5L705.3 380.2L720.9 432.2L729.6 470"/>
<path d="M103.5 82.9L203.3 105.7L303.1 128.6L402.9 152.1L502.7 178.7L518.3 183.7L533.9 189.2L549.5 195.2L565 202.1L580.6 210L596.2 219.3L611.8 230.3L627.4 243.8L643 260.3L658.5 281L674.1 307L689.7 340.2L705.3 382.6L720.9 437.4L728 470"/>
<path d="M103.5 65.9L203.3 91.9L303.1 118.1L402.9 144.7L502.7 174.3L518.3 179.7L533.9 185.6L549.5 192L565 199.1L580.6 207.2L596.2 216.6L611.8 227.6L627.4 240.9L643 257.1L658.5 277.1L674.1 302.1L689.7 333.7L705.3 374L720.9 425.8L731.2 470"/>
<path d="M103.5 81L203.3 103.9L303.1 126.9L402.9 150.5L502.7 177.1L518.3 182.2L533.9 187.7L549.5 193.7L565 200.6L580.6 208.5L596.2 217.8L611.8 228.9L627.4 242.4L643 259L658.5 279.6L674.1 305.7L689.7 338.9L705.3 381.4L720.9 436.2L728.3 470"/>
<path d="M103.5 74.6L203.3 98.8L303.1 123L402.9 147.8L502.7 175.8L518.3 181L533.9 186.7L549.5 193L565 200L580.6 208.2L596.2 217.7L611.8 229L627.4 242.7L643 259.5L658.5 280.5L674.1 306.8L689.7 340.3L705.3 383.2L720.9 438.3L727.8 470"/>
<path d="M103.5 76.5L203.3 100.7L303.1 125L402.9 149.8L502.7 177.6L518.3 182.8L533.9 188.4L549.5 194.6L565 201.5L580.6 209.5L596.2 218.7L611.8 229.7L627.4 242.9L643 259.2L658.5 279.4L674.1 304.7L689.7 336.9L705.3 378L720.9 430.9L729.8 470"/>
<path d="M103.5 87.3L203.3 109.1L303.1 131L402.9 153.4L502.7 179L518.3 183.9L533.9 189.1L549.5 195L565 201.7L580.6 209.4L596.2 218.5L611.8 229.4L627.4 242.6L643 258.9L658.5 279.2L674.1 305L689.7 337.7L705.3 379.8L720.9 434L728.9 470"/>
<path d="M103.5 96.1L203.3 116L303.1 135.9L402.9 156.4L502.7 180.3L518.3 185L533.9 190.1L549.5 195.8L565 202.5L580.6 210.2L596.2 219.4L611.8 230.4L627.4 244.1L643 261L658.5 282.3L674.1 309.3L689.7 343.9L705.3 388.5L720.9 446.1L725.9 470"/>
<path d="M103.5 99.7L203.3 119L303.1 138.3L402.9 158.2L502.7 181.4L518.3 185.9L533.9 191L549.5 196.6L565 203.1L580.6 210.7L596.2 219.8L611.8 230.8L627.4 244.2L643 261L658.5 282.2L674.1 309.1L689.7 343.5L705.3 387.8L720.9 445.1L726.1 470"/>
<path d="M103.5 70L203.3 95.2L303.1 120.6L402.9 146.5L502.7 175.6L518.3 181L533.9 186.9L549.5 193.3L565 200.6L580.6 208.9L596.2 218.6L611.8 230.1L627.4 244L643 261.1L658.5 282.2L674.1 308.8L689.7 342.6L705.3 385.7L720.9 441.2L727.1 470"/>
<path d="M103.5 56.3L203.3 85.1L303.1 113.9L402.9 143.3L502.7 175.4L518.3 181.2L533.9 187.4L549.5 194.1L565 201.5L580.6 209.8L596.2 219.4L611.8 230.6L627.4 243.8L643 259.8L658.5 279.5L674.1 304L689.7 334.7L705.3 373.8L720.9 423.7L732.1 470"/>
<path d="M103.5 88.3L203.3 110L303.1 131.8L402.9 154.2L502.7 179.6L518.3 184.4L533.9 189.6L549.5 195.5L565 202.1L580.6 209.7L596.2 218.7L611.8 229.4L627.4 242.4L643 258.5L658.5 278.6L674.1 304L689.7 336.3L705.3 377.7L720.9 431.1L729.6 470"/>
<path d="M103.5 64.7L203.3 91.4L303.1 118.2L402.9 145.4L502.7 175.5L518.3 181L533.9 186.8L549.5 193.2L565 200.3L580.6 208.3L596.2 217.6L611.8 228.4L627.4 241.4L643 257.1L658.5 276.4L674.1 300.5L689.7 331L705.3 369.7L720.9 419.3L733.2 470"/>
<path d="M103.5 78.2L203.3 101.9L303.1 125.6L402.9 149.9L502.7 177.2L518.3 182.3L533.9 187.8L549.5 193.9L565 200.8L580.6 208.6L596.2 217.8L611.8 228.6L627.4 241.8L643 257.9L658.5 277.9L674.1 303.1L689.7 335L705.3 375.9L720.9 428.5L730.4 470"/>
<path d="M103.5 97.8L203.3 117.2L303.1 136.7L402.9 156.7L502.7 180.1L518.3 184.6L533.9 189.6L549.5 195.3L565 201.8L580.6 209.4L596.2 218.4L611.8 229.3L627.4 242.8L643 259.5L658.5 280.5L674.1 307.2L689.7 341.3L705.3 385.3L720.9 442.2L726.7 470"/>
<path d="M103.5 78.6L203.3 101.5L303.1 124.5L402.9 148.1L502.7 174.7L518.3 179.7L533.9 185.1L549.5 191.2L565 198L580.6 205.8L596.2 215L611.8 226L627.4 239.3L643 255.6L658.5 276L674.1 301.6L689.7 334.3L705.3 376.1L720.9 430L729.8 470"/>
<path d="M103.5 47.3L203.3 77.6L303.1 108L402.9 138.9L502.7 172.7L518.3 178.7L533.9 185.2L549.5 192.2L565 200L580.6 208.7L596.2 218.6L611.8 230.2L627.4 244L643 260.7L658.5 281L674.1 306.4L689.7 338.2L705.3 378.5L720.9 430.1L730.2 470"/>
<path d="M103.5 65L203.3 91.5L303.1 118L402.9 145L502.7 175.1L518.3 180.6L533.9 186.5L549.5 193L565 200.3L580.6 208.6L596.2 218.2L611.8 229.4L627.4 243L643 259.5L658.5 280L674.1 305.5L689.7 337.9L705.3 379.1L720.9 432.1L729.5 470"/>
<path d="M103.5 66.5L203.3 93L303.1 119.6L402.9 146.7L502.7 176.7L518.3 182.1L533.9 188L549.5 194.5L565 201.6L580.6 209.8L596.2 219.1L611.8 230.2L627.4 243.4L643 259.4L658.5 279.3L674.1 304.1L689.7 335.4L705.3 375.2L720.9 426.4L731.2 470"/>
<path d="M103.5 49.5L203.3 79.1L303.1 108.9L402.9 139.2L502.7 172.4L518.3 178.3L533.9 184.7L549.5 191.7L565 199.4L580.6 208L596.2 217.9L611.8 229.5L627.4 243.3L643 260L658.5 280.5L674.1 306L689.7 338L705.3 378.7L720.9 430.7L730 470"/>
<path d="M103.5 78.2L203.3 102.1L303.1 126.1L402.9 150.6L502.7 178.1L518.3 183.2L533.9 188.8L549.5 194.9L565 201.8L580.6 209.7L596.2 218.8L611.8 229.7L627.4 242.9L643 259L658.5 279L674.1 304.1L689.7 336L705.3 376.8L720.9 429.3L730.2 470"/>
<path d="M103.5 61.5L203.3 88.7L303.1 116L402.9 143.8L502.7 174.4L518.3 179.9L533.9 185.9L549.5 192.4L565 199.6L580.6 207.7L596.2 217.1L611.8 228L627.4 241.1L643 257L658.5 276.5L674.1 300.9L689.7 331.6L705.3 370.7L720.9 420.7L732.8 470"/>
<path d="M103.5 50.9L203.3 80.2L303.1 109.5L402.9 139.3L502.7 172.1L518.3 178L533.9 184.4L549.5 191.3L565 199L580.6 207.6L596.2 217.6L611.8 229.2L627.4 243L643 259.8L658.5 280.4L674.1 306.1L689.7 338.5L705.3 379.6L720.9 432.3L729.5 470"/>
<path d="M103.5 93.6L203.3 114.3L303.1 135.1L402.9 156.4L502.7 180.8L518.3 185.4L533.9 190.5L549.5 196.2L565 202.6L580.6 210.1L596.2 218.9L611.8 229.5L627.4 242.4L643 258.3L658.5 278.2L674.1 303.4L689.7 335.5L705.3 376.7L720.9 430L729.9 470"/>
<path d="M103.5 80.4L203.3 104.1L303.1 127.9L402.9 152.2L502.7 179.6L518.3 184.7L533.9 190.2L549.5 196.3L565 203.2L580.6 211.1L596.2 220.3L611.8 231.2L627.4 244.4L643 260.7L658.5 280.8L674.1 306.2L689.7 338.4L705.3 379.7L720.9 432.7L729.3 470"/>
<path d="M103.5 98.3L203.3 117.8L303.1 137.4L402.9 157.6L502.7 181.2L518.3 185.8L533.9 190.9L549.5 196.6L565 203.2L580.6 210.9L596.2 220.1L611.8 231.2L627.4 244.8L643 261.8L658.5 283.1L674.1 310.3L689.7 345L705.3 389.7L720.9 447.6L725.5 470"/>
<path d="M103.5 66.1L203.3 91.9L303.1 117.8L402.9 144.2L502.7 173.9L518.3 179.4L533.9 185.4L549.5 192L565 199.4L580.6 207.9L596.2 217.8L611.8 229.5L627.4 243.7L643 261L658.5 282.6L674.1 309.7L689.7 344.1L705.3 388L720.9 444.6L726.3 470"/>
<path d="M103.5 72.5L203.3 97.7L303.1 123L402.9 148.7L502.7 177.3L518.3 182.5L533.9 188.2L549.5 194.4L565 201.2L580.6 209.1L596.2 218.1L611.8 228.8L627.4 241.5L643 257.1L658.5 276.3L674.1 300.4L689.7 330.8L705.3 369.6L720.9 419.3L733.2 470"/>
<path d="M103.5 80L203.3 103.4L303.1 126.8L402.9 150.9L502.7 178.1L518.3 183.2L533.9 188.8L549.5 195L565 202L580.6 210L596.2 219.5L611.8 230.7L627.4 244.4L643 261.2L658.5 282.2L674.1 308.7L689.7 342.4L705.3 385.5L720.9 441.1L727.1 470"/>
<path d="M103.5 68.8L203.3 94L303.1 119.4L402.9 145.2L502.7 174.1L518.3 179.5L533.9 185.3L549.5 191.7L565 198.8L580.6 207L596.2 216.5L611.8 227.7L627.4 241.2L643 257.8L658.5 278.4L674.1 304.1L689.7 336.8L705.3 378.6L720.9 432.2L729.4 470"/>
<path d="M103.5 104.3L203.3 122.2L303.1 140.3L402.9 158.9L502.7 180.8L518.3 185.1L533.9 189.9L549.5 195.3L565 201.5L580.6 208.8L596.2 217.5L611.8 228.1L627.4 241.2L643 257.4L658.5 277.9L674.1 304L689.7 337.5L705.3 380.6L720.9 436.4L728.1 470"/>
<path d="M103.5 80.3L203.3 104.1L303.1 127.9L402.9 152.3L502.7 179.5L518.3 184.5L533.9 190L549.5 196L565 202.8L580.6 210.5L596.2 219.4L611.8 230L627.4 242.8L643 258.5L658.5 277.9L674.1 302.3L689.7 333.2L705.3 372.7L720.9 423.5L731.9 470"/>
<path d="M103.5 49.9L203.3 79.6L303.1 109.3L402.9 139.6L502.7 172.7L518.3 178.7L533.9 185.1L549.5 192L565 199.6L580.6 208.2L596.2 218.1L611.8 229.6L627.4 243.2L643 259.7L658.5 280L674.1 305.2L689.7 336.8L705.3 377L720.9 428.4L730.7 470"/>
<path d="M103.5 68.9L203.3 94.7L303.1 120.6L402.9 147.1L502.7 176.5L518.3 181.9L533.9 187.8L549.5 194.2L565 201.3L580.6 209.5L596.2 219L611.8 230.1L627.4 243.5L643 259.9L658.5 280.2L674.1 305.6L689.7 337.7L705.3 378.7L720.9 431.4L729.7 470"/>
<path d="M103.5 57.6L203.3 86.3L303.1 115L402.9 144.3L502.7 176.4L518.3 182.2L533.9 188.4L549.5 195.2L565 202.7L580.6 211.1L596.2 220.8L611.8 232.1L627.4 245.6L643 262L658.5 282.1L674.1 307.1L689.7 338.6L705.3 378.6L720.9 429.9L730.3 470"/>
<path d="M103.5 86.1L203.3 108.3L303.1 130.5L402.9 153.3L502.7 179.4L518.3 184.3L533.9 189.7L549.5 195.7L565 202.5L580.6 210.4L596.2 219.7L611.8 230.8L627.4 244.3L643 261L658.5 281.9L674.1 308.2L689.7 341.8L705.3 384.9L720.9 440.5L727.2 470"/>
<path d="M103.5 102.4L203.3 120.2L303.1 138.1L402.9 156.6L502.7 178.6L518.3 182.9L533.9 187.8L549.5 193.3L565 199.8L580.6 207.3L596.2 216.4L611.8 227.5L627.4 241.1L643 258.2L658.5 279.9L674.1 307.4L689.7 342.8L705.3 388.5L720.9 447.8L725.4 470"/>
<path d="M103.5 70.9L203.3 95.8L303.1 120.7L402.9 146.2L502.7 174.8L518.3 180.2L533.9 185.9L549.5 192.3L565 199.5L580.6 207.7L596.2 217.3L611.8 228.7L627.4 242.4L643 259.3L658.5 280.3L674.1 306.6L689.7 340L705.3 382.8L720.9 437.8L727.9 470"/>
<path d="M103.5 63.2L203.3 89.9L303.1 116.6L402.9 143.8L502.7 174.1L518.3 179.6L533.9 185.6L549.5 192.1L565 199.4L580.6 207.7L596.2 217.3L611.8 228.6L627.4 242.1L643 258.6L658.5 279L674.1 304.5L689.7 336.7L705.3 377.8L720.9 430.6L729.9 470"/>
<path d="M103.5 132.7L203.3 144.2L303.1 155.9L402.9 168.1L502.7 184.1L518.3 187.6L533.9 191.6L549.5 196.4L565 202L580.6 208.9L596.2 217.3L611.8 227.9L627.4 241.3L643 258.2L658.5 280L674.1 308.1L689.7 344.4L705.3 391.6L720.9 453.2L724.1 470"/>
<path d="M103.5 110.8L203.3 127.8L303.1 145L402.9 162.8L502.7 184L518.3 188.3L533.9 193L549.5 198.4L565 204.7L580.6 212.1L596.2 221L611.8 231.8L627.4 245.3L643 262.1L658.5 283.5L674.1 310.7L689.7 345.6L705.3 390.8L720.9 449.3L725.1 470"/>
<path d="M103.5 83L203.3 106L303.1 129.1L402.9 152.7L502.7 179.3L518.3 184.2L533.9 189.5L549.5 195.5L565 202.1L580.6 209.7L596.2 218.6L611.8 229.2L627.4 241.9L643 257.6L658.5 277L674.1 301.4L689.7 332.5L705.3 372.1L720.9 423.2L731.9 470"/>
<path d="M103.5 100.5L203.3 119.6L303.1 138.8L402.9 158.5L502.7 181.3L518.3 185.7L533.9 190.6L549.5 196L565 202.3L580.6 209.5L596.2 218.1L611.8 228.5L627.4 241.3L643 257.1L658.5 276.9L674.1 302.1L689.7 334.2L705.3 375.6L720.9 429.1L730.1 470"/>
<path d="M103.5 97.2L203.3 116.7L303.1 136.3L402.9 156.5L502.7 179.9L518.3 184.5L533.9 189.5L549.5 195.1L565 201.6L580.6 209.2L596.2 218.2L611.8 229.1L627.4 242.4L643 259L658.5 279.9L674.1 306.4L689.7 340.2L705.3 383.8L720.9 440.3L727.2 470"/>
<path d="M103.5 67.4L203.3 94L303.1 120.7L402.9 147.9L502.7 177.9L518.3 183.3L533.9 189.2L549.5 195.6L565 202.8L580.6 210.8L596.2 220.1L611.8 231.1L627.4 244.2L643 260.1L658.5 279.7L674.1 304.2L689.7 335.1L705.3 374.5L720.9 424.9L731.7 470"/>
<path d="M103.5 109.1L203.3 126.2L303.1 143.5L402.9 161.3L502.7 182.5L518.3 186.8L533.9 191.5L549.5 196.8L565 203L580.6 210.3L596.2 219.1L611.8 229.8L627.4 243L643 259.6L658.5 280.5L674.1 307.2L689.7 341.5L705.3 385.8L720.9 443.1L726.5 470"/>
<path d="M103.5 96.5L203.3 116.3L303.1 136.1L402.9 156.5L502.7 180L518.3 184.6L533.9 189.6L549.5 195.2L565 201.6L580.6 209L596.2 217.8L611.8 228.5L627.4 241.5L643 257.6L658.5 277.9L674.1 303.6L689.7 336.4L705.3 378.5L720.9 433.1L729 470"/>
<path d="M103.5 72.3L203.3 97.7L303.1 123.3L402.9 149.3L502.7 178.4L518.3 183.7L533.9 189.5L549.5 195.8L565 202.9L580.6 211L596.2 220.4L611.8 231.5L627.4 244.8L643 261.1L658.5 281.3L674.1 306.6L689.7 338.6L705.3 379.5L720.9 431.9L729.6 470"/>
<path d="M103.5 78.8L203.3 102L303.1 125.3L402.9 149.1L502.7 176.1L518.3 181.2L533.9 186.7L549.5 192.8L565 199.7L580.6 207.7L596.2 217L611.8 228.1L627.4 241.6L643 258.2L658.5 278.8L674.1 304.9L689.7 338L705.3 380.4L720.9 435L728.6 470"/>
<path d="M103.5 39.2L203.3 71.7L303.1 104.4L402.9 137.5L502.7 173.4L518.3 179.8L533.9 186.5L549.5 193.8L565 201.7L580.6 210.6L596.2 220.6L611.8 232.2L627.4 245.9L643 262.3L658.5 282.2L674.1 306.8L689.7 337.6L705.3 376.5L720.9 426L731.7 470"/>
<path d="M103.5 145.2L203.3 154.1L303.1 163.1L402.9 172.8L502.7 186.3L518.3 189.4L533.9 193.1L549.5 197.6L565 202.9L580.6 209.6L596.2 217.8L611.8 228.3L627.4 241.6L643 258.7L658.5 280.7L674.1 309.2L689.7 346.3L705.3 394.6L720.9 457.8L723.2 470"/>
<path d="M103.5 82.2L203.3 104.7L303.1 127.4L402.9 150.6L502.7 176.9L518.3 181.8L533.9 187.2L549.5 193.2L565 199.9L580.6 207.6L596.2 216.7L611.8 227.5L627.4 240.7L643 256.8L658.5 276.9L674.1 302.3L689.7 334.5L705.3 375.9L720.9 429.1L730.1 470"/>
<path d="M103.5 122.3L203.3 136.1L303.1 150.1L402.9 164.6L502.7 182.8L518.3 186.6L533.9 191L549.5 196L565 202L580.6 209.1L596.2 217.8L611.8 228.6L627.4 242.1L643 259.1L658.5 280.9L674.1 308.8L689.7 344.9L705.3 391.6L720.9 452.5L724.3 470"/>
<path d="M103.5 88.8L203.3 110.3L303.1 131.8L402.9 153.9L502.7 179.3L518.3 184.1L533.9 189.5L549.5 195.4L565 202.2L580.6 210L596.2 219.3L611.8 230.4L627.4 244L643 260.9L658.5 282L674.1 308.6L689.7 342.7L705.3 386.4L720.9 442.8L726.6 470"/>
<path d="M103.5 85.9L203.3 108.4L303.1 131L402.9 154.2L502.7 180.4L518.3 185.3L533.9 190.6L549.5 196.5L565 203.2L580.6 210.9L596.2 219.9L611.8 230.6L627.4 243.5L643 259.5L658.5 279.3L674.1 304.4L689.7 336.2L705.3 376.9L720.9 429.3L730.2 470"/>
<path d="M103.5 86.9L203.3 108.6L303.1 130.5L402.9 152.9L502.7 178.4L518.3 183.2L533.9 188.5L549.5 194.4L565 201L580.6 208.7L596.2 217.7L611.8 228.5L627.4 241.6L643 257.8L658.5 278L674.1 303.6L689.7 336.1L705.3 377.8L720.9 431.6L729.5 470"/>
<path d="M103.5 85.2L203.3 107.3L303.1 129.6L402.9 152.4L502.7 178.2L518.3 183L533.9 188.4L549.5 194.2L565 200.9L580.6 208.6L596.2 217.6L611.8 228.3L627.4 241.4L643 257.4L658.5 277.5L674.1 302.7L689.7 334.9L705.3 376.1L720.9 429.2L730.1 470"/>
<path d="M103.5 51.8L203.3 81.4L303.1 111.2L402.9 141.5L502.7 174.4L518.3 180.3L533.9 186.6L549.5 193.4L565 200.9L580.6 209.3L596.2 218.9L611.8 230L627.4 243.2L643 259.1L658.5 278.6L674.1 302.7L689.7 333L705.3 371.3L720.9 420.3L733.2 470"/>
<path d="M103.5 63.5L203.3 90.2L303.1 117.1L402.9 144.5L502.7 175L518.3 180.6L533.9 186.7L549.5 193.4L565 200.8L580.6 209.3L596.2 219.2L611.8 230.9L627.4 244.9L643 262L658.5 283.3L674.1 309.9L689.7 343.5L705.3 386.5L720.9 441.7L727 470"/>
<path d="M103.5 82.6L203.3 104.8L303.1 127L402.9 149.8L502.7 175.9L518.3 180.9L533.9 186.3L549.5 192.4L565 199.3L580.6 207.3L596.2 216.7L611.8 228L627.4 241.8L643 258.9L658.5 280.2L674.1 307.2L689.7 341.6L705.3 385.8L720.9 442.7L726.6 470"/>
<path d="M103.5 75.2L203.3 99.7L303.1 124.2L402.9 149.3L502.7 177.6L518.3 182.8L533.9 188.5L549.5 194.8L565 201.9L580.6 210L596.2 219.5L611.8 230.8L627.4 244.4L643 261L658.5 281.8L674.1 307.9L689.7 341L705.3 383.3L720.9 437.8L728 470"/>
<path d="M103.5 70.6L203.3 96L303.1 121.5L402.9 147.5L502.7 176.6L518.3 181.9L533.9 187.7L549.5 194.1L565 201.2L580.6 209.3L596.2 218.7L611.8 229.9L627.4 243.3L643 259.6L658.5 279.9L674.1 305.4L689.7 337.6L705.3 378.8L720.9 431.6L729.6 470"/>
<path d="M103.5 73.6L203.3 98.2L303.1 122.8L402.9 148L502.7 176.3L518.3 181.5L533.9 187.3L549.5 193.6L565 200.7L580.6 208.8L596.2 218.4L611.8 229.7L627.4 243.3L643 260.1L658.5 280.9L674.1 307.1L689.7 340.4L705.3 382.9L720.9 437.6L728 470"/>
<path d="M103.5 89.1L203.3 110.8L303.1 132.7L402.9 155L502.7 180.6L518.3 185.4L533.9 190.8L549.5 196.7L565 203.4L580.6 211.2L596.2 220.4L611.8 231.4L627.4 244.8L643 261.3L658.5 282.1L674.1 308.2L689.7 341.6L705.3 384.4L720.9 439.6L727.5 470"/>
<path d="M103.5 55.2L203.3 84.2L303.1 113.3L402.9 142.9L502.7 175.3L518.3 181.1L533.9 187.3L549.5 194.1L565 201.5L580.6 209.9L596.2 219.5L611.8 230.8L627.4 244.1L643 260.2L658.5 279.9L674.1 304.5L689.7 335.3L705.3 374.5L720.9 424.6L731.8 470"/>
<path d="M103.5 67.8L203.3 93.4L303.1 119.1L402.9 145.3L502.7 174.5L518.3 179.9L533.9 185.7L549.5 192.1L565 199.2L580.6 207.3L596.2 216.8L611.8 227.9L627.4 241.3L643 257.6L658.5 277.9L674.1 303.2L689.7 335.3L705.3 376.3L720.9 428.9L730.3 470"/>
<path d="M103.5 74.8L203.3 98.9L303.1 123.1L402.9 147.8L502.7 175.7L518.3 180.9L533.9 186.6L549.5 192.8L565 199.9L580.6 208L596.2 217.4L611.8 228.7L627.4 242.3L643 259L658.5 279.9L674.1 306.1L689.7 339.3L705.3 381.9L720.9 436.7L728.2 470"/>
<path d="M103.5 57.7L203.3 86.1L303.1 114.5L402.9 143.5L502.7 175.5L518.3 181.3L533.9 187.6L549.5 194.4L565 202L580.6 210.6L596.2 220.5L611.8 232.2L627.4 246.1L643 263L658.5 283.9L674.1 309.9L689.7 342.8L705.3 384.6L720.9 438.2L728 470"/>
<path d="M103.5 113.5L203.3 129L303.1 144.7L402.9 161L502.7 180.9L518.3 184.9L533.9 189.5L549.5 194.7L565 200.9L580.6 208.2L596.2 217L611.8 227.9L627.4 241.4L643 258.4L658.5 280.1L674.1 307.7L689.7 343.4L705.3 389.5L720.9 449.4L725 470"/>
<path d="M103.5 62.4L203.3 89.6L303.1 116.8L402.9 144.6L502.7 175.3L518.3 180.9L533.9 187L549.5 193.6L565 200.9L580.6 209.3L596.2 218.9L611.8 230.2L627.4 243.8L643 260.2L658.5 280.6L674.1 306L689.7 338.1L705.3 379L720.9 431.5L729.7 470"/>
<path d="M103.5 104.3L203.3 121.9L303.1 139.6L402.9 157.9L502.7 179.8L518.3 184.2L533.9 189.1L549.5 194.7L565 201.1L580.6 208.7L596.2 217.9L611.8 229.1L627.4 243L643 260.4L658.5 282.4L674.1 310.4L689.7 346.5L705.3 393L720.9 453.4L724.2 470"/>
<path d="M103.5 68.9L203.3 94.4L303.1 120L402.9 146.1L502.7 175.2L518.3 180.6L533.9 186.4L549.5 192.8L565 199.9L580.6 208L596.2 217.4L611.8 228.5L627.4 241.9L643 258.2L658.5 278.4L674.1 303.8L689.7 335.8L705.3 376.8L720.9 429.3L730.2 470"/>
<path d="M103.5 87.3L203.3 109.7L303.1 132.1L402.9 155.1L502.7 181.2L518.3 186.1L533.9 191.4L549.5 197.4L565 204.1L580.6 211.8L596.2 220.8L611.8 231.6L627.4 244.7L643 260.8L658.5 281L674.1 306.3L689.7 338.6L705.3 379.9L720.9 433.2L729.2 470"/>
<path d="M103.5 140L203.3 150.1L303.1 160.2L402.9 171L502.7 185.4L518.3 188.6L533.9 192.3L549.5 196.7L565 202L580.6 208.5L596.2 216.5L611.8 226.6L627.4 239.4L643 255.6L658.5 276.6L674.1 303.6L689.7 338.7L705.3 384.3L720.9 443.9L726.1 470"/>
<path d="M103.5 76.7L203.3 100.8L303.1 125L402.9 149.7L502.7 177.5L518.3 182.7L533.9 188.4L549.5 194.7L565 201.7L580.6 209.8L596.2 219.3L611.8 230.5L627.4 244.1L643 260.9L658.5 281.7L674.1 307.9L689.7 341.2L705.3 383.8L720.9 438.6L727.8 470"/>
<path d="M103.5 68.9L203.3 95.1L303.1 121.4L402.9 148.3L502.7 178.1L518.3 183.6L533.9 189.5L549.5 196L565 203.2L580.6 211.4L596.2 220.9L611.8 232.1L627.4 245.6L643 262L658.5 282.4L674.1 307.8L689.7 340L705.3 381L720.9 433.7L729.2 470"/>
<path d="M103.5 87.4L203.3 109.2L303.1 131.1L402.9 153.5L502.7 179.2L518.3 184.1L533.9 189.5L549.5 195.4L565 202.2L580.6 210.1L596.2 219.3L611.8 230.4L627.4 243.9L643 260.7L658.5 281.6L674.1 308L689.7 341.8L705.3 385.1L720.9 440.9L727.1 470"/>
<path d="M103.5 61.1L203.3 88.6L303.1 116.2L402.9 144.3L502.7 175.5L518.3 181.1L533.9 187.3L549.5 194L565 201.4L580.6 209.9L596.2 219.7L611.8 231.2L627.4 245L643 261.8L658.5 282.5L674.1 308.4L689.7 341.2L705.3 382.9L720.9 436.4L728.5 470"/>
<path d="M103.5 109.8L203.3 126.8L303.1 144L402.9 161.7L502.7 182.8L518.3 187L533.9 191.6L549.5 196.9L565 203.1L580.6 210.3L596.2 219L611.8 229.6L627.4 242.7L643 259.1L658.5 279.7L674.1 306.1L689.7 340L705.3 383.7L720.9 440.4L727.1 470"/>
<path d="M103.5 108.5L203.3 125L303.1 141.7L402.9 158.9L502.7 179.7L518.3 183.9L533.9 188.6L549.5 193.9L565 200.2L580.6 207.5L596.2 216.4L611.8 227.3L627.4 240.8L643 257.8L658.5 279.3L674.1 306.7L689.7 342L705.3 387.6L720.9 446.7L725.6 470"/>
<path d="M103.5 86L203.3 107.9L303.1 129.9L402.9 152.4L502.7 178L518.3 182.9L533.9 188.1L549.5 194L565 200.7L580.6 208.3L596.2 217.3L611.8 228.1L627.4 241.2L643 257.4L658.5 277.6L674.1 303L689.7 335.4L705.3 377L720.9 430.5L729.7 470"/>
<path d="M103.5 64.2L203.3 91.2L303.1 118.3L402.9 145.9L502.7 176.3L518.3 181.8L533.9 187.8L549.5 194.2L565 201.4L580.6 209.6L596.2 218.9L611.8 229.9L627.4 243L643 258.9L658.5 278.5L674.1 303L689.7 333.9L705.3 373.1L720.9 423.5L732.1 470"/>
<path d="M103.5 80.8L203.3 104.2L303.1 127.7L402.9 151.7L502.7 178.8L518.3 183.9L533.9 189.4L549.5 195.5L565 202.4L580.6 210.4L596.2 219.7L611.8 230.7L627.4 244.1L643 260.6L658.5 281.2L674.1 307L689.7 339.9L705.3 382L720.9 436.3L728.4 470"/>
<path d="M103.5 63L203.3 89.7L303.1 116.5L402.9 143.7L502.7 173.8L518.3 179.2L533.9 185.1L549.5 191.5L565 198.6L580.6 206.7L596.2 216L611.8 226.9L627.4 239.9L643 255.7L658.5 275.2L674.1 299.5L689.7 330.2L705.3 369.3L720.9 419.4L733.1 470"/>
<path d="M103.5 113.6L203.3 129.5L303.1 145.5L402.9 162.1L502.7 182.2L518.3 186.3L533.9 190.9L549.5 196.1L565 202.2L580.6 209.5L596.2 218.3L611.8 229L627.4 242.4L643 259.2L658.5 280.5L674.1 307.7L689.7 342.7L705.3 388L720.9 446.9L725.6 470"/>
<path d="M103.5 61.8L203.3 88.9L303.1 116.1L402.9 143.9L502.7 174.6L518.3 180.3L533.9 186.3L549.5 193L565 200.4L580.6 208.8L596.2 218.5L611.8 230L627.4 243.8L643 260.6L658.5 281.3L674.1 307.2L689.7 340L705.3 381.8L720.9 435.4L728.7 470"/>
<path d="M103.5 59.1L203.3 87.1L303.1 115.2L402.9 143.7L502.7 175.2L518.3 180.9L533.9 187L549.5 193.6L565 201L580.6 209.3L596.2 218.9L611.8 230.1L627.4 243.5L643 259.7L658.5 279.7L674.1 304.6L689.7 335.9L705.3 375.8L720.9 426.9L731.1 470"/>
<path d="M103.5 84.3L203.3 106.6L303.1 129L402.9 151.9L502.7 178L518.3 183L533.9 188.4L549.5 194.4L565 201.2L580.6 209L596.2 218.2L611.8 229.3L627.4 242.7L643 259.2L658.5 279.9L674.1 306L689.7 339.2L705.3 381.8L720.9 436.7L728.2 470"/>
<path d="M103.5 67.1L203.3 93L303.1 118.9L402.9 145.4L502.7 174.9L518.3 180.3L533.9 186.2L549.5 192.7L565 199.9L580.6 208.1L596.2 217.6L611.8 228.9L627.4 242.4L643 259L658.5 279.5L674.1 305.1L689.7 337.6L705.3 379.1L720.9 432.4L729.4 470"/>
<path d="M103.5 96.2L203.3 115.8L303.1 135.5L402.9 155.9L502.7 179.6L518.3 184.3L533.9 189.4L549.5 195.2L565 201.9L580.6 209.7L596.2 218.9L611.8 230.2L627.4 244L643 261.2L658.5 282.9L674.1 310.4L689.7 345.7L705.3 391.1L720.9 449.9L725 470"/>
<path d="M103.5 81.1L203.3 104.2L303.1 127.5L402.9 151.3L502.7 178.2L518.3 183.3L533.9 188.8L549.5 194.9L565 201.8L580.6 209.8L596.2 219.1L611.8 230.2L627.4 243.7L643 260.3L658.5 281L674.1 307L689.7 340.2L705.3 382.7L720.9 437.4L728 470"/>
<path d="M103.5 86.7L203.3 108L303.1 129.4L402.9 151.4L502.7 176.7L518.3 181.6L533.9 186.9L549.5 192.8L565 199.6L580.6 207.5L596.2 216.8L611.8 228L627.4 241.7L643 258.6L658.5 279.8L674.1 306.7L689.7 341L705.3 385L720.9 442L726.8 470"/>
<path d="M103.5 72.1L203.3 97.4L303.1 122.9L402.9 148.8L502.7 177.7L518.3 183L533.9 188.7L549.5 195L565 202.1L580.6 210L596.2 219.3L611.8 230.3L627.4 243.4L643 259.5L658.5 279.4L674.1 304.2L689.7 335.7L705.3 375.9L720.9 427.5L730.8 470"/>
<path d="M103.5 75L203.3 99.4L303.1 123.9L402.9 148.9L502.7 177.1L518.3 182.3L533.9 188L549.5 194.3L565 201.4L580.6 209.5L596.2 219L611.8 230.3L627.4 243.9L643 260.6L658.5 281.4L674.1 307.6L689.7 340.8L705.3 383.3L720.9 437.9L727.9 470"/>
<path d="M103.5 81.1L203.3 104.2L303.1 127.4L402.9 151.1L502.7 177.9L518.3 182.9L533.9 188.4L549.5 194.4L565 201.3L580.6 209.1L596.2 218.3L611.8 229.3L627.4 242.6L643 258.9L658.5 279.3L674.1 304.9L689.7 337.5L705.3 379.2L720.9 432.9L729.2 470"/>
<path d="M103.5 27.4L203.3 62.7L303.1 98L402.9 133.8L502.7 172.2L518.3 178.9L533.9 186L549.5 193.6L565 201.9L580.6 211L596.2 221.3L611.8 233.1L627.4 246.9L643 263.2L658.5 283.1L674.1 307.4L689.7 337.7L705.3 375.7L720.9 424.1L732.4 470"/>
<path d="M103.5 95.3L203.3 115.4L303.1 135.6L402.9 156.4L502.7 180.4L518.3 185L533.9 190.1L549.5 195.8L565 202.2L580.6 209.8L596.2 218.7L611.8 229.5L627.4 242.7L643 259L658.5 279.5L674.1 305.5L689.7 338.6L705.3 381.3L720.9 436.4L728.2 470"/>
<path d="M103.5 76.7L203.3 100.8L303.1 125L402.9 149.8L502.7 177.6L518.3 182.8L533.9 188.5L549.5 194.7L565 201.8L580.6 209.8L596.2 219.2L611.8 230.4L627.4 244L643 260.6L658.5 281.3L674.1 307.3L689.7 340.3L705.3 382.5L720.9 436.9L728.2 470"/>
<path d="M103.5 94.3L203.3 114.2L303.1 134.2L402.9 154.8L502.7 178.7L518.3 183.3L533.9 188.3L549.5 194L565 200.5L580.6 208.1L596.2 217.1L611.8 227.9L627.4 241.2L643 257.6L658.5 278.3L674.1 304.5L689.7 338L705.3 381.1L720.9 436.8L728 470"/>
<path d="M103.5 85.9L203.3 107.8L303.1 129.7L402.9 152.3L502.7 178L518.3 182.8L533.9 188.2L549.5 194.1L565 200.8L580.6 208.6L596.2 217.8L611.8 228.8L627.4 242.1L643 258.6L658.5 279.2L674.1 305.3L689.7 338.5L705.3 381L720.9 436L728.3 470"/>
<path d="M103.5 82.3L203.3 105.2L303.1 128.2L402.9 151.8L502.7 178.6L518.3 183.6L533.9 189.1L549.5 195.2L565 202.1L580.6 210.1L596.2 219.4L611.8 230.6L627.4 244.1L643 260.8L658.5 281.6L674.1 307.9L689.7 341.3L705.3 384.2L720.9 439.4L727.5 470"/>
<path d="M103.5 72.2L203.3 96.8L303.1 121.4L402.9 146.6L502.7 174.9L518.3 180.2L533.9 185.9L549.5 192.1L565 199.2L580.6 207.3L596.2 216.7L611.8 227.8L627.4 241.3L643 257.8L658.5 278.3L674.1 304.1L689.7 336.8L705.3 378.5L720.9 432.3L729.3 470"/>
<path d="M103.5 82.8L203.3 104.8L303.1 126.9L402.9 149.6L502.7 175.4L518.3 180.3L533.9 185.7L549.5 191.7L565 198.4L580.6 206.3L596.2 215.5L611.8 226.5L627.4 239.9L643 256.5L658.5 277.3L674.1 303.5L689.7 336.8L705.3 379.7L720.9 434.9L728.5 470"/>
<path d="M103.5 87.8L203.3 109.8L303.1 131.9L402.9 154.5L502.7 180.2L518.3 185.1L533.9 190.5L549.5 196.4L565 203.2L580.6 211L596.2 220.1L611.8 231.1L627.4 244.5L643 261L658.5 281.6L674.1 307.6L689.7 340.8L705.3 383.3L720.9 438.2L727.8 470"/>
<path d="M103.5 95.3L203.3 115.4L303.1 135.6L402.9 156.4L502.7 180.3L518.3 184.9L533.9 189.9L549.5 195.6L565 202.1L580.6 209.6L596.2 218.5L611.8 229.3L627.4 242.4L643 258.7L658.5 279.1L674.1 305L689.7 338.1L705.3 380.6L720.9 435.5L728.4 470"/>
<path d="M103.5 59L203.3 87.2L303.1 115.5L402.9 144.4L502.7 176.1L518.3 181.9L533.9 188.1L549.5 194.8L565 202.3L580.6 210.7L596.2 220.5L611.8 231.9L627.4 245.5L643 262L658.5 282.3L674.1 307.6L689.7 339.5L705.3 380.1L720.9 432.2L729.7 470"/>
<path d="M103.5 95.7L203.3 115.7L303.1 135.9L402.9 156.5L502.7 180.1L518.3 184.6L533.9 189.5L549.5 195L565 201.2L580.6 208.4L596.2 216.9L611.8 227L627.4 239.4L643 254.7L658.5 273.8L674.1 298L689.7 328.8L705.3 368.4L720.9 419.4L732.8 470"/>
<path d="M103.5 64.1L203.3 90.5L303.1 117.1L402.9 144.2L502.7 174.6L518.3 180.3L533.9 186.4L549.5 193.2L565 200.8L580.6 209.5L596.2 219.6L611.8 231.7L627.4 246.2L643 264L658.5 286.2L674.1 314L689.7 349.3L705.3 394.4L720.9 452.5L724.5 470"/>
<path d="M103.5 91.9L203.3 112.6L303.1 133.3L402.9 154.6L502.7 179L518.3 183.7L533.9 188.8L549.5 194.5L565 201L580.6 208.6L596.2 217.5L611.8 228.2L627.4 241.3L643 257.5L658.5 277.7L674.1 303.4L689.7 336.1L705.3 378.2L720.9 432.4L729.2 470"/>
<path d="M103.5 103.3L203.3 122L303.1 140.9L402.9 160.2L502.7 182.7L518.3 187.1L533.9 191.9L549.5 197.3L565 203.5L580.6 210.8L596.2 219.4L611.8 229.8L627.4 242.5L643 258.4L658.5 278.4L674.1 303.7L689.7 336L705.3 377.7L720.9 431.6L729.4 470"/>
<path d="M103.5 57.5L203.3 85.5L303.1 113.7L402.9 142.3L502.7 173.7L518.3 179.4L533.9 185.4L549.5 192L565 199.3L580.6 207.5L596.2 216.8L611.8 227.8L627.4 240.8L643 256.6L658.5 276L674.1 300L689.7 330.3L705.3 368.8L720.9 418L733.7 470"/>
<path d="M103.5 61.3L203.3 88.8L303.1 116.3L402.9 144.4L502.7 175.4L518.3 181L533.9 187L549.5 193.6L565 201L580.6 209.3L596.2 218.9L611.8 230.1L627.4 243.5L643 259.8L658.5 279.9L674.1 305L689.7 336.7L705.3 376.9L720.9 428.5L730.6 470"/>
<path d="M103.5 76.4L203.3 100.6L303.1 125L402.9 149.9L502.7 177.8L518.3 183L533.9 188.6L549.5 194.8L565 201.7L580.6 209.6L596.2 218.9L611.8 229.8L627.4 243L643 259.2L658.5 279.3L674.1 304.6L689.7 336.6L705.3 377.5L720.9 430.1L730 470"/>
<path d="M103.5 81.7L203.3 104.6L303.1 127.7L402.9 151.2L502.7 177.9L518.3 183L533.9 188.4L549.5 194.5L565 201.4L580.6 209.3L596.2 218.6L611.8 229.6L627.4 243L643 259.6L658.5 280.2L674.1 306.2L689.7 339.2L705.3 381.6L720.9 436.2L728.3 470"/>
<path d="M103.5 104.2L203.3 122.1L303.1 140.1L402.9 158.7L502.7 180.6L518.3 185L533.9 189.8L549.5 195.3L565 201.6L580.6 209L596.2 217.8L611.8 228.6L627.4 241.9L643 258.6L658.5 279.5L674.1 306.3L689.7 340.5L705.3 384.7L720.9 441.9L726.7 470"/>
<path d="M103.5 50L203.3 80.2L303.1 110.5L402.9 141.3L502.7 174.9L518.3 180.9L533.9 187.2L549.5 194.2L565 201.7L580.6 210.2L596.2 219.9L611.8 231.2L627.4 244.5L643 260.6L658.5 280.2L674.1 304.5L689.7 335L705.3 373.6L720.9 422.9L732.5 470"/>
<path d="M103.5 95.1L203.3 115.1L303.1 135.3L402.9 156L502.7 180.1L518.3 184.8L533.9 190L549.5 195.8L565 202.5L580.6 210.3L596.2 219.6L611.8 230.9L627.4 244.7L643 261.9L658.5 283.5L674.1 310.9L689.7 346.1L705.3 391.3L720.9 449.8L725 470"/>
<path d="M103.5 64.7L203.3 91L303.1 117.4L402.9 144.3L502.7 174.3L518.3 179.8L533.9 185.8L549.5 192.3L565 199.7L580.6 208L596.2 217.7L611.8 229.2L627.4 243L643 259.9L658.5 280.7L674.1 306.9L689.7 340L705.3 382.3L720.9 436.7L728.3 470"/>
<path d="M103.5 93.6L203.3 113.8L303.1 134.1L402.9 155L502.7 179.1L518.3 183.7L533.9 188.9L549.5 194.6L565 201.2L580.6 208.9L596.2 217.9L611.8 228.9L627.4 242.3L643 258.9L658.5 279.8L674.1 306.3L689.7 340.1L705.3 383.7L720.9 439.9L727.3 470"/>
<path d="M103.5 78.2L203.3 102L303.1 125.8L402.9 150.2L502.7 177.6L518.3 182.7L533.9 188.3L549.5 194.4L565 201.3L580.6 209.1L596.2 218.3L611.8 229.2L627.4 242.4L643 258.6L658.5 278.6L674.1 303.9L689.7 336L705.3 376.9L720.9 429.7L730.1 470"/>
<path d="M103.5 62.2L203.3 89.3L303.1 116.5L402.9 144.2L502.7 174.9L518.3 180.4L533.9 186.5L549.5 193L565 200.3L580.6 208.6L596.2 218.1L611.8 229.3L627.4 242.8L643 259.1L658.5 279.2L674.1 304.3L689.7 336L705.3 376.4L720.9 428.2L730.6 470"/>
<path d="M103.5 64.4L203.3 90.5L303.1 116.7L402.9 143.4L502.7 173.1L518.3 178.5L533.9 184.3L549.5 190.7L565 197.9L580.6 206L596.2 215.4L611.8 226.5L627.4 239.7L643 255.9L658.5 275.9L674.1 300.9L689.7 332.5L705.3 372.7L720.9 424.4L731.5 470"/>
<path d="M103.5 86.6L203.3 109.2L303.1 131.9L402.9 155.2L502.7 181.5L518.3 186.5L533.9 191.9L549.5 197.9L565 204.6L580.6 212.4L596.2 221.5L611.8 232.4L627.4 245.6L643 261.9L658.5 282.1L674.1 307.7L689.7 340.2L705.3 381.8L720.9 435.5L728.6 470"/>
<path d="M103.5 68.5L203.3 94.6L303.1 120.8L402.9 147.4L502.7 176.9L518.3 182.3L533.9 188.1L549.5 194.4L565 201.5L580.6 209.5L596.2 218.7L611.8 229.6L627.4 242.6L643 258.4L658.5 278L674.1 302.4L689.7 333.3L705.3 372.6L720.9 423.1L732.1 470"/>
<path d="M103.5 80.2L203.3 103.7L303.1 127.2L402.9 151.3L502.7 178.4L518.3 183.5L533.9 189L549.5 195.1L565 202L580.6 209.9L596.2 219.1L611.8 230.1L627.4 243.4L643 259.7L658.5 280L674.1 305.6L689.7 338.1L705.3 379.7L720.9 433.3L729.1 470"/>
<path d="M103.5 50.3L203.3 79.8L303.1 109.4L402.9 139.6L502.7 172.6L518.3 178.5L533.9 184.8L549.5 191.7L565 199.4L580.6 207.9L596.2 217.7L611.8 229.2L627.4 242.8L643 259.3L658.5 279.5L674.1 304.6L689.7 336.2L705.3 376.2L720.9 427.5L730.9 470"/>
<path d="M103.5 87.2L203.3 108.7L303.1 130.2L402.9 152.3L502.7 177.6L518.3 182.4L533.9 187.6L549.5 193.5L565 200.1L580.6 207.8L596.2 216.8L611.8 227.7L627.4 240.9L643 257.2L658.5 277.6L674.1 303.4L689.7 336.2L705.3 378.4L720.9 432.8L729.1 470"/>
<path d="M103.5 103.2L203.3 121.6L303.1 140.2L402.9 159.3L502.7 181.5L518.3 185.9L533.9 190.7L549.5 196.1L565 202.3L580.6 209.6L596.2 218.2L611.8 228.7L627.4 241.6L643 257.6L658.5 277.8L674.1 303.4L689.7 336.2L705.3 378.4L720.9 433L729 470"/>
<path d="M103.5 89.1L203.3 110.4L303.1 131.9L402.9 153.8L502.7 178.9L518.3 183.7L533.9 188.9L549.5 194.7L565 201.4L580.6 209L596.2 218L611.8 228.9L627.4 242.1L643 258.4L658.5 278.8L674.1 304.5L689.7 337.4L705.3 379.6L720.9 434L728.8 470"/>
<path d="M103.5 49.8L203.3 80.2L303.1 110.6L402.9 141.5L502.7 175.3L518.3 181.4L533.9 187.8L549.5 194.9L565 202.6L580.6 211.3L596.2 221.3L611.8 232.9L627.4 246.7L643 263.3L658.5 283.7L674.1 309L689.7 340.8L705.3 381.2L720.9 432.8L729.6 470"/>
<path d="M103.5 76.4L203.3 100L303.1 123.8L402.9 148.2L502.7 175.7L518.3 180.9L533.9 186.6L549.5 192.9L565 200L580.6 208.2L596.2 217.7L611.8 229.2L627.4 243.1L643 260.2L658.5 281.5L674.1 308.4L689.7 342.6L705.3 386.5L720.9 443L726.6 470"/>
<path d="M103.5 78.4L203.3 101.8L303.1 125.3L402.9 149.2L502.7 176.1L518.3 181.1L533.9 186.6L549.5 192.5L565 199.3L580.6 207L596.2 215.9L611.8 226.5L627.4 239.4L643 255.1L658.5 274.7L674.1 299.2L689.7 330.4L705.3 370.2L720.9 421.5L732.3 470"/>
<path d="M103.5 93L203.3 113.5L303.1 134L402.9 155L502.7 179.3L518.3 183.9L533.9 189L549.5 194.7L565 201.2L580.6 208.8L596.2 217.7L611.8 228.5L627.4 241.6L643 257.8L658.5 278.2L674.1 304L689.7 337L705.3 379.3L720.9 434L728.8 470"/>
<path d="M103.5 67.7L203.3 93.8L303.1 120.1L402.9 146.8L502.7 176.6L518.3 182.1L533.9 188L549.5 194.5L565 201.8L580.6 210L596.2 219.6L611.8 230.9L627.4 244.5L643 261.2L658.5 281.7L674.1 307.5L689.7 340.1L705.3 381.7L720.9 435.2L728.7 470"/>
<path d="M103.5 77.2L203.3 101.2L303.1 125.3L402.9 149.9L502.7 177.8L518.3 183L533.9 188.7L549.5 195L565 202.1L580.6 210.3L596.2 219.9L611.8 231.3L627.4 245.1L643 262.1L658.5 283.3L674.1 310L689.7 343.9L705.3 387.3L720.9 443.3L726.6 470"/>
<path d="M103.5 85.6L203.3 108.3L303.1 131L402.9 154.3L502.7 180.7L518.3 185.6L533.9 191L549.5 197L565 203.8L580.6 211.6L596.2 220.7L611.8 231.6L627.4 244.8L643 261L658.5 281.3L674.1 306.8L689.7 339.3L705.3 380.9L720.9 434.6L728.8 470"/>
<path d="M103.5 71L203.3 96.4L303.1 121.9L402.9 148L502.7 177.1L518.3 182.4L533.9 188.2L549.5 194.6L565 201.7L580.6 209.8L596.2 219.2L611.8 230.4L627.4 243.8L643 260.1L658.5 280.4L674.1 305.8L689.7 338L705.3 379.1L720.9 431.9L729.6 470"/>
<path d="M103.5 77.4L203.3 101.3L303.1 125.3L402.9 149.8L502.7 177.3L518.3 182.5L533.9 188.1L549.5 194.2L565 201.2L580.6 209.1L596.2 218.4L611.8 229.5L627.4 242.8L643 259.2L658.5 279.6L674.1 305.2L689.7 337.8L705.3 379.4L720.9 433L729.2 470"/>
<path d="M103.5 71.6L203.3 96.7L303.1 122L402.9 147.8L502.7 176.5L518.3 181.7L533.9 187.4L549.5 193.7L565 200.7L580.6 208.6L596.2 217.8L611.8 228.7L627.4 241.7L643 257.7L658.5 277.4L674.1 302.1L689.7 333.4L705.3 373.3L720.9 424.5L731.6 470"/>
<path d="M103.5 77.9L203.3 101.5L303.1 125.2L402.9 149.3L502.7 176.5L518.3 181.6L533.9 187.1L549.5 193.2L565 200.1L580.6 207.9L596.2 217.1L611.8 228L627.4 241.2L643 257.4L658.5 277.5L674.1 302.9L689.7 335L705.3 376.1L720.9 429.1L730.2 470"/>
<path d="M103.5 84.1L203.3 106.6L303.1 129.2L402.9 152.4L502.7 178.5L518.3 183.4L533.9 188.8L549.5 194.7L565 201.4L580.6 209.1L596.2 218.1L611.8 228.9L627.4 241.9L643 258L658.5 278L674.1 303.2L689.7 335.3L705.3 376.3L720.9 429.2L730.1 470"/>
<path d="M103.5 81L203.3 103.5L303.1 126L402.9 149.1L502.7 175.5L518.3 180.6L533.9 186.1L549.5 192.2L565 199.3L580.6 207.4L596.2 216.9L611.8 228.4L627.4 242.4L643 259.7L658.5 281.4L674.1 308.8L689.7 343.7L705.3 388.6L720.9 446.4L725.8 470"/>
<path d="M103.5 62.2L203.3 89.6L303.1 117.1L402.9 145.1L502.7 176L518.3 181.7L533.9 187.7L549.5 194.4L565 201.7L580.6 210.1L596.2 219.7L611.8 231L627.4 244.5L643 261L658.5 281.3L674.1 306.6L689.7 338.6L705.3 379.4L720.9 431.6L729.8 470"/>
<path d="M103.5 83.7L203.3 105.9L303.1 128.1L402.9 150.9L502.7 177L518.3 181.9L533.9 187.4L549.5 193.5L565 200.4L580.6 208.4L596.2 217.8L611.8 229.2L627.4 243L643 260.1L658.5 281.5L674.1 308.5L689.7 343L705.3 387.3L720.9 444.5L726.2 470"/>
<path d="M103.5 133.7L203.3 145.7L303.1 157.8L402.9 170.6L502.7 187L518.3 190.6L533.9 194.7L549.5 199.5L565 205.3L580.6 212.3L596.2 220.9L611.8 231.6L627.4 245.1L643 262.3L658.5 284.4L674.1 312.7L689.7 349.5L705.3 397.2L720.9 459.4L722.9 470"/>
<path d="M103.5 78.6L203.3 102.7L303.1 127L402.9 151.7L502.7 179.6L518.3 184.8L533.9 190.5L549.5 196.7L565 203.7L580.6 211.8L596.2 221.1L611.8 232.3L627.4 245.8L643 262.4L658.5 283L674.1 308.9L689.7 341.8L705.3 383.9L720.9 438L728 470"/>
<path d="M103.5 99.6L203.3 118L303.1 136.6L402.9 155.7L502.7 178.3L518.3 182.8L533.9 187.8L549.5 193.5L565 200L580.6 207.7L596.2 217L611.8 228.2L627.4 242.1L643 259.4L658.5 281.4L674.1 309.3L689.7 345.1L705.3 391.3L720.9 451.2L724.6 470"/>
<path d="M103.5 112.7L203.3 129L303.1 145.4L402.9 162.4L502.7 182.7L518.3 186.7L533.9 191.3L549.5 196.5L565 202.6L580.6 209.7L596.2 218.3L611.8 228.8L627.4 241.9L643 258.2L658.5 278.9L674.1 305.3L689.7 339.3L705.3 383.2L720.9 440.1L727.2 470"/>
<path d="M103.5 84.6L203.3 106.6L303.1 128.8L402.9 151.4L502.7 177.3L518.3 182.3L533.9 187.6L549.5 193.6L565 200.4L580.6 208.3L596.2 217.5L611.8 228.6L627.4 242.1L643 258.8L658.5 279.6L674.1 306L689.7 339.5L705.3 382.6L720.9 438.1L727.8 470"/>
<path d="M103.5 53.9L203.3 83.3L303.1 112.7L402.9 142.6L502.7 175.1L518.3 180.9L533.9 187.1L549.5 193.8L565 201.2L580.6 209.5L596.2 218.9L611.8 229.9L627.4 242.9L643 258.5L658.5 277.6L674.1 301.3L689.7 331L705.3 368.7L720.9 416.7L734.3 470"/>
<path d="M103.5 83.8L203.3 106.4L303.1 129.1L402.9 152.4L502.7 179L518.3 184.1L533.9 189.6L549.5 195.7L565 202.7L580.6 210.7L596.2 220.2L611.8 231.6L627.4 245.4L643 262.5L658.5 283.8L674.1 310.8L689.7 345.2L705.3 389.3L720.9 446.1L725.9 470"/>
<path d="M103.5 69.4L203.3 94.7L303.1 120.1L402.9 146.1L502.7 175L518.3 180.4L533.9 186.1L549.5 192.5L565 199.6L580.6 207.7L596.2 217.1L611.8 228.2L627.4 241.6L643 258L658.5 278.2L674.1 303.6L689.7 335.8L705.3 376.9L720.9 429.7L730.1 470"/>
<path d="M103.5 98.6L203.3 118.3L303.1 138L402.9 158.3L502.7 181.7L518.3 186.3L533.9 191.2L549.5 196.8L565 203.2L580.6 210.7L596.2 219.5L611.8 230.2L627.4 243.2L643 259.5L658.5 279.8L674.1 305.6L689.7 338.6L705.3 381L720.9 435.8L728.4 470"/>
<path d="M103.5 61.6L203.3 89L303.1 116.4L402.9 144.3L502.7 175L518.3 180.6L533.9 186.6L549.5 193.1L565 200.3L580.6 208.5L596.2 217.9L611.8 228.9L627.4 242.1L643 258.1L658.5 277.7L674.1 302.2L689.7 333.1L705.3 372.4L720.9 422.8L732.2 470"/>
<path d="M103.5 59.8L203.3 87.8L303.1 115.8L402.9 144.3L502.7 175.7L518.3 181.4L533.9 187.5L549.5 194.2L565 201.6L580.6 209.9L596.2 219.5L611.8 230.8L627.4 244.3L643 260.6L658.5 280.7L674.1 305.8L689.7 337.4L705.3 377.6L720.9 429.1L730.5 470"/>
</g>
<path d="M103.5 78.3L136.7 86.2L170 94.1L203.3 102L236.5 109.9L269.8 117.8L303.1 125.7L336.3 133.7L369.6 141.8L402.9 150.1L436.2 158.6L469.4 167.6L502.7 177.5L506.8 178.8L511 180.1L515.1 181.5L519.3 182.9L523.4 184.3L527.6 185.8L531.7 187.3L535.8 188.9L540 190.5L544.1 192.1L548.3 193.8L552.4 195.5L556.6 197.3L560.7 199.2L564.8 201.1L569 203.1L573.1 205.2L577.3 207.3L581.4 209.6L585.5 211.9L589.7 214.4L593.8 216.9L598 219.6L602.1 222.4L606.3 225.3L610.4 228.4L614.5 231.6L618.7 235.1L622.8 238.6L627 242.4L631.1 246.4L635.3 250.7L639.4 255.2L643.5 259.9L647.7 264.9L651.8 270.3L656 275.9L660.1 282L664.3 288.4L668.4 295.2L672.5 302.4L676.7 310.1L680.8 318.4L685 327.1L689.1 336.5L693.3 346.5L697.4 357.2L701.5 368.6L705.7 380.8L709.8 393.9L714 407.9L718.1 422.8L722.2 438.8L726.4 455.9L729.6 470" stroke="#000" stroke-width="7" stroke-linecap="round"/>
<path d="M110 79.8L142.7 87.6L175.4 95.3L208.2 103.1L240.9 110.9L273.6 118.7L306.4 126.5L339.1 134.4L371.8 142.4L404.5 150.5L437.2 158.9L470 167.7L502.7 177.5L506.8 178.8L511 180.1L515.1 181.5L519.3 182.9L523.4 184.3L527.6 185.8L531.7 187.3L535.8 188.9L540 190.5L544.1 192.1L548.3 193.8L552.4 195.5L556.6 197.3L560.7 199.2L564.8 201.1L569 203.1L573.1 205.2L577.3 207.3L581.4 209.6L585.5 211.9L589.7 214.4L593.8 216.9L598 219.6L602.1 222.4L606.3 225.3L610.4 228.4L614.5 231.6L618.7 235.1L622.8 238.6L627 242.4L631.1 246.4L635.3 250.7L639.4 255.2L643.5 259.9L647.7 264.9L651.8 270.3L656 275.9L660.1 282L664.3 288.4L668.4 295.2L672.5 302.4L676.7 310.1L680.8 318.4L685 327.1L689.1 336.5L693.3 346.5L697.4 357.2L701.5 368.6L705.7 380.8L709.8 393.9L714 407.9L718.1 422.8L722.2 438.8L726.4 455.9L729.6 470" stroke="#9898ff" stroke-width="2.8" stroke-linecap="round" stroke-dasharray="7.9 12.75" stroke-dashoffset="-0.4"/>
<path d="M175.4 -5.9L202.7 8.5L230 22.9L257.3 37.3L284.5 51.7L311.8 66.1L339.1 80.5L366.3 95L393.6 109.5L420.9 124.1L448.2 138.9L475.4 153.8L502.7 169.1L506.8 171.5L511 173.9L515.1 176.3L519.3 178.7L523.4 181.1L527.6 183.5L531.7 186L535.8 188.5L540 191L544.1 193.5L548.3 196.1L552.4 198.7L556.6 201.3L560.7 204L564.8 206.6L569 209.4L573.1 212.1L577.3 214.9L581.4 217.8L585.5 220.7L589.7 223.7L593.8 226.7L598 229.8L602.1 232.9L606.3 236.2L610.4 239.5L614.5 242.9L618.7 246.4L622.8 249.9L627 253.6L631.1 257.4L635.3 261.4L639.4 265.4L643.5 269.6L647.7 274L651.8 278.5L656 283.2L660.1 288L664.3 293.1L668.4 298.4L672.5 303.9L676.7 309.7L680.8 315.8L685 322.1L689.1 328.8L693.3 335.8L697.4 343.2L701.5 350.9L705.7 359.1L709.8 367.8L714 376.9L718.1 386.5L722.2 396.8L726.4 407.6L730.5 419.1L734.7 431.2L737.8 441" stroke="#a020f0" stroke-width="2.2" stroke-linecap="round" stroke-dasharray="0.01 8.1 6.5 8.2" stroke-dashoffset="-12.3"/>
</g>
<g clip-path="url(#c2)">
<path d="M110 560.5L110 560.5L116.5 560.5L116.5 560.5L123.1 560.5L123.1 560.5L129.6 560.5L129.6 560.5L136.2 560.5L136.2 560.5L142.7 560.5L142.7 560.5L149.3 560.5L149.3 560.5L155.8 560.5L155.8 560.5L162.4 560.5L162.4 560.5L168.9 560.5L168.9 560.5L175.4 560.5L175.4 560.5L182 560.5L182 560.5L188.5 560.5L188.5 560.5L195.1 560.5L195.1 560.5L201.6 560.5L201.6 560.5L208.2 560.5L208.2 560.5L214.7 560.5L214.7 560.4L221.3 560.4L221.3 560.4L227.8 560.4L227.8 560.4L234.4 560.4L234.4 560.4L240.9 560.4L240.9 560.4L247.4 560.4L247.4 560.4L254 560.4L254 560.4L260.5 560.4L260.5 560.4L267.1 560.4L267.1 560.3L273.6 560.3L273.6 560.3L280.2 560.3L280.2 560.3L286.7 560.3L286.7 560.2L293.3 560.2L293.3 560.2L299.8 560.2L299.8 560.2L306.3 560.2L306.3 560.1L312.9 560.1L312.9 560.1L319.4 560.1L319.4 560L326 560L326 559.9L332.5 559.9L332.5 559.8L339.1 559.8L339.1 559.7L345.6 559.7L345.6 559.6L352.2 559.6L352.2 559.5L358.7 559.5L358.7 559.4L365.3 559.4L365.3 559.2L371.8 559.2L371.8 559L378.3 559L378.3 558.8L384.9 558.8L384.9 558.6L391.4 558.6L391.4 558.3L398 558.3L398 558L404.5 558L404.5 557.6L411.1 557.6L411.1 557.2L417.6 557.2L417.6 556.8L424.2 556.8L424.2 556.2L430.7 556.2L430.7 555.7L437.2 555.7L437.2 554.9L443.8 554.9L443.8 554.3L450.3 554.3L450.3 553.3L456.9 553.3L456.9 552.5L463.4 552.5L463.4 551.4L470 551.4L470 550.3L476.5 550.3L476.5 548.7L483.1 548.7L483.1 547.3L489.6 547.3L489.6 545.4L496.2 545.4L496.2 543.9L502.7 543.9L502.7 541.9L509.2 541.9L509.2 539.7L515.8 539.7L515.8 537.6L522.3 537.6L522.3 534.9L528.9 534.9L528.9 531.7L535.4 531.7L535.4 529.2L542 529.2L542 525.9L548.5 525.9L548.5 522.6L555.1 522.6L555.1 518.7L561.6 518.7L561.6 515.5L568.1 515.5L568.1 511.6L574.7 511.6L574.7 507.5L581.2 507.5L581.2 503.7L587.8 503.7L587.8 500.4L594.3 500.4L594.3 495.6L600.9 495.6L600.9 493.6L607.4 493.6L607.4 490.5L614 490.5L614 487.9L620.5 487.9L620.5 484L627.1 484L627.1 483.6L633.6 483.6L633.6 483.3L640.1 483.3L640.1 483.6L646.7 483.6L646.7 483.4L653.2 483.4L653.2 486.5L659.8 486.5L659.8 489.6L666.3 489.6L666.3 492L672.9 492L672.9 497.9L679.4 497.9L679.4 502.6L686 502.6L686 508.1L692.5 508.1L692.5 514.3L699 514.3L699 520.2L705.6 520.2L705.6 525.6L712.1 525.6L712.1 531.7L718.7 531.7L718.7 536.8L725.2 536.8L725.2 541.2L731.8 541.2L731.8 544.6L738.3 544.6L738.3 547.8L744.9 547.8L744.9 550.3L751.4 550.3L751.4 552.4L758 552.4L758 554L764.5 554L764.5 555.4L771 555.4L771 556.4L777.6 556.4L777.6 557.3L784.1 557.3L784.1 558L790.7 558L790.7 558.5L797.2 558.5L797.2 558.9L803.8 558.9L803.8 559.3L810.3 559.3L810.3 559.6L816.9 559.6L816.9 559.8L823.4 559.8L823.4 559.9L829.9 559.9L829.9 560.1L836.5 560.1L836.5 560.5Z" fill="#bebebe"/>
<path d="M110 560.5L115.2 560.5L120.4 560.5L125.5 560.5L130.7 560.5L135.9 560.5L141.1 560.5L146.3 560.5L151.4 560.5L156.6 560.5L161.8 560.5L167 560.5L172.2 560.5L177.3 560.5L182.5 560.5L187.7 560.5L192.9 560.5L198.1 560.5L203.2 560.5L208.4 560.5L213.6 560.5L218.8 560.5L223.9 560.5L229.1 560.5L234.3 560.4L239.5 560.4L244.7 560.4L249.8 560.4L255 560.4L260.2 560.4L265.4 560.4L270.6 560.4L275.7 560.4L280.9 560.4L286.1 560.3L291.3 560.3L296.5 560.3L301.6 560.3L306.8 560.2L312 560.2L317.2 560.2L322.4 560.2L327.5 560.1L332.7 560.1L337.9 560L343.1 560L348.3 559.9L353.4 559.8L358.6 559.8L363.8 559.7L369 559.6L374.2 559.5L379.3 559.3L384.5 559.2L389.7 559.1L394.9 558.9L400.1 558.7L405.2 558.5L410.4 558.3L415.6 558.1L420.8 557.8L425.9 557.5L431.1 557.1L436.3 556.7L441.5 556.3L446.7 555.9L451.8 555.3L457 554.8L462.2 554.1L467.4 553.4L472.6 552.6L477.7 551.8L482.9 550.8L488.1 549.8L493.3 548.6L498.5 547.4L503.6 546L508.8 544.5L514 542.8L519.2 541L524.4 539L529.5 536.9L534.7 534.5L539.9 532L545.1 529.3L550.3 526.4L555.4 523.3L560.6 520L565.8 516.5L571 512.8L576.2 509L581.3 505L586.5 500.9L591.7 496.7L596.9 492.5L602.1 488.3L607.2 484.3L612.4 480.4L617.6 476.9L622.8 473.7L627.9 471L633.1 468.9L638.3 467.5L643.5 467L648.7 467.4L653.8 468.8L659 471.2L664.2 474.7L669.4 479.2L674.6 484.7L679.7 491L684.9 498L690.1 505.4L695.3 513L700.5 520.5L705.6 527.8L710.8 534.5L716 540.5L721.2 545.6L726.4 549.9L731.5 553.2L736.7 555.7L741.9 557.5L747.1 558.8L752.3 559.5L757.4 560L762.6 560.3L767.8 560.4L773 560.5L778.2 560.5L783.3 560.5L788.5 560.5L793.7 560.5L798.9 560.5L804.1 560.5L809.2 560.5L814.4 560.5L819.6 560.5L824.8 560.5L830 560.5" fill="none" stroke="#000" stroke-width="2"/>
<path d="M437.2 560.3L440.5 560.3L443.7 560.3L446.9 560.3L450.2 560.2L453.4 560.2L456.6 560.2L459.9 560.2L463.1 560.1L466.3 560.1L469.6 560.1L472.8 560L476 560L479.3 559.9L482.5 559.9L485.7 559.8L488.9 559.8L492.2 559.7L495.4 559.6L498.6 559.6L501.9 559.5L505.1 559.4L508.3 559.3L511.6 559.2L514.8 559.1L518 558.9L521.3 558.8L524.5 558.7L527.7 558.5L531 558.3L534.2 558.1L537.4 557.9L540.6 557.7L543.9 557.4L547.1 557.2L550.3 556.9L553.6 556.5L556.8 556.2L560 555.8L563.3 555.4L566.5 554.9L569.7 554.4L573 553.9L576.2 553.3L579.4 552.7L582.6 552L585.9 551.2L589.1 550.4L592.3 549.5L595.6 548.5L598.8 547.4L602 546.3L605.3 545L608.5 543.6L611.7 542.1L615 540.5L618.2 538.7L621.4 536.8L624.7 534.7L627.9 532.4L631.1 529.9L634.3 527.1L637.6 524.2L640.8 520.9L644 517.4L647.3 513.6L650.5 509.4L653.7 504.8L657 499.9L660.2 494.5L663.4 488.6L666.7 482.2L669.9 475.3L673.1 467.7L676.3 459.4L679.6 450.4L682.8 440.6L686 430L689.3 418.3L692.5 405.7" fill="none" stroke="#5c5c5c" stroke-width="2.8" stroke-dasharray="0.1 10.3" stroke-linecap="round" stroke-dashoffset="-8.2"/>
</g>
<g stroke="#000" stroke-width="1.9" fill="none" stroke-linecap="square">
<rect x="110.0" y="3.3" width="717.0" height="557.2"/>
<path d="M110.0 449.0H827.0"/>
<path d="M149.4 3.3v8.7M149.4 560.5v-8.7M172.5 3.3v8.7M172.5 560.5v-8.7M188.8 3.3v8.7M188.8 560.5v-8.7M201.5 3.3v8.7M201.5 560.5v-8.7M211.9 3.3v8.7M211.9 560.5v-8.7M220.6 3.3v8.7M220.6 560.5v-8.7M228.2 3.3v8.7M228.2 560.5v-8.7M234.9 3.3v8.7M234.9 560.5v-8.7M240.9 3.3v17M240.9 560.5v-17M280.3 3.3v8.7M280.3 560.5v-8.7M303.4 3.3v8.7M303.4 560.5v-8.7M319.7 3.3v8.7M319.7 560.5v-8.7M332.4 3.3v8.7M332.4 560.5v-8.7M342.8 3.3v8.7M342.8 560.5v-8.7M351.5 3.3v8.7M351.5 560.5v-8.7M359.1 3.3v8.7M359.1 560.5v-8.7M365.8 3.3v8.7M365.8 560.5v-8.7M371.8 3.3v17M371.8 560.5v-17M411.2 3.3v8.7M411.2 560.5v-8.7M434.3 3.3v8.7M434.3 560.5v-8.7M450.6 3.3v8.7M450.6 560.5v-8.7M463.3 3.3v8.7M463.3 560.5v-8.7M473.7 3.3v8.7M473.7 560.5v-8.7M482.4 3.3v8.7M482.4 560.5v-8.7M490 3.3v8.7M490 560.5v-8.7M496.7 3.3v8.7M496.7 560.5v-8.7M502.7 3.3v17M502.7 560.5v-17M542.1 3.3v8.7M542.1 560.5v-8.7M565.2 3.3v8.7M565.2 560.5v-8.7M581.5 3.3v8.7M581.5 560.5v-8.7M594.2 3.3v8.7M594.2 560.5v-8.7M604.6 3.3v8.7M604.6 560.5v-8.7M613.3 3.3v8.7M613.3 560.5v-8.7M620.9 3.3v8.7M620.9 560.5v-8.7M627.6 3.3v8.7M627.6 560.5v-8.7M633.6 3.3v17M633.6 560.5v-17M673 3.3v8.7M673 560.5v-8.7M696.1 3.3v8.7M696.1 560.5v-8.7M712.4 3.3v8.7M712.4 560.5v-8.7M725.1 3.3v8.7M725.1 560.5v-8.7M735.5 3.3v8.7M735.5 560.5v-8.7M744.2 3.3v8.7M744.2 560.5v-8.7M751.8 3.3v8.7M751.8 560.5v-8.7M758.5 3.3v8.7M758.5 560.5v-8.7M764.5 3.3v17M764.5 560.5v-17M803.9 3.3v8.7M803.9 560.5v-8.7M110.0 417.3h8.7M827.0 417.3h-8.7M110.0 399.1h8.7M827.0 399.1h-8.7M110.0 386.2h8.7M827.0 386.2h-8.7M110.0 376.2h8.7M827.0 376.2h-8.7M110.0 368h8.7M827.0 368h-8.7M110.0 361h8.7M827.0 361h-8.7M110.0 355h8.7M827.0 355h-8.7M110.0 349.7h8.7M827.0 349.7h-8.7M110.0 345h17M827.0 345h-17M110.0 313.8h8.7M827.0 313.8h-8.7M110.0 295.6h8.7M827.0 295.6h-8.7M110.0 282.7h8.7M827.0 282.7h-8.7M110.0 272.7h8.7M827.0 272.7h-8.7M110.0 264.5h8.7M827.0 264.5h-8.7M110.0 257.5h8.7M827.0 257.5h-8.7M110.0 251.5h8.7M827.0 251.5h-8.7M110.0 246.2h8.7M827.0 246.2h-8.7M110.0 241.5h17M827.0 241.5h-17M110.0 210.3h8.7M827.0 210.3h-8.7M110.0 192.1h8.7M827.0 192.1h-8.7M110.0 179.2h8.7M827.0 179.2h-8.7M110.0 169.2h8.7M827.0 169.2h-8.7M110.0 161h8.7M827.0 161h-8.7M110.0 154h8.7M827.0 154h-8.7M110.0 148h8.7M827.0 148h-8.7M110.0 142.7h8.7M827.0 142.7h-8.7M110.0 138h17M827.0 138h-17M110.0 106.8h8.7M827.0 106.8h-8.7M110.0 88.6h8.7M827.0 88.6h-8.7M110.0 75.7h8.7M827.0 75.7h-8.7M110.0 65.7h8.7M827.0 65.7h-8.7M110.0 57.5h8.7M827.0 57.5h-8.7M110.0 50.5h8.7M827.0 50.5h-8.7M110.0 44.5h8.7M827.0 44.5h-8.7M110.0 39.2h8.7M827.0 39.2h-8.7M110.0 34.5h17M827.0 34.5h-17" stroke-linecap="butt" stroke-width="1.75"/>
</g>
<path d="M666 86H733M633 158.5H765" stroke="#000" stroke-width="2"/>
<circle cx="699" cy="86" r="5"/><circle cx="699" cy="158.5" r="5"/>
<text x="665" y="66.2" font-size="23">±σ<tspan font-size="16.4" dy="4.2">mean</tspan></text>
<text x="670" y="138.5" font-size="23">±σ<tspan font-size="16.4" dy="4.2">max</tspan></text>
<g fill="none">
<path d="M146.5 331H185" stroke="#000" stroke-width="7" stroke-linecap="round"/>
<path d="M145 357.8H186.6" stroke="#8080ff" stroke-width="1.9"/>
<path d="M146.4 384.2H185" stroke="#8080ff" stroke-width="2.8" stroke-linecap="round" stroke-dasharray="7.6 12.8"/>
<path d="M145.6 410.5H185" stroke="#a020f0" stroke-width="2.2" stroke-linecap="round" stroke-dasharray="0.01 8.6 6.4 7.9"/>
<path d="M145.6 475.8H185.5" stroke="#bebebe" stroke-width="17.4" stroke-linecap="round"/>
<path d="M145 502.7H186.6" stroke="#000" stroke-width="2"/>
<path d="M145.3 529H180" stroke="#5c5c5c" stroke-width="2.8" stroke-dasharray="0.1 10.3" stroke-linecap="round"/>
</g>
<g font-size="23.1">
<text x="205" y="339.6">Input Schechter function</text>
<text x="205" y="366.5">Fitted Schechter functions</text>
<text x="205" y="393">Average fit</text>
<text x="205" y="419.3">Average fit, ignoring observing errors</text>
<text x="205" y="484.5">Observed counts</text>
<text x="205" y="511">True counts</text>
<text x="205" y="537.5">Effective volume</text>
</g>
<g transform="translate(110 603.3)"><text font-size="28" text-anchor="middle" transform="scale(0.96 1)">10<tspan font-size="19" dy="-12.5">7</tspan></text></g>
<g transform="translate(240.9 603.3)"><text font-size="28" text-anchor="middle" transform="scale(0.96 1)">10<tspan font-size="19" dy="-12.5">8</tspan></text></g>
<g transform="translate(371.8 603.3)"><text font-size="28" text-anchor="middle" transform="scale(0.96 1)">10<tspan font-size="19" dy="-12.5">9</tspan></text></g>
<g transform="translate(502.7 603.3)"><text font-size="28" text-anchor="middle" transform="scale(0.96 1)">10<tspan font-size="19" dy="-12.5">10</tspan></text></g>
<g transform="translate(633.6 603.3)"><text font-size="28" text-anchor="middle" transform="scale(0.96 1)">10<tspan font-size="19" dy="-12.5">11</tspan></text></g>
<g transform="translate(764.5 603.3)"><text font-size="28" text-anchor="middle" transform="scale(0.96 1)">10<tspan font-size="19" dy="-12.5">12</tspan></text></g>
<g transform="translate(86.3 448) rotate(-90)"><text font-size="28" text-anchor="middle" transform="scale(0.96 1)">10<tspan font-size="19" dy="-14.6">−4</tspan></text></g>
<g transform="translate(86.3 344.5) rotate(-90)"><text font-size="28" text-anchor="middle" transform="scale(0.96 1)">10<tspan font-size="19" dy="-14.6">−3</tspan></text></g>
<g transform="translate(86.3 241) rotate(-90)"><text font-size="28" text-anchor="middle" transform="scale(0.96 1)">10<tspan font-size="19" dy="-14.6">−2</tspan></text></g>
<g transform="translate(86.3 137.5) rotate(-90)"><text font-size="28" text-anchor="middle" transform="scale(0.96 1)">10<tspan font-size="19" dy="-14.6">−1</tspan></text></g>
<g transform="translate(86.3 34) rotate(-90)"><text font-size="28" text-anchor="middle" transform="scale(0.96 1)">10<tspan font-size="19" dy="-14.6">0</tspan></text></g>
<text x="11" y="25" font-size="32">(a)</text>
<g transform="translate(37.2 505) rotate(-90)"><text text-anchor="middle" font-size="27.3">Counts</text></g>
<text transform="translate(30.7 320.4) rotate(-90)" font-size="27">ϕ</text>
<text transform="translate(30.7 298.8) rotate(-90)" font-size="28">[Mpc</text>
<text transform="translate(17 238.9) rotate(-90)" font-size="19">−3</text>
<text transform="translate(30.7 212.4) rotate(-90)" font-size="28">dex</text>
<text transform="translate(17 167.9) rotate(-90)" font-size="19">−1</text>
<text transform="translate(30.7 139.4) rotate(-90)" font-size="28">]</text>
<text x="421.7" y="653.8" font-size="28">M [M</text>
<circle cx="494.8" cy="653.5" r="7.6" fill="none" stroke="#000" stroke-width="1.8"/><circle cx="494.8" cy="653.5" r="2.7"/>
<text x="506.5" y="653.8" font-size="28">]</text>
</svg></body></html>
